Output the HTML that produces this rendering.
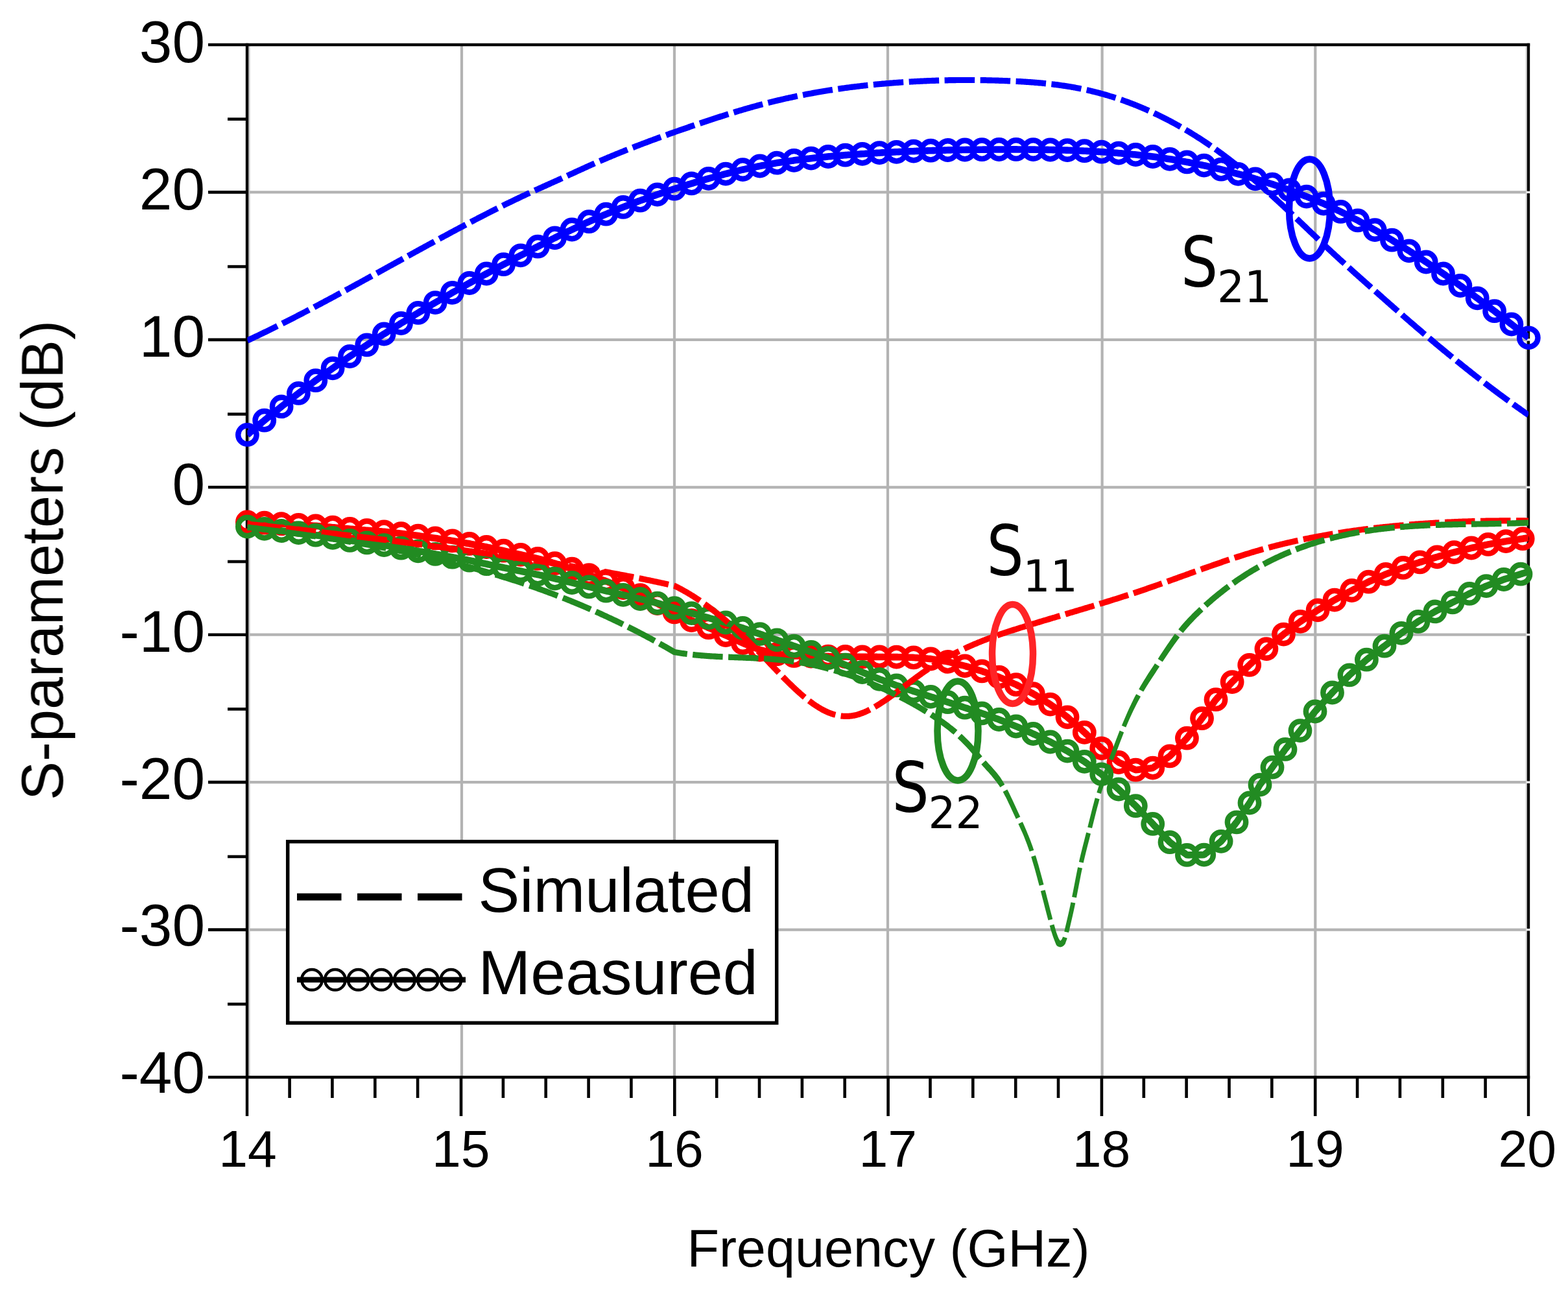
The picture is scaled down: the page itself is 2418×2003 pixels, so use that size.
<!DOCTYPE html>
<html lang="en">
<head>
<meta charset="utf-8">
<title>S-parameters: simulated vs measured</title>
<style>
html,body{margin:0;padding:0;background:#ffffff;}
body{width:2418px;height:2003px;overflow:hidden;}
svg{display:block;}
</style>
</head>
<body>
<svg xmlns="http://www.w3.org/2000/svg" width="2418" height="2003" viewBox="0 0 2418 2003">
<defs>
<clipPath id="plot"><rect x="381.4" y="69.0" width="1975.8" height="1592.0"/></clipPath>
<filter id="soft" x="0" y="0" width="2418" height="2003" filterUnits="userSpaceOnUse"><feGaussianBlur stdDeviation="0.75"/></filter>
</defs>
<rect width="2418" height="2003" fill="#ffffff"/>
<g filter="url(#soft)">
<g stroke="#b3b3b3" stroke-width="4.2" fill="none">
<line x1="712.0" y1="69.0" x2="712.0" y2="1661.0"/>
<line x1="1040.0" y1="69.0" x2="1040.0" y2="1661.0"/>
<line x1="1369.0" y1="69.0" x2="1369.0" y2="1661.0"/>
<line x1="1699.6" y1="69.0" x2="1699.6" y2="1661.0"/>
<line x1="2028.3" y1="69.0" x2="2028.3" y2="1661.0"/>
<line x1="381.0" y1="1433.6" x2="2357.0" y2="1433.6"/>
<line x1="381.0" y1="1206.1" x2="2357.0" y2="1206.1"/>
<line x1="381.0" y1="978.7" x2="2357.0" y2="978.7"/>
<line x1="381.0" y1="751.3" x2="2357.0" y2="751.3"/>
<line x1="381.0" y1="523.9" x2="2357.0" y2="523.9"/>
<line x1="381.0" y1="296.4" x2="2357.0" y2="296.4"/>
</g>
<line x1="384.3" y1="69.0" x2="384.3" y2="1661.0" stroke="#c4c4c4" stroke-width="2.4"/>
<line x1="2353.7" y1="69.0" x2="2353.7" y2="1661.0" stroke="#cfcfcf" stroke-width="2.0"/>
<g stroke="#000000" fill="none" stroke-linecap="butt">
<line x1="321" y1="69.0" x2="2359.2" y2="69.0" stroke-width="4.6"/>
<line x1="321" y1="1661.0" x2="2359.2" y2="1661.0" stroke-width="4.6"/>
<line x1="381.0" y1="66.7" x2="381.0" y2="1721" stroke-width="4.4"/>
<line x1="2357.0" y1="66.7" x2="2357.0" y2="1721" stroke-width="4.4"/>
<line x1="321" y1="1433.6" x2="381.0" y2="1433.6" stroke-width="4.6"/>
<line x1="321" y1="1206.1" x2="381.0" y2="1206.1" stroke-width="4.6"/>
<line x1="321" y1="978.7" x2="381.0" y2="978.7" stroke-width="4.6"/>
<line x1="321" y1="751.3" x2="381.0" y2="751.3" stroke-width="4.6"/>
<line x1="321" y1="523.9" x2="381.0" y2="523.9" stroke-width="4.6"/>
<line x1="321" y1="296.4" x2="381.0" y2="296.4" stroke-width="4.6"/>
<line x1="351" y1="1548.3" x2="381.0" y2="1548.3" stroke-width="4.6"/>
<line x1="351" y1="1320.9" x2="381.0" y2="1320.9" stroke-width="4.6"/>
<line x1="351" y1="1093.4" x2="381.0" y2="1093.4" stroke-width="4.6"/>
<line x1="351" y1="866.0" x2="381.0" y2="866.0" stroke-width="4.6"/>
<line x1="351" y1="638.6" x2="381.0" y2="638.6" stroke-width="4.6"/>
<line x1="351" y1="411.1" x2="381.0" y2="411.1" stroke-width="4.6"/>
<line x1="351" y1="183.7" x2="381.0" y2="183.7" stroke-width="4.6"/>
<line x1="711.0" y1="1661.0" x2="711.0" y2="1721" stroke-width="4.6"/>
<line x1="1040.3" y1="1661.0" x2="1040.3" y2="1721" stroke-width="4.6"/>
<line x1="1369.6" y1="1661.0" x2="1369.6" y2="1721" stroke-width="4.6"/>
<line x1="1698.9" y1="1661.0" x2="1698.9" y2="1721" stroke-width="4.6"/>
<line x1="2028.2" y1="1661.0" x2="2028.2" y2="1721" stroke-width="4.6"/>
<line x1="446.6" y1="1661.0" x2="446.6" y2="1693" stroke-width="4.6"/>
<line x1="512.4" y1="1661.0" x2="512.4" y2="1693" stroke-width="4.6"/>
<line x1="578.3" y1="1661.0" x2="578.3" y2="1693" stroke-width="4.6"/>
<line x1="644.1" y1="1661.0" x2="644.1" y2="1693" stroke-width="4.6"/>
<line x1="775.9" y1="1661.0" x2="775.9" y2="1693" stroke-width="4.6"/>
<line x1="841.7" y1="1661.0" x2="841.7" y2="1693" stroke-width="4.6"/>
<line x1="907.6" y1="1661.0" x2="907.6" y2="1693" stroke-width="4.6"/>
<line x1="973.4" y1="1661.0" x2="973.4" y2="1693" stroke-width="4.6"/>
<line x1="1105.2" y1="1661.0" x2="1105.2" y2="1693" stroke-width="4.6"/>
<line x1="1171.0" y1="1661.0" x2="1171.0" y2="1693" stroke-width="4.6"/>
<line x1="1236.9" y1="1661.0" x2="1236.9" y2="1693" stroke-width="4.6"/>
<line x1="1302.7" y1="1661.0" x2="1302.7" y2="1693" stroke-width="4.6"/>
<line x1="1434.5" y1="1661.0" x2="1434.5" y2="1693" stroke-width="4.6"/>
<line x1="1500.3" y1="1661.0" x2="1500.3" y2="1693" stroke-width="4.6"/>
<line x1="1566.2" y1="1661.0" x2="1566.2" y2="1693" stroke-width="4.6"/>
<line x1="1632.0" y1="1661.0" x2="1632.0" y2="1693" stroke-width="4.6"/>
<line x1="1763.8" y1="1661.0" x2="1763.8" y2="1693" stroke-width="4.6"/>
<line x1="1829.6" y1="1661.0" x2="1829.6" y2="1693" stroke-width="4.6"/>
<line x1="1895.5" y1="1661.0" x2="1895.5" y2="1693" stroke-width="4.6"/>
<line x1="1961.3" y1="1661.0" x2="1961.3" y2="1693" stroke-width="4.6"/>
<line x1="2093.1" y1="1661.0" x2="2093.1" y2="1693" stroke-width="4.6"/>
<line x1="2158.9" y1="1661.0" x2="2158.9" y2="1693" stroke-width="4.6"/>
<line x1="2224.8" y1="1661.0" x2="2224.8" y2="1693" stroke-width="4.6"/>
<line x1="2290.6" y1="1661.0" x2="2290.6" y2="1693" stroke-width="4.6"/>
</g>
<rect x="2354.0" y="1431.9" width="6" height="3.4" fill="#f0f0f0"/>
<rect x="2354.0" y="1204.4" width="6" height="3.4" fill="#f0f0f0"/>
<rect x="2354.0" y="977.0" width="6" height="3.4" fill="#f0f0f0"/>
<rect x="2354.0" y="749.6" width="6" height="3.4" fill="#f0f0f0"/>
<rect x="2354.0" y="522.2" width="6" height="3.4" fill="#f0f0f0"/>
<rect x="2354.0" y="294.7" width="6" height="3.4" fill="#f0f0f0"/>
<g class="m-s11">
<path clip-path="url(#plot)" fill="#ff0000" d="M381.1,810.2 L383.1,810.3 L385.1,810.4 L387.1,810.5 L389.1,810.6 L391.1,810.7 L393.1,810.8 L395.1,810.9 L397.1,811.0 L399.1,811.1 L401.1,811.2 L403.1,811.3 L405.1,811.4 L407.1,811.5 L409.1,811.6 L411.1,811.7 L413.1,811.8 L415.1,811.9 L417.1,812.0 L419.1,812.2 L421.1,812.3 L423.1,812.4 L425.1,812.5 L427.1,812.6 L429.0,812.7 L431.0,812.8 L433.0,812.9 L435.0,813.0 L437.0,813.1 L439.0,813.3 L441.0,813.4 L443.0,813.5 L445.0,813.6 L447.0,813.8 L449.0,813.9 L451.0,814.0 L453.0,814.1 L455.0,814.2 L457.0,814.4 L459.0,814.5 L461.0,814.6 L463.0,814.7 L464.9,814.8 L466.9,815.0 L468.9,815.1 L470.9,815.2 L472.9,815.3 L474.9,815.5 L476.9,815.6 L478.9,815.7 L480.9,815.8 L482.9,815.9 L484.9,816.1 L486.8,816.2 L488.8,816.4 L490.8,816.5 L492.8,816.7 L494.7,816.9 L496.7,817.0 L498.7,817.2 L500.7,817.4 L502.7,817.6 L504.7,817.7 L506.7,817.9 L508.7,818.1 L510.7,818.2 L512.7,818.4 L514.7,818.6 L516.6,818.8 L518.6,819.0 L520.6,819.1 L522.6,819.3 L524.6,819.5 L526.6,819.7 L528.6,819.8 L530.6,820.0 L532.6,820.2 L534.6,820.4 L536.6,820.6 L538.6,820.7 L540.6,820.9 L542.6,821.1 L544.6,821.2 L546.6,821.4 L548.6,821.6 L550.5,821.7 L552.5,821.9 L554.5,822.1 L556.5,822.2 L558.5,822.4 L560.5,822.6 L562.5,822.7 L564.5,822.9 L566.5,823.1 L568.5,823.2 L570.5,823.4 L572.5,823.5 L574.5,823.7 L576.5,823.9 L578.5,824.0 L580.5,824.2 L582.5,824.3 L584.5,824.5 L586.5,824.6 L588.5,824.8 L590.4,824.9 L592.3,825.1 L594.2,825.3 L596.2,825.6 L598.2,825.8 L600.2,826.0 L602.2,826.2 L604.2,826.5 L606.2,826.7 L608.2,826.9 L610.1,827.1 L612.1,827.4 L614.1,827.6 L616.1,827.8 L618.0,828.0 L620.0,828.3 L622.0,828.5 L624.0,828.8 L625.9,829.1 L627.9,829.3 L629.9,829.6 L631.9,829.8 L633.9,830.1 L635.9,830.3 L637.8,830.6 L639.8,830.8 L641.8,831.1 L643.8,831.4 L645.7,831.6 L647.7,831.9 L649.7,832.2 L651.7,832.5 L653.6,832.7 L655.6,833.0 L657.6,833.3 L659.6,833.6 L661.6,833.9 L663.5,834.1 L665.5,834.4 L667.5,834.7 L669.5,835.0 L671.4,835.3 L673.4,835.6 L675.4,835.9 L677.3,836.2 L679.3,836.5 L681.3,836.8 L683.3,837.1 L685.2,837.4 L687.2,837.7 L689.2,837.9 L691.2,838.2 L693.2,838.5 L695.1,838.8 L697.0,839.1 L699.0,839.5 L700.9,839.8 L702.9,840.2 L704.9,840.5 L706.9,840.8 L708.8,841.2 L710.8,841.5 L712.8,841.9 L714.7,842.2 L716.7,842.5 L718.7,842.9 L720.7,843.2 L722.6,843.5 L724.5,843.9 L726.4,844.3 L728.4,844.7 L730.4,845.1 L732.3,845.4 L734.3,845.8 L736.3,846.2 L738.2,846.6 L740.2,847.0 L742.2,847.3 L744.1,847.7 L746.1,848.1 L748.0,848.5 L749.9,848.9 L751.8,849.3 L753.8,849.7 L755.8,850.1 L757.7,850.6 L759.7,851.0 L761.6,851.4 L763.6,851.8 L765.5,852.2 L767.5,852.7 L769.4,853.1 L771.4,853.5 L773.3,853.9 L775.3,854.4 L777.2,854.8 L779.1,855.2 L781.1,855.7 L783.0,856.1 L785.0,856.6 L786.9,857.0 L788.9,857.5 L790.8,857.9 L792.8,858.4 L794.7,858.8 L796.7,859.3 L798.6,859.7 L800.6,860.2 L802.5,860.6 L804.5,861.1 L806.4,861.5 L808.4,862.0 L810.3,862.4 L812.3,862.9 L814.2,863.3 L816.2,863.8 L818.1,864.2 L820.1,864.7 L822.0,865.1 L824.0,865.6 L825.9,866.0 L827.7,866.4 L829.6,866.9 L831.5,867.5 L833.4,868.0 L835.3,868.6 L837.2,869.1 L839.2,869.6 L841.1,870.2 L843.0,870.7 L845.0,871.2 L846.9,871.8 L848.8,872.3 L850.7,872.9 L852.6,873.4 L854.5,873.9 L856.3,874.5 L858.2,875.1 L860.1,875.7 L862.0,876.3 L863.9,877.0 L865.8,877.6 L867.7,878.2 L869.6,878.8 L871.5,879.4 L873.4,880.0 L875.3,880.6 L877.2,881.2 L879.1,881.8 L880.9,882.4 L882.8,883.1 L884.6,883.8 L886.5,884.4 L888.4,885.1 L890.3,885.8 L892.2,886.4 L894.1,887.1 L896.0,887.8 L897.8,888.5 L899.7,889.1 L901.6,889.8 L903.5,890.5 L905.4,891.1 L907.2,891.8 L909.1,892.5 L911.0,893.2 L912.9,893.9 L914.7,894.6 L916.6,895.2 L918.5,895.9 L920.4,896.6 L922.2,897.3 L924.1,898.0 L926.0,898.7 L927.9,899.4 L929.8,900.0 L931.6,900.7 L933.4,901.4 L935.2,902.1 L937.1,902.9 L938.9,903.6 L940.8,904.3 L942.7,905.1 L944.5,905.8 L946.4,906.5 L948.2,907.3 L950.1,908.0 L952.0,908.8 L953.8,909.5 L955.7,910.2 L957.5,911.0 L959.3,911.7 L961.1,912.5 L963.0,913.2 L964.8,914.0 L966.7,914.8 L968.5,915.6 L970.4,916.3 L972.2,917.1 L974.0,917.9 L975.9,918.7 L977.7,919.4 L979.6,920.2 L981.4,921.0 L983.3,921.8 L985.0,922.5 L986.6,923.3 L988.4,924.2 L990.2,925.0 L992.0,925.9 L993.8,926.8 L995.6,927.7 L997.4,928.6 L999.2,929.4 L1001.0,930.3 L1002.8,931.2 L1004.6,932.1 L1006.4,932.9 L1008.2,933.8 L1010.0,934.7 L1011.7,935.6 L1013.5,936.5 L1015.3,937.4 L1017.1,938.3 L1018.9,939.2 L1020.7,940.1 L1022.4,941.0 L1024.2,941.9 L1026.0,942.8 L1027.8,943.7 L1029.6,944.6 L1031.4,945.5 L1033.2,946.3 L1035.0,947.2 L1036.8,948.2 L1038.6,949.1 L1040.4,949.9 L1042.2,950.8 L1044.0,951.7 L1045.8,952.5 L1047.6,953.4 L1049.4,954.3 L1051.2,955.2 L1053.0,956.0 L1054.8,956.9 L1056.6,957.8 L1058.4,958.6 L1060.2,959.5 L1062.0,960.4 L1063.9,961.3 L1065.9,962.1 L1067.7,962.9 L1069.5,963.7 L1071.4,964.5 L1073.2,965.3 L1075.1,966.1 L1076.9,966.9 L1078.7,967.7 L1080.6,968.5 L1082.4,969.2 L1084.2,970.0 L1086.1,970.8 L1087.9,971.6 L1089.7,972.4 L1091.6,973.2 L1093.4,974.0 L1095.2,974.8 L1097.0,975.6 L1098.9,976.4 L1100.7,977.2 L1102.5,978.0 L1104.3,978.8 L1106.2,979.6 L1108.0,980.5 L1109.8,981.3 L1111.7,982.1 L1113.5,982.9 L1115.3,983.7 L1117.1,984.5 L1118.9,985.3 L1120.7,986.1 L1122.5,987.0 L1124.4,987.8 L1126.2,988.6 L1128.0,989.5 L1129.8,990.3 L1131.6,991.1 L1133.5,992.0 L1135.3,992.8 L1137.1,993.6 L1138.9,994.5 L1140.7,995.3 L1142.6,996.1 L1144.6,997.0 L1146.5,997.7 L1148.4,998.5 L1150.2,999.2 L1152.1,999.9 L1154.0,1000.7 L1155.8,1001.4 L1157.7,1002.1 L1159.5,1002.9 L1161.4,1003.6 L1163.3,1004.3 L1165.1,1005.1 L1167.0,1005.8 L1169.0,1006.6 L1171.2,1007.3 L1173.3,1007.9 L1175.3,1008.4 L1177.2,1008.9 L1179.1,1009.3 L1181.1,1009.8 L1183.0,1010.3 L1185.0,1010.8 L1186.9,1011.3 L1188.8,1011.8 L1190.8,1012.3 L1192.7,1012.8 L1194.7,1013.3 L1196.9,1013.8 L1199.3,1014.1 L1201.3,1014.3 L1203.3,1014.5 L1205.3,1014.7 L1207.3,1014.9 L1209.3,1015.1 L1211.3,1015.3 L1213.3,1015.5 L1215.2,1015.7 L1217.2,1015.9 L1219.2,1016.1 L1221.2,1016.4 L1223.3,1016.6 L1225.5,1016.7 L1227.6,1016.7 L1229.6,1016.8 L1231.6,1016.8 L1233.6,1016.9 L1235.6,1016.9 L1237.6,1017.0 L1239.6,1017.1 L1241.6,1017.1 L1243.6,1017.2 L1245.6,1017.2 L1247.6,1017.3 L1249.6,1017.3 L1251.7,1017.3 L1253.7,1017.4 L1255.7,1017.4 L1257.7,1017.4 L1259.7,1017.4 L1261.7,1017.4 L1263.7,1017.4 L1265.7,1017.4 L1267.7,1017.4 L1269.7,1017.4 L1271.7,1017.4 L1273.7,1017.4 L1275.7,1017.4 L1277.7,1017.4 L1279.7,1017.5 L1281.7,1017.5 L1283.7,1017.5 L1285.7,1017.6 L1287.7,1017.6 L1289.7,1017.6 L1291.7,1017.6 L1293.7,1017.7 L1295.7,1017.7 L1297.7,1017.7 L1299.7,1017.7 L1301.7,1017.8 L1303.7,1017.8 L1305.7,1017.8 L1307.6,1017.9 L1309.6,1017.9 L1311.6,1017.9 L1313.6,1018.0 L1315.6,1018.0 L1317.6,1018.0 L1319.6,1018.1 L1321.6,1018.1 L1323.6,1018.1 L1325.6,1018.1 L1327.6,1018.2 L1329.7,1018.2 L1331.7,1018.2 L1333.7,1018.2 L1335.7,1018.2 L1337.7,1018.2 L1339.7,1018.2 L1341.7,1018.2 L1343.7,1018.2 L1345.7,1018.2 L1347.7,1018.2 L1349.7,1018.2 L1351.7,1018.2 L1353.7,1018.3 L1355.7,1018.3 L1357.7,1018.3 L1359.7,1018.3 L1361.7,1018.3 L1363.7,1018.3 L1365.7,1018.3 L1367.7,1018.3 L1369.7,1018.3 L1371.7,1018.3 L1373.7,1018.3 L1375.7,1018.4 L1377.7,1018.4 L1379.7,1018.4 L1381.7,1018.4 L1383.6,1018.4 L1385.6,1018.5 L1387.6,1018.5 L1389.6,1018.6 L1391.6,1018.7 L1393.6,1018.7 L1395.6,1018.8 L1397.6,1018.9 L1399.6,1018.9 L1401.6,1019.0 L1403.6,1019.1 L1405.6,1019.1 L1407.5,1019.2 L1409.4,1019.3 L1411.3,1019.4 L1413.3,1019.6 L1415.3,1019.7 L1417.3,1019.9 L1419.3,1020.1 L1421.3,1020.2 L1423.3,1020.4 L1425.2,1020.5 L1427.2,1020.7 L1429.2,1020.8 L1431.2,1021.0 L1433.2,1021.2 L1435.0,1021.3 L1436.8,1021.6 L1438.7,1021.9 L1440.7,1022.3 L1442.7,1022.6 L1444.7,1022.9 L1446.6,1023.2 L1448.6,1023.5 L1450.6,1023.9 L1452.6,1024.2 L1454.5,1024.5 L1456.5,1024.8 L1458.5,1025.1 L1460.3,1025.4 L1462.0,1025.8 L1463.9,1026.3 L1465.8,1026.8 L1467.8,1027.3 L1469.7,1027.8 L1471.7,1028.2 L1473.6,1028.7 L1475.5,1029.2 L1477.5,1029.7 L1479.4,1030.2 L1481.4,1030.7 L1483.3,1031.1 L1485.2,1031.6 L1487.0,1032.1 L1488.8,1032.7 L1490.7,1033.2 L1492.7,1033.8 L1494.6,1034.4 L1496.5,1035.0 L1498.4,1035.6 L1500.3,1036.2 L1502.2,1036.7 L1504.1,1037.3 L1506.0,1037.9 L1508.0,1038.5 L1509.9,1039.1 L1511.7,1039.6 L1513.5,1040.2 L1515.4,1040.9 L1517.3,1041.5 L1519.1,1042.2 L1521.0,1042.9 L1522.9,1043.5 L1524.8,1044.2 L1526.7,1044.8 L1528.6,1045.5 L1530.5,1046.2 L1532.4,1046.8 L1534.2,1047.5 L1536.1,1048.1 L1537.9,1048.8 L1539.6,1049.4 L1541.3,1050.2 L1543.2,1051.0 L1545.0,1051.8 L1546.8,1052.6 L1548.6,1053.4 L1550.5,1054.2 L1552.3,1055.0 L1554.1,1055.8 L1556.0,1056.6 L1557.8,1057.4 L1559.6,1058.3 L1561.5,1059.1 L1563.3,1059.8 L1564.9,1060.6 L1566.5,1061.5 L1568.3,1062.4 L1570.0,1063.3 L1571.8,1064.3 L1573.6,1065.2 L1575.3,1066.2 L1577.1,1067.1 L1578.9,1068.0 L1580.6,1069.0 L1582.4,1069.9 L1584.2,1070.9 L1585.9,1071.8 L1587.7,1072.7 L1589.4,1073.7 L1591.0,1074.5 L1592.6,1075.5 L1594.3,1076.6 L1596.0,1077.6 L1597.7,1078.7 L1599.4,1079.8 L1601.1,1080.8 L1602.8,1081.9 L1604.5,1082.9 L1606.2,1084.0 L1607.9,1085.1 L1609.6,1086.1 L1611.3,1087.2 L1613.0,1088.2 L1614.7,1089.3 L1616.2,1090.3 L1617.7,1091.3 L1619.2,1092.4 L1620.8,1093.6 L1622.4,1094.8 L1624.0,1096.0 L1625.6,1097.2 L1627.2,1098.4 L1628.9,1099.6 L1630.5,1100.8 L1632.1,1102.0 L1633.7,1103.2 L1635.3,1104.4 L1636.9,1105.6 L1638.5,1106.8 L1640.1,1108.0 L1641.6,1109.1 L1643.0,1110.2 L1644.4,1111.5 L1645.9,1112.8 L1647.4,1114.1 L1648.9,1115.4 L1650.4,1116.8 L1651.8,1118.1 L1653.3,1119.4 L1654.8,1120.8 L1656.3,1122.1 L1657.8,1123.4 L1659.3,1124.8 L1660.8,1126.1 L1662.3,1127.4 L1663.8,1128.8 L1665.3,1130.1 L1666.8,1131.4 L1668.2,1132.7 L1669.7,1134.0 L1671.1,1135.4 L1672.6,1136.8 L1674.0,1138.1 L1675.5,1139.5 L1677.0,1140.8 L1678.4,1142.2 L1679.9,1143.6 L1681.3,1144.9 L1682.8,1146.3 L1684.3,1147.7 L1685.7,1149.0 L1687.2,1150.4 L1688.7,1151.8 L1690.1,1153.1 L1691.6,1154.5 L1693.0,1155.9 L1694.6,1157.3 L1696.2,1158.7 L1697.8,1160.0 L1699.4,1161.3 L1700.9,1162.6 L1702.4,1163.8 L1704.0,1165.1 L1705.5,1166.4 L1707.1,1167.6 L1708.6,1168.9 L1710.2,1170.2 L1711.7,1171.4 L1713.3,1172.7 L1714.8,1174.0 L1716.4,1175.3 L1717.9,1176.5 L1719.4,1177.8 L1721.3,1179.3 L1723.6,1180.7 L1725.7,1181.6 L1727.6,1182.4 L1729.4,1183.3 L1731.2,1184.1 L1733.0,1184.9 L1734.9,1185.7 L1736.7,1186.5 L1738.5,1187.3 L1740.4,1188.1 L1742.2,1188.9 L1744.0,1189.8 L1745.8,1190.6 L1747.9,1191.5 L1751.1,1192.5 L1754.3,1192.2 L1756.3,1192.0 L1758.2,1191.7 L1760.2,1191.5 L1762.2,1191.3 L1764.2,1191.1 L1766.2,1190.8 L1768.2,1190.6 L1770.2,1190.4 L1772.2,1190.1 L1774.1,1189.9 L1776.1,1189.7 L1779.2,1189.2 L1782.1,1187.5 L1783.8,1186.3 L1785.5,1185.2 L1787.1,1184.1 L1788.8,1182.9 L1790.4,1181.8 L1792.1,1180.6 L1793.7,1179.5 L1795.3,1178.4 L1797.0,1177.2 L1798.6,1176.1 L1800.3,1175.0 L1801.9,1173.8 L1803.6,1172.7 L1805.2,1171.5 L1807.2,1170.1 L1809.1,1168.3 L1810.5,1166.8 L1811.9,1165.4 L1813.2,1163.9 L1814.6,1162.5 L1816.0,1161.0 L1817.4,1159.6 L1818.7,1158.1 L1820.1,1156.7 L1821.5,1155.2 L1822.9,1153.8 L1824.3,1152.3 L1825.6,1150.9 L1827.0,1149.4 L1828.4,1148.0 L1829.8,1146.6 L1831.2,1145.1 L1832.5,1143.7 L1834.1,1142.0 L1835.5,1140.2 L1836.7,1138.6 L1838.0,1137.0 L1839.2,1135.4 L1840.4,1133.8 L1841.6,1132.2 L1842.8,1130.6 L1844.0,1129.0 L1845.2,1127.4 L1846.4,1125.8 L1847.6,1124.2 L1848.8,1122.6 L1850.0,1121.1 L1851.2,1119.5 L1852.4,1117.9 L1853.6,1116.3 L1854.9,1114.7 L1856.1,1113.1 L1857.3,1111.5 L1858.5,1109.8 L1859.7,1108.2 L1860.9,1106.6 L1862.1,1105.0 L1863.3,1103.4 L1864.5,1101.8 L1865.6,1100.2 L1866.8,1098.6 L1868.0,1097.0 L1869.2,1095.4 L1870.4,1093.8 L1871.6,1092.2 L1872.8,1090.6 L1874.0,1089.0 L1875.2,1087.4 L1876.4,1085.8 L1877.6,1084.1 L1878.7,1082.7 L1879.8,1081.4 L1881.1,1080.0 L1882.4,1078.5 L1883.8,1077.1 L1885.1,1075.6 L1886.5,1074.1 L1887.8,1072.7 L1889.2,1071.2 L1890.6,1069.7 L1891.9,1068.3 L1893.3,1066.8 L1894.6,1065.3 L1896.0,1063.8 L1897.4,1062.4 L1898.7,1060.9 L1900.1,1059.4 L1901.4,1058.0 L1902.8,1056.5 L1904.1,1055.1 L1905.4,1053.8 L1906.8,1052.4 L1908.3,1051.0 L1909.7,1049.6 L1911.1,1048.2 L1912.5,1046.8 L1914.0,1045.4 L1915.4,1044.0 L1916.8,1042.6 L1918.2,1041.2 L1919.7,1039.8 L1921.1,1038.4 L1922.5,1037.0 L1923.9,1035.6 L1925.4,1034.2 L1926.8,1032.8 L1928.2,1031.4 L1929.6,1030.0 L1931.0,1028.6 L1932.5,1027.3 L1933.9,1025.9 L1935.4,1024.5 L1936.8,1023.1 L1938.3,1021.8 L1939.7,1020.4 L1941.2,1019.0 L1942.6,1017.6 L1944.1,1016.3 L1945.5,1014.9 L1947.0,1013.5 L1948.4,1012.1 L1949.9,1010.7 L1951.3,1009.4 L1952.8,1008.0 L1954.2,1006.6 L1955.6,1005.3 L1957.0,1004.0 L1958.4,1002.8 L1960.0,1001.5 L1961.5,1000.2 L1963.0,998.9 L1964.5,997.6 L1966.1,996.3 L1967.6,995.0 L1969.1,993.7 L1970.6,992.4 L1972.2,991.1 L1973.7,989.9 L1975.2,988.6 L1976.7,987.3 L1978.3,986.0 L1979.8,984.7 L1981.3,983.4 L1982.7,982.2 L1984.2,981.1 L1985.8,979.8 L1987.4,978.6 L1989.0,977.4 L1990.6,976.2 L1992.2,975.0 L1993.8,973.8 L1995.4,972.6 L1996.9,971.4 L1998.5,970.1 L2000.1,968.9 L2001.7,967.7 L2003.3,966.5 L2004.9,965.3 L2006.5,964.1 L2008.0,963.0 L2009.5,961.9 L2011.1,960.9 L2012.8,959.8 L2014.5,958.7 L2016.1,957.6 L2017.8,956.5 L2019.5,955.4 L2021.1,954.3 L2022.8,953.2 L2024.5,952.1 L2026.2,951.0 L2027.8,949.9 L2029.5,948.8 L2031.2,947.7 L2032.9,946.6 L2034.5,945.6 L2036.1,944.6 L2037.8,943.6 L2039.5,942.5 L2041.2,941.5 L2042.9,940.4 L2044.6,939.4 L2046.3,938.4 L2048.1,937.3 L2049.8,936.3 L2051.5,935.3 L2053.2,934.2 L2054.9,933.2 L2056.6,932.2 L2058.3,931.1 L2060.0,930.1 L2061.6,929.2 L2063.3,928.2 L2065.1,927.3 L2066.8,926.3 L2068.6,925.3 L2070.3,924.4 L2072.1,923.4 L2073.8,922.5 L2075.6,921.5 L2077.3,920.5 L2079.1,919.6 L2080.8,918.6 L2082.6,917.6 L2084.3,916.7 L2086.1,915.7 L2087.8,914.8 L2089.5,913.9 L2091.3,913.0 L2093.1,912.1 L2094.8,911.2 L2096.6,910.3 L2098.4,909.3 L2100.2,908.4 L2102.0,907.5 L2103.7,906.6 L2105.5,905.7 L2107.3,904.8 L2109.1,903.8 L2110.9,902.9 L2112.5,902.1 L2114.2,901.3 L2116.0,900.5 L2117.8,899.7 L2119.7,898.9 L2121.5,898.1 L2123.3,897.2 L2125.1,896.4 L2127.0,895.6 L2128.8,894.8 L2130.6,894.0 L2132.5,893.2 L2134.3,892.4 L2136.1,891.5 L2137.9,890.8 L2139.6,890.0 L2141.3,889.4 L2143.2,888.7 L2145.1,888.0 L2147.0,887.3 L2148.8,886.6 L2150.7,885.9 L2152.6,885.2 L2154.5,884.5 L2156.3,883.9 L2158.2,883.2 L2160.1,882.5 L2162.0,881.8 L2163.8,881.1 L2165.6,880.4 L2167.4,879.8 L2169.3,879.2 L2171.2,878.6 L2173.1,878.0 L2175.0,877.3 L2176.9,876.7 L2178.8,876.1 L2180.7,875.5 L2182.6,874.8 L2184.5,874.2 L2186.4,873.6 L2188.3,873.0 L2190.2,872.3 L2192.1,871.7 L2194.0,871.2 L2195.9,870.6 L2197.8,870.0 L2199.7,869.4 L2201.6,868.8 L2203.5,868.2 L2205.4,867.6 L2207.3,867.0 L2209.2,866.5 L2211.2,865.9 L2213.1,865.3 L2215.0,864.7 L2216.8,864.1 L2218.7,863.6 L2220.6,863.1 L2222.5,862.5 L2224.4,862.0 L2226.4,861.5 L2228.3,861.0 L2230.2,860.4 L2232.2,859.9 L2234.1,859.4 L2236.0,858.9 L2237.9,858.4 L2239.9,857.8 L2241.8,857.3 L2243.7,856.8 L2245.6,856.3 L2247.5,855.8 L2249.4,855.4 L2251.4,854.9 L2253.3,854.4 L2255.3,853.9 L2257.2,853.4 L2259.2,852.9 L2261.1,852.5 L2263.0,852.0 L2265.0,851.5 L2266.9,851.0 L2268.8,850.5 L2270.7,850.1 L2272.6,849.7 L2274.6,849.3 L2276.5,848.8 L2278.5,848.4 L2280.4,848.0 L2282.4,847.6 L2284.3,847.1 L2286.3,846.7 L2288.2,846.3 L2290.2,845.9 L2292.1,845.4 L2294.1,845.0 L2296.0,844.6 L2297.8,844.3 L2299.8,844.0 L2301.8,843.6 L2303.7,843.3 L2305.7,842.9 L2307.7,842.6 L2309.6,842.2 L2311.6,841.9 L2313.6,841.5 L2315.6,841.2 L2317.5,840.9 L2319.5,840.5 L2321.5,840.2 L2323.4,839.8 L2325.3,839.5 L2327.3,839.2 L2329.3,838.9 L2331.2,838.6 L2333.2,838.3 L2335.2,838.0 L2337.2,837.7 L2339.1,837.4 L2341.1,837.1 L2343.1,836.8 L2345.1,836.5 L2347.0,836.2 L2349.0,835.9 L2351.0,835.6 L2353.0,835.3 L2355.0,835.0 L2356.9,834.7 L2358.9,834.4 L2360.0,834.2 L2358.4,823.8 L2357.3,823.9 L2355.3,824.2 L2353.4,824.5 L2351.4,824.8 L2349.4,825.1 L2347.4,825.4 L2345.4,825.7 L2343.5,826.1 L2341.5,826.4 L2339.5,826.7 L2337.5,827.0 L2335.6,827.3 L2333.6,827.6 L2331.6,827.9 L2329.6,828.2 L2327.7,828.5 L2325.7,828.8 L2323.7,829.1 L2321.7,829.4 L2319.6,829.7 L2317.7,830.1 L2315.7,830.4 L2313.7,830.8 L2311.8,831.1 L2309.8,831.5 L2307.8,831.8 L2305.8,832.1 L2303.9,832.5 L2301.9,832.8 L2299.9,833.2 L2298.0,833.5 L2296.0,833.9 L2293.9,834.2 L2291.9,834.7 L2289.9,835.1 L2288.0,835.5 L2286.0,835.9 L2284.0,836.4 L2282.1,836.8 L2280.1,837.2 L2278.2,837.6 L2276.2,838.0 L2274.3,838.5 L2272.3,838.9 L2270.4,839.3 L2268.3,839.8 L2266.3,840.2 L2264.4,840.7 L2262.4,841.2 L2260.5,841.7 L2258.5,842.2 L2256.6,842.7 L2254.7,843.1 L2252.7,843.6 L2250.8,844.1 L2248.8,844.6 L2246.9,845.1 L2245.0,845.6 L2243.0,846.0 L2241.0,846.5 L2239.0,847.1 L2237.1,847.6 L2235.2,848.1 L2233.2,848.6 L2231.3,849.2 L2229.4,849.7 L2227.4,850.2 L2225.5,850.7 L2223.6,851.3 L2221.7,851.8 L2219.7,852.3 L2217.8,852.8 L2215.8,853.4 L2213.8,854.0 L2211.9,854.6 L2210.0,855.1 L2208.0,855.7 L2206.1,856.3 L2204.2,856.9 L2202.3,857.5 L2200.4,858.1 L2198.5,858.7 L2196.6,859.3 L2194.7,859.9 L2192.8,860.4 L2190.8,861.0 L2188.9,861.6 L2186.9,862.3 L2185.0,862.9 L2183.1,863.5 L2181.2,864.1 L2179.3,864.8 L2177.4,865.4 L2175.5,866.0 L2173.6,866.6 L2171.7,867.3 L2169.8,867.9 L2167.9,868.5 L2166.0,869.1 L2164.1,869.8 L2162.1,870.4 L2160.2,871.1 L2158.3,871.8 L2156.4,872.5 L2154.5,873.2 L2152.7,873.9 L2150.8,874.6 L2148.9,875.3 L2147.0,876.0 L2145.2,876.7 L2143.3,877.4 L2141.4,878.1 L2139.5,878.8 L2137.7,879.5 L2135.7,880.2 L2133.7,881.0 L2131.8,881.9 L2130.0,882.7 L2128.1,883.5 L2126.3,884.3 L2124.5,885.1 L2122.7,885.9 L2120.8,886.7 L2119.0,887.6 L2117.2,888.4 L2115.3,889.2 L2113.5,890.0 L2111.7,890.8 L2109.8,891.6 L2107.9,892.5 L2106.0,893.5 L2104.2,894.4 L2102.4,895.3 L2100.7,896.3 L2098.9,897.2 L2097.1,898.1 L2095.3,899.0 L2093.6,899.9 L2091.8,900.8 L2090.0,901.7 L2088.2,902.7 L2086.4,903.6 L2084.7,904.5 L2082.8,905.4 L2081.0,906.4 L2079.2,907.4 L2077.5,908.3 L2075.7,909.3 L2074.0,910.3 L2072.2,911.2 L2070.5,912.2 L2068.7,913.2 L2067.0,914.1 L2065.2,915.1 L2063.5,916.1 L2061.7,917.0 L2060.0,918.0 L2058.2,918.9 L2056.4,919.9 L2054.6,921.0 L2052.8,922.1 L2051.1,923.1 L2049.4,924.1 L2047.7,925.2 L2046.0,926.2 L2044.3,927.2 L2042.6,928.3 L2040.8,929.3 L2039.1,930.3 L2037.4,931.4 L2035.7,932.4 L2034.0,933.5 L2032.3,934.5 L2030.6,935.5 L2028.8,936.6 L2027.1,937.8 L2025.4,938.9 L2023.7,940.0 L2022.0,941.1 L2020.4,942.2 L2018.7,943.2 L2017.0,944.3 L2015.3,945.4 L2013.7,946.5 L2012.0,947.6 L2010.3,948.7 L2008.6,949.8 L2007.0,950.9 L2005.3,952.0 L2003.6,953.1 L2001.8,954.4 L2000.1,955.7 L1998.5,956.9 L1996.9,958.1 L1995.3,959.3 L1993.7,960.5 L1992.1,961.7 L1990.5,962.9 L1988.9,964.1 L1987.3,965.3 L1985.8,966.6 L1984.2,967.8 L1982.6,969.0 L1981.0,970.2 L1979.4,971.4 L1977.8,972.6 L1976.1,973.9 L1974.5,975.3 L1972.9,976.6 L1971.4,977.9 L1969.9,979.2 L1968.4,980.5 L1966.8,981.8 L1965.3,983.1 L1963.8,984.4 L1962.3,985.7 L1960.7,986.9 L1959.2,988.2 L1957.7,989.5 L1956.2,990.8 L1954.6,992.1 L1953.1,993.4 L1951.6,994.7 L1950.0,996.1 L1948.4,997.5 L1946.9,998.9 L1945.5,1000.3 L1944.0,1001.7 L1942.6,1003.1 L1941.1,1004.4 L1939.7,1005.8 L1938.2,1007.2 L1936.8,1008.6 L1935.3,1009.9 L1933.9,1011.3 L1932.4,1012.7 L1931.0,1014.1 L1929.5,1015.5 L1928.1,1016.8 L1926.6,1018.2 L1925.2,1019.6 L1923.7,1021.0 L1922.2,1022.4 L1920.8,1023.8 L1919.4,1025.2 L1917.9,1026.6 L1916.5,1028.0 L1915.1,1029.4 L1913.7,1030.8 L1912.2,1032.2 L1910.8,1033.6 L1909.4,1035.0 L1908.0,1036.4 L1906.5,1037.9 L1905.1,1039.3 L1903.7,1040.7 L1902.2,1042.1 L1900.8,1043.5 L1899.4,1044.9 L1898.0,1046.3 L1896.5,1047.7 L1895.0,1049.3 L1893.6,1050.8 L1892.3,1052.2 L1890.9,1053.7 L1889.6,1055.2 L1888.2,1056.6 L1886.9,1058.1 L1885.5,1059.6 L1884.1,1061.1 L1882.8,1062.5 L1881.4,1064.0 L1880.1,1065.5 L1878.7,1066.9 L1877.3,1068.4 L1876.0,1069.9 L1874.6,1071.3 L1873.3,1072.8 L1871.8,1074.4 L1870.4,1076.1 L1869.1,1077.8 L1867.9,1079.4 L1866.7,1081.1 L1865.5,1082.7 L1864.3,1084.3 L1863.1,1085.9 L1861.9,1087.5 L1860.7,1089.1 L1859.5,1090.7 L1858.3,1092.3 L1857.2,1093.9 L1856.0,1095.5 L1854.8,1097.1 L1853.6,1098.7 L1852.4,1100.3 L1851.2,1101.9 L1850.0,1103.5 L1848.8,1105.1 L1847.6,1106.7 L1846.4,1108.3 L1845.2,1109.9 L1844.0,1111.5 L1842.8,1113.1 L1841.6,1114.7 L1840.4,1116.2 L1839.2,1117.8 L1838.0,1119.4 L1836.7,1121.0 L1835.5,1122.6 L1834.3,1124.2 L1833.1,1125.8 L1831.9,1127.4 L1830.7,1129.0 L1829.5,1130.6 L1828.3,1132.2 L1827.1,1133.7 L1826.1,1135.1 L1824.9,1136.3 L1823.5,1137.8 L1822.1,1139.2 L1820.7,1140.7 L1819.3,1142.1 L1818.0,1143.6 L1816.6,1145.0 L1815.2,1146.5 L1813.8,1147.9 L1812.4,1149.4 L1811.1,1150.8 L1809.7,1152.3 L1808.3,1153.7 L1806.9,1155.2 L1805.6,1156.6 L1804.2,1158.1 L1802.8,1159.5 L1801.5,1160.9 L1800.5,1162.0 L1799.2,1162.8 L1797.5,1164.0 L1795.9,1165.1 L1794.3,1166.2 L1792.6,1167.4 L1791.0,1168.5 L1789.3,1169.6 L1787.7,1170.8 L1786.0,1171.9 L1784.4,1173.1 L1782.7,1174.2 L1781.1,1175.3 L1779.4,1176.5 L1777.8,1177.6 L1776.3,1178.7 L1775.7,1179.2 L1774.9,1179.1 L1772.9,1179.4 L1770.9,1179.6 L1768.9,1179.8 L1766.9,1180.1 L1765.0,1180.3 L1763.0,1180.5 L1761.0,1180.8 L1759.0,1181.0 L1757.0,1181.2 L1755.0,1181.5 L1753.0,1181.7 L1752.2,1181.9 L1751.8,1181.6 L1750.1,1180.9 L1748.3,1180.1 L1746.5,1179.3 L1744.7,1178.5 L1742.8,1177.6 L1741.0,1176.8 L1739.2,1176.0 L1737.4,1175.2 L1735.5,1174.4 L1733.7,1173.6 L1731.9,1172.8 L1730.0,1171.9 L1728.5,1171.3 L1727.4,1170.6 L1726.2,1169.6 L1724.6,1168.3 L1723.1,1167.1 L1721.5,1165.8 L1720.0,1164.5 L1718.4,1163.3 L1716.9,1162.0 L1715.4,1160.7 L1713.8,1159.5 L1712.3,1158.2 L1710.7,1156.9 L1709.2,1155.6 L1707.6,1154.4 L1706.1,1153.1 L1704.5,1151.8 L1703.0,1150.6 L1701.7,1149.4 L1700.3,1148.1 L1698.8,1146.7 L1697.3,1145.4 L1695.9,1144.0 L1694.4,1142.7 L1693.0,1141.3 L1691.5,1139.9 L1690.0,1138.6 L1688.6,1137.2 L1687.1,1135.8 L1685.7,1134.5 L1684.2,1133.1 L1682.7,1131.7 L1681.3,1130.4 L1679.8,1129.0 L1678.3,1127.6 L1676.9,1126.3 L1675.3,1124.9 L1673.8,1123.5 L1672.3,1122.2 L1670.8,1120.8 L1669.3,1119.5 L1667.9,1118.2 L1666.4,1116.9 L1664.9,1115.5 L1663.4,1114.2 L1661.9,1112.9 L1660.4,1111.5 L1658.9,1110.2 L1657.4,1108.9 L1655.9,1107.5 L1654.4,1106.2 L1652.9,1104.9 L1651.4,1103.5 L1649.8,1102.1 L1648.1,1100.7 L1646.4,1099.5 L1644.8,1098.3 L1643.2,1097.1 L1641.6,1095.9 L1640.0,1094.7 L1638.4,1093.5 L1636.8,1092.3 L1635.2,1091.1 L1633.6,1089.9 L1632.0,1088.7 L1630.4,1087.5 L1628.8,1086.3 L1627.2,1085.1 L1625.6,1083.9 L1623.9,1082.7 L1622.1,1081.4 L1620.3,1080.3 L1618.6,1079.2 L1616.9,1078.2 L1615.2,1077.1 L1613.5,1076.1 L1611.8,1075.0 L1610.1,1073.9 L1608.4,1072.9 L1606.7,1071.8 L1605.0,1070.8 L1603.3,1069.7 L1601.6,1068.6 L1599.9,1067.6 L1598.2,1066.5 L1596.4,1065.4 L1594.5,1064.3 L1592.7,1063.4 L1590.9,1062.4 L1589.2,1061.5 L1587.4,1060.6 L1585.6,1059.6 L1583.9,1058.7 L1582.1,1057.7 L1580.3,1056.8 L1578.6,1055.9 L1576.8,1054.9 L1575.0,1054.0 L1573.3,1053.0 L1571.5,1052.1 L1569.6,1051.1 L1567.6,1050.2 L1565.7,1049.4 L1563.9,1048.5 L1562.1,1047.7 L1560.2,1046.9 L1558.4,1046.1 L1556.6,1045.3 L1554.7,1044.5 L1552.9,1043.7 L1551.1,1042.9 L1549.2,1042.1 L1547.4,1041.3 L1545.6,1040.5 L1543.7,1039.7 L1541.6,1038.8 L1539.6,1038.1 L1537.7,1037.5 L1535.9,1036.8 L1534.0,1036.2 L1532.1,1035.5 L1530.2,1034.8 L1528.3,1034.2 L1526.4,1033.5 L1524.5,1032.9 L1522.6,1032.2 L1520.8,1031.5 L1518.9,1030.9 L1516.9,1030.2 L1514.9,1029.5 L1513.0,1028.9 L1511.0,1028.4 L1509.1,1027.8 L1507.2,1027.2 L1505.3,1026.6 L1503.4,1026.0 L1501.5,1025.4 L1499.6,1024.9 L1497.7,1024.3 L1495.7,1023.7 L1493.8,1023.1 L1491.9,1022.5 L1489.9,1021.9 L1487.8,1021.4 L1485.9,1020.9 L1483.9,1020.4 L1482.0,1019.9 L1480.0,1019.4 L1478.1,1018.9 L1476.2,1018.4 L1474.2,1018.0 L1472.3,1017.5 L1470.3,1017.0 L1468.4,1016.5 L1466.5,1016.0 L1464.5,1015.5 L1462.3,1015.0 L1460.2,1014.7 L1458.2,1014.3 L1456.2,1014.0 L1454.2,1013.7 L1452.3,1013.4 L1450.3,1013.1 L1448.3,1012.8 L1446.3,1012.4 L1444.4,1012.1 L1442.4,1011.8 L1440.4,1011.5 L1438.4,1011.2 L1436.3,1010.8 L1434.1,1010.6 L1432.1,1010.4 L1430.1,1010.3 L1428.1,1010.1 L1426.1,1010.0 L1424.1,1009.8 L1422.1,1009.6 L1420.1,1009.5 L1418.1,1009.3 L1416.1,1009.2 L1414.1,1009.0 L1412.1,1008.9 L1410.1,1008.7 L1407.9,1008.6 L1405.9,1008.5 L1403.9,1008.5 L1401.9,1008.4 L1399.9,1008.3 L1397.9,1008.3 L1395.9,1008.2 L1393.9,1008.1 L1391.9,1008.1 L1389.9,1008.0 L1387.9,1008.0 L1385.9,1007.9 L1383.9,1007.8 L1381.8,1007.8 L1379.8,1007.8 L1377.8,1007.8 L1375.8,1007.8 L1373.8,1007.7 L1371.8,1007.7 L1369.8,1007.7 L1367.8,1007.7 L1365.8,1007.7 L1363.8,1007.7 L1361.8,1007.7 L1359.8,1007.7 L1357.8,1007.7 L1355.7,1007.7 L1353.7,1007.7 L1351.7,1007.6 L1349.7,1007.6 L1347.7,1007.6 L1345.7,1007.6 L1343.7,1007.6 L1341.7,1007.6 L1339.7,1007.6 L1337.7,1007.6 L1335.7,1007.6 L1333.7,1007.6 L1331.7,1007.6 L1329.8,1007.6 L1327.8,1007.6 L1325.8,1007.6 L1323.8,1007.5 L1321.8,1007.5 L1319.8,1007.5 L1317.8,1007.4 L1315.8,1007.4 L1313.8,1007.4 L1311.8,1007.3 L1309.8,1007.3 L1307.8,1007.3 L1305.8,1007.2 L1303.8,1007.2 L1301.8,1007.2 L1299.8,1007.1 L1297.8,1007.1 L1295.8,1007.1 L1293.8,1007.1 L1291.8,1007.0 L1289.8,1007.0 L1287.8,1007.0 L1285.8,1007.0 L1283.8,1006.9 L1281.8,1006.9 L1279.8,1006.9 L1277.8,1006.8 L1275.8,1006.8 L1273.8,1006.8 L1271.8,1006.8 L1269.8,1006.8 L1267.8,1006.8 L1265.8,1006.8 L1263.8,1006.8 L1261.8,1006.8 L1259.8,1006.8 L1257.8,1006.8 L1255.8,1006.8 L1253.8,1006.8 L1251.8,1006.7 L1249.8,1006.7 L1247.9,1006.7 L1245.9,1006.6 L1243.9,1006.6 L1241.9,1006.5 L1239.9,1006.5 L1237.9,1006.4 L1235.9,1006.4 L1233.9,1006.3 L1231.9,1006.2 L1229.9,1006.2 L1227.9,1006.1 L1226.0,1006.1 L1224.2,1006.0 L1222.3,1005.8 L1220.3,1005.6 L1218.3,1005.4 L1216.3,1005.2 L1214.3,1005.0 L1212.4,1004.8 L1210.4,1004.6 L1208.4,1004.4 L1206.4,1004.2 L1204.4,1004.0 L1202.4,1003.8 L1200.5,1003.6 L1198.9,1003.4 L1197.2,1003.0 L1195.3,1002.5 L1193.4,1002.0 L1191.4,1001.5 L1189.5,1001.0 L1187.5,1000.5 L1185.6,1000.0 L1183.7,999.6 L1181.7,999.1 L1179.8,998.6 L1177.9,998.1 L1175.9,997.6 L1174.1,997.2 L1172.6,996.6 L1170.9,996.0 L1169.0,995.2 L1167.2,994.5 L1165.3,993.8 L1163.4,993.0 L1161.6,992.3 L1159.7,991.5 L1157.9,990.8 L1156.0,990.1 L1154.1,989.3 L1152.3,988.6 L1150.4,987.9 L1148.6,987.2 L1146.9,986.4 L1145.1,985.6 L1143.3,984.8 L1141.5,984.0 L1139.7,983.1 L1137.9,982.3 L1136.0,981.5 L1134.2,980.7 L1132.4,979.8 L1130.6,979.0 L1128.8,978.2 L1127.0,977.3 L1125.1,976.5 L1123.3,975.7 L1121.5,974.8 L1119.6,974.0 L1117.8,973.2 L1115.9,972.4 L1114.1,971.6 L1112.3,970.8 L1110.5,970.0 L1108.6,969.1 L1106.8,968.3 L1105.0,967.5 L1103.1,966.7 L1101.3,965.9 L1099.5,965.1 L1097.7,964.3 L1095.8,963.5 L1094.0,962.7 L1092.1,961.9 L1090.3,961.1 L1088.4,960.3 L1086.6,959.5 L1084.8,958.7 L1082.9,957.9 L1081.1,957.1 L1079.2,956.4 L1077.4,955.6 L1075.6,954.8 L1073.7,954.0 L1071.9,953.2 L1070.1,952.4 L1068.3,951.7 L1066.6,950.8 L1064.8,950.0 L1063.0,949.1 L1061.2,948.2 L1059.4,947.4 L1057.6,946.5 L1055.8,945.6 L1054.0,944.7 L1052.2,943.9 L1050.4,943.0 L1048.6,942.1 L1046.8,941.3 L1045.0,940.4 L1043.2,939.5 L1041.5,938.7 L1039.7,937.8 L1037.9,936.9 L1036.1,936.0 L1034.4,935.1 L1032.6,934.2 L1030.8,933.3 L1029.0,932.4 L1027.2,931.5 L1025.4,930.6 L1023.6,929.7 L1021.8,928.8 L1020.1,927.9 L1018.3,927.0 L1016.5,926.1 L1014.6,925.2 L1012.8,924.3 L1011.1,923.4 L1009.3,922.5 L1007.5,921.7 L1005.7,920.8 L1003.9,919.9 L1002.1,919.0 L1000.3,918.2 L998.5,917.3 L996.7,916.4 L994.9,915.5 L993.1,914.6 L991.3,913.7 L989.3,912.8 L987.4,912.0 L985.5,911.2 L983.7,910.4 L981.8,909.7 L980.0,908.9 L978.2,908.1 L976.3,907.3 L974.5,906.6 L972.6,905.8 L970.8,905.0 L968.9,904.2 L967.1,903.5 L965.2,902.7 L963.4,901.9 L961.5,901.1 L959.6,900.4 L957.7,899.6 L955.9,898.9 L954.0,898.2 L952.2,897.4 L950.3,896.7 L948.4,896.0 L946.6,895.2 L944.7,894.5 L942.9,893.7 L941.0,893.0 L939.1,892.3 L937.2,891.5 L935.3,890.8 L933.4,890.1 L931.5,889.4 L929.6,888.7 L927.8,888.0 L925.9,887.3 L924.0,886.7 L922.1,886.0 L920.2,885.3 L918.4,884.6 L916.5,883.9 L914.6,883.2 L912.7,882.5 L910.8,881.8 L908.9,881.2 L907.0,880.5 L905.2,879.8 L903.3,879.1 L901.4,878.5 L899.5,877.8 L897.6,877.1 L895.7,876.5 L893.9,875.8 L892.0,875.1 L890.1,874.4 L888.2,873.8 L886.3,873.1 L884.4,872.4 L882.4,871.8 L880.5,871.1 L878.6,870.5 L876.7,869.9 L874.8,869.3 L872.9,868.7 L871.0,868.1 L869.1,867.5 L867.1,866.9 L865.2,866.2 L863.3,865.6 L861.4,865.0 L859.5,864.4 L857.5,863.8 L855.5,863.2 L853.6,862.7 L851.7,862.1 L849.7,861.6 L847.8,861.0 L845.9,860.5 L844.0,860.0 L842.0,859.4 L840.1,858.9 L838.2,858.3 L836.3,857.8 L834.3,857.3 L832.4,856.7 L830.3,856.2 L828.3,855.7 L826.3,855.2 L824.4,854.8 L822.4,854.3 L820.5,853.9 L818.5,853.4 L816.6,853.0 L814.6,852.5 L812.7,852.1 L810.8,851.6 L808.8,851.2 L806.9,850.7 L804.9,850.3 L802.9,849.8 L801.0,849.4 L799.0,848.9 L797.1,848.5 L795.2,848.0 L793.2,847.6 L791.3,847.1 L789.3,846.7 L787.4,846.3 L785.4,845.8 L783.5,845.4 L781.5,844.9 L779.6,844.5 L777.6,844.0 L775.6,843.6 L773.6,843.2 L771.7,842.7 L769.7,842.3 L767.8,841.9 L765.8,841.5 L763.9,841.0 L761.9,840.6 L760.0,840.2 L758.0,839.8 L756.0,839.3 L754.1,838.9 L752.1,838.5 L750.1,838.1 L748.1,837.7 L746.1,837.3 L744.2,836.9 L742.2,836.6 L740.2,836.2 L738.3,835.8 L736.3,835.4 L734.4,835.0 L732.4,834.6 L730.4,834.3 L728.5,833.9 L726.5,833.5 L724.5,833.1 L722.5,832.8 L720.5,832.4 L718.5,832.1 L716.5,831.8 L714.6,831.4 L712.6,831.1 L710.6,830.7 L708.7,830.4 L706.7,830.0 L704.7,829.7 L702.7,829.4 L700.8,829.0 L698.8,828.7 L696.7,828.4 L694.7,828.1 L692.8,827.8 L690.8,827.5 L688.8,827.2 L686.8,826.9 L684.9,826.6 L682.9,826.3 L680.9,826.0 L678.9,825.7 L676.9,825.4 L675.0,825.1 L673.0,824.8 L671.0,824.5 L669.0,824.2 L667.0,823.9 L665.0,823.6 L663.0,823.4 L661.1,823.1 L659.1,822.8 L657.1,822.5 L655.1,822.2 L653.1,822.0 L651.2,821.7 L649.2,821.4 L647.2,821.1 L645.2,820.8 L643.2,820.6 L641.2,820.3 L639.2,820.1 L637.2,819.8 L635.2,819.6 L633.2,819.3 L631.3,819.1 L629.3,818.8 L627.3,818.5 L625.3,818.3 L623.3,818.0 L621.3,817.8 L619.3,817.5 L617.3,817.3 L615.3,817.1 L613.3,816.8 L611.3,816.6 L609.3,816.4 L607.4,816.2 L605.4,815.9 L603.4,815.7 L601.4,815.5 L599.4,815.3 L597.4,815.0 L595.4,814.8 L593.4,814.6 L591.3,814.4 L589.3,814.2 L587.3,814.1 L585.3,813.9 L583.3,813.8 L581.3,813.6 L579.3,813.4 L577.3,813.3 L575.3,813.1 L573.3,813.0 L571.3,812.8 L569.3,812.7 L567.4,812.5 L565.4,812.4 L563.4,812.2 L561.4,812.0 L559.4,811.9 L557.4,811.7 L555.4,811.5 L553.4,811.4 L551.4,811.2 L549.4,811.0 L547.4,810.9 L545.5,810.7 L543.5,810.5 L541.5,810.4 L539.5,810.2 L537.5,810.0 L535.5,809.8 L533.5,809.7 L531.5,809.5 L529.5,809.3 L527.6,809.1 L525.6,808.9 L523.6,808.8 L521.6,808.6 L519.6,808.4 L517.6,808.2 L515.6,808.0 L513.6,807.9 L511.6,807.7 L509.6,807.5 L507.6,807.3 L505.6,807.2 L503.6,807.0 L501.6,806.8 L499.6,806.7 L497.6,806.5 L495.7,806.3 L493.7,806.1 L491.7,806.0 L489.7,805.8 L487.6,805.6 L485.6,805.5 L483.6,805.4 L481.6,805.2 L479.6,805.1 L477.6,805.0 L475.6,804.9 L473.6,804.7 L471.6,804.6 L469.6,804.5 L467.6,804.4 L465.6,804.3 L463.6,804.1 L461.6,804.0 L459.6,803.9 L457.6,803.8 L455.6,803.7 L453.6,803.5 L451.6,803.4 L449.6,803.3 L447.6,803.2 L445.6,803.0 L443.6,802.9 L441.6,802.8 L439.6,802.7 L437.6,802.6 L435.6,802.4 L433.6,802.3 L431.6,802.2 L429.6,802.1 L427.6,802.0 L425.6,801.9 L423.6,801.8 L421.6,801.7 L419.6,801.6 L417.6,801.5 L415.6,801.3 L413.6,801.2 L411.7,801.1 L409.7,801.0 L407.6,800.9 L405.6,800.8 L403.6,800.7 L401.6,800.6 L399.6,800.5 L397.6,800.4 L395.6,800.3 L393.6,800.2 L391.6,800.1 L389.6,800.0 L387.7,799.9 L385.7,799.8 L383.7,799.7 L381.7,799.6Z"/>
<g stroke="#ff0000" fill="none" stroke-width="8.4">
<circle cx="381.4" cy="804.9" r="14.2"/>
<circle cx="407.7" cy="806.2" r="14.2"/>
<circle cx="434.1" cy="807.7" r="14.2"/>
<circle cx="460.4" cy="809.3" r="14.2"/>
<circle cx="486.8" cy="810.9" r="14.2"/>
<circle cx="513.1" cy="813.1" r="14.2"/>
<circle cx="539.5" cy="815.5" r="14.2"/>
<circle cx="565.8" cy="817.7" r="14.2"/>
<circle cx="592.2" cy="819.8" r="14.2"/>
<circle cx="618.5" cy="822.7" r="14.2"/>
<circle cx="644.8" cy="826.1" r="14.2"/>
<circle cx="671.2" cy="829.9" r="14.2"/>
<circle cx="697.5" cy="833.8" r="14.2"/>
<circle cx="723.9" cy="838.4" r="14.2"/>
<circle cx="750.2" cy="843.5" r="14.2"/>
<circle cx="776.6" cy="849.2" r="14.2"/>
<circle cx="802.9" cy="855.3" r="14.2"/>
<circle cx="829.3" cy="861.4" r="14.2"/>
<circle cx="855.6" cy="868.7" r="14.2"/>
<circle cx="882.0" cy="877.2" r="14.2"/>
<circle cx="908.3" cy="886.6" r="14.2"/>
<circle cx="934.6" cy="896.2" r="14.2"/>
<circle cx="961.0" cy="906.6" r="14.2"/>
<circle cx="987.3" cy="917.7" r="14.2"/>
<circle cx="1013.7" cy="930.6" r="14.2"/>
<circle cx="1040.0" cy="943.9" r="14.2"/>
<circle cx="1066.4" cy="956.6" r="14.2"/>
<circle cx="1092.7" cy="967.9" r="14.2"/>
<circle cx="1119.1" cy="979.5" r="14.2"/>
<circle cx="1145.4" cy="991.6" r="14.2"/>
<circle cx="1171.8" cy="1002.0" r="14.2"/>
<circle cx="1198.1" cy="1008.7" r="14.2"/>
<circle cx="1224.4" cy="1011.4" r="14.2"/>
<circle cx="1250.8" cy="1012.0" r="14.2"/>
<circle cx="1277.1" cy="1012.1" r="14.2"/>
<circle cx="1303.5" cy="1012.5" r="14.2"/>
<circle cx="1329.8" cy="1012.9" r="14.2"/>
<circle cx="1356.2" cy="1013.0" r="14.2"/>
<circle cx="1382.5" cy="1013.1" r="14.2"/>
<circle cx="1408.9" cy="1013.9" r="14.2"/>
<circle cx="1435.2" cy="1016.0" r="14.2"/>
<circle cx="1461.5" cy="1020.3" r="14.2"/>
<circle cx="1487.9" cy="1026.8" r="14.2"/>
<circle cx="1514.2" cy="1034.9" r="14.2"/>
<circle cx="1540.6" cy="1044.1" r="14.2"/>
<circle cx="1566.9" cy="1055.7" r="14.2"/>
<circle cx="1593.3" cy="1069.7" r="14.2"/>
<circle cx="1619.6" cy="1086.1" r="14.2"/>
<circle cx="1646.0" cy="1105.8" r="14.2"/>
<circle cx="1672.3" cy="1129.3" r="14.2"/>
<circle cx="1698.7" cy="1153.8" r="14.2"/>
<circle cx="1725.0" cy="1175.5" r="14.2"/>
<circle cx="1751.3" cy="1187.2" r="14.2"/>
<circle cx="1777.7" cy="1184.1" r="14.2"/>
<circle cx="1804.0" cy="1165.9" r="14.2"/>
<circle cx="1830.4" cy="1138.2" r="14.2"/>
<circle cx="1853.5" cy="1107.7" r="14.2"/>
<circle cx="1875.0" cy="1078.7" r="14.2"/>
<circle cx="1900.1" cy="1051.6" r="14.2"/>
<circle cx="1926.7" cy="1025.4" r="14.2"/>
<circle cx="1952.9" cy="1000.6" r="14.2"/>
<circle cx="1979.4" cy="978.1" r="14.2"/>
<circle cx="2005.3" cy="958.3" r="14.2"/>
<circle cx="2032.1" cy="940.8" r="14.2"/>
<circle cx="2058.0" cy="925.1" r="14.2"/>
<circle cx="2084.6" cy="910.5" r="14.2"/>
<circle cx="2110.5" cy="897.2" r="14.2"/>
<circle cx="2137.0" cy="885.3" r="14.2"/>
<circle cx="2163.8" cy="875.4" r="14.2"/>
<circle cx="2189.7" cy="866.9" r="14.2"/>
<circle cx="2216.2" cy="858.8" r="14.2"/>
<circle cx="2242.4" cy="851.6" r="14.2"/>
<circle cx="2269.0" cy="845.0" r="14.2"/>
<circle cx="2294.9" cy="839.4" r="14.2"/>
<circle cx="2322.3" cy="834.6" r="14.2"/>
<circle cx="2348.2" cy="830.7" r="14.2"/>
</g></g>
<g class="m-s22">
<path clip-path="url(#plot)" fill="#228b22" d="M380.8,817.4 L382.8,817.6 L384.7,817.8 L386.7,818.1 L388.7,818.3 L390.7,818.5 L392.7,818.8 L394.7,819.0 L396.7,819.3 L398.6,819.5 L400.6,819.7 L402.6,820.0 L404.6,820.2 L406.6,820.4 L408.6,820.7 L410.5,820.9 L412.5,821.2 L414.5,821.4 L416.5,821.7 L418.5,821.9 L420.5,822.1 L422.5,822.4 L424.4,822.6 L426.4,822.9 L428.4,823.1 L430.4,823.4 L432.4,823.6 L434.4,823.8 L436.4,824.1 L438.4,824.3 L440.3,824.5 L442.3,824.8 L444.3,825.0 L446.3,825.3 L448.3,825.5 L450.3,825.7 L452.3,826.0 L454.2,826.2 L456.2,826.4 L458.2,826.7 L460.1,826.9 L462.1,827.2 L464.1,827.4 L466.1,827.7 L468.0,828.0 L470.0,828.3 L472.0,828.5 L474.0,828.8 L476.0,829.1 L478.0,829.3 L479.9,829.6 L481.9,829.9 L483.9,830.1 L485.8,830.4 L487.8,830.7 L489.7,831.0 L491.7,831.3 L493.7,831.6 L495.7,831.9 L497.6,832.2 L499.6,832.5 L501.6,832.9 L503.6,833.2 L505.5,833.5 L507.5,833.8 L509.5,834.1 L511.5,834.4 L513.4,834.7 L515.4,835.0 L517.4,835.3 L519.4,835.6 L521.4,835.9 L523.3,836.2 L525.3,836.5 L527.3,836.8 L529.3,837.1 L531.2,837.5 L533.2,837.8 L535.2,838.1 L537.2,838.4 L539.2,838.7 L541.2,838.9 L543.2,839.2 L545.2,839.5 L547.2,839.7 L549.2,840.0 L551.1,840.3 L553.1,840.5 L555.1,840.8 L557.1,841.1 L559.1,841.3 L561.1,841.6 L563.0,841.9 L565.0,842.1 L567.0,842.4 L568.9,842.7 L570.9,843.0 L572.9,843.2 L574.9,843.5 L576.9,843.8 L578.8,844.1 L580.8,844.4 L582.8,844.7 L584.8,844.9 L586.8,845.2 L588.7,845.5 L590.7,845.8 L592.6,846.1 L594.5,846.4 L596.5,846.7 L598.5,847.1 L600.4,847.4 L602.4,847.8 L604.4,848.1 L606.3,848.4 L608.3,848.8 L610.3,849.1 L612.3,849.5 L614.2,849.8 L616.2,850.1 L618.2,850.5 L620.1,850.8 L622.1,851.2 L624.1,851.5 L626.0,851.9 L628.0,852.2 L630.0,852.5 L631.9,852.9 L633.9,853.2 L635.9,853.6 L637.8,853.9 L639.8,854.3 L641.8,854.6 L643.8,855.0 L645.7,855.3 L647.7,855.7 L649.7,856.0 L651.6,856.3 L653.6,856.7 L655.6,857.0 L657.5,857.4 L659.5,857.7 L661.5,858.1 L663.5,858.4 L665.4,858.8 L667.4,859.1 L669.4,859.4 L671.3,859.8 L673.3,860.2 L675.2,860.5 L677.2,860.9 L679.2,861.2 L681.1,861.6 L683.1,862.0 L685.1,862.3 L687.0,862.7 L689.0,863.0 L691.0,863.4 L692.9,863.8 L694.9,864.1 L696.9,864.5 L698.8,864.8 L700.8,865.2 L702.7,865.6 L704.7,866.0 L706.7,866.3 L708.6,866.7 L710.6,867.1 L712.6,867.4 L714.5,867.8 L716.5,868.2 L718.5,868.5 L720.4,868.9 L722.4,869.3 L724.3,869.7 L726.2,870.1 L728.2,870.5 L730.1,870.9 L732.1,871.3 L734.0,871.7 L736.0,872.1 L737.9,872.5 L739.9,872.9 L741.9,873.4 L743.8,873.8 L745.8,874.2 L747.7,874.6 L749.7,875.0 L751.6,875.4 L753.6,875.8 L755.5,876.3 L757.5,876.7 L759.5,877.1 L761.4,877.5 L763.4,877.9 L765.3,878.3 L767.3,878.8 L769.2,879.2 L771.2,879.6 L773.2,880.0 L775.1,880.4 L777.1,880.8 L779.1,881.2 L781.0,881.6 L783.0,882.0 L785.0,882.4 L786.9,882.8 L788.9,883.2 L790.9,883.6 L792.8,884.0 L794.8,884.4 L796.7,884.8 L798.7,885.2 L800.7,885.6 L802.6,886.0 L804.6,886.4 L806.5,886.8 L808.5,887.2 L810.4,887.6 L812.4,888.0 L814.4,888.4 L816.3,888.8 L818.3,889.2 L820.2,889.6 L822.2,890.0 L824.2,890.4 L826.1,890.8 L828.0,891.2 L829.9,891.6 L831.8,892.0 L833.8,892.5 L835.7,892.9 L837.7,893.4 L839.6,893.8 L841.6,894.3 L843.5,894.7 L845.5,895.2 L847.4,895.6 L849.4,896.1 L851.3,896.5 L853.3,896.9 L855.2,897.4 L857.1,897.9 L859.0,898.3 L861.0,898.8 L862.9,899.3 L864.9,899.8 L866.8,900.2 L868.8,900.7 L870.7,901.2 L872.6,901.7 L874.6,902.2 L876.5,902.6 L878.5,903.1 L880.4,903.6 L882.4,904.1 L884.3,904.5 L886.3,905.0 L888.2,905.5 L890.1,905.9 L892.1,906.4 L894.0,906.9 L896.0,907.3 L897.9,907.8 L899.9,908.3 L901.8,908.8 L903.8,909.2 L905.7,909.7 L907.7,910.2 L909.6,910.6 L911.5,911.1 L913.5,911.6 L915.4,912.0 L917.4,912.5 L919.3,913.0 L921.3,913.4 L923.2,913.9 L925.2,914.4 L927.1,914.8 L929.1,915.3 L931.0,915.7 L933.0,916.2 L934.9,916.7 L936.9,917.1 L938.8,917.6 L940.8,918.0 L942.7,918.5 L944.7,919.0 L946.6,919.4 L948.6,919.9 L950.5,920.3 L952.4,920.8 L954.4,921.2 L956.3,921.7 L958.3,922.1 L960.2,922.6 L962.2,923.1 L964.1,923.5 L966.1,924.0 L968.0,924.4 L970.0,924.9 L971.9,925.3 L973.9,925.8 L975.8,926.3 L977.7,926.7 L979.7,927.2 L981.6,927.6 L983.6,928.1 L985.5,928.6 L987.4,929.0 L989.4,929.5 L991.3,930.0 L993.2,930.5 L995.2,930.9 L997.1,931.4 L999.1,931.9 L1001.0,932.4 L1002.9,932.9 L1004.9,933.4 L1006.8,933.8 L1008.8,934.3 L1010.7,934.8 L1012.5,935.3 L1014.4,935.8 L1016.3,936.3 L1018.2,936.9 L1020.2,937.4 L1022.1,938.0 L1024.0,938.5 L1025.9,939.1 L1027.8,939.6 L1029.8,940.2 L1031.7,940.7 L1033.6,941.3 L1035.5,941.8 L1037.4,942.4 L1039.3,942.9 L1041.2,943.5 L1043.1,944.1 L1045.1,944.7 L1047.0,945.2 L1048.9,945.8 L1050.8,946.4 L1052.7,947.0 L1054.6,947.6 L1056.5,948.1 L1058.5,948.7 L1060.4,949.3 L1062.3,949.9 L1064.2,950.5 L1066.2,951.0 L1068.2,951.5 L1070.1,952.1 L1072.1,952.6 L1074.0,953.1 L1075.9,953.6 L1077.8,954.2 L1079.8,954.7 L1081.7,955.2 L1083.6,955.7 L1085.6,956.3 L1087.5,956.8 L1089.4,957.3 L1091.3,957.8 L1093.3,958.4 L1095.2,958.9 L1097.1,959.4 L1099.0,960.0 L1101.0,960.5 L1102.9,961.0 L1104.8,961.6 L1106.8,962.1 L1108.7,962.6 L1110.6,963.2 L1112.5,963.7 L1114.5,964.2 L1116.4,964.7 L1118.2,965.3 L1120.0,965.9 L1121.9,966.5 L1123.8,967.1 L1125.7,967.7 L1127.6,968.3 L1129.5,968.9 L1131.4,969.5 L1133.3,970.2 L1135.2,970.8 L1137.1,971.4 L1139.0,972.0 L1140.9,972.6 L1142.8,973.2 L1144.7,973.8 L1146.5,974.5 L1148.4,975.1 L1150.3,975.8 L1152.2,976.4 L1154.1,977.1 L1156.0,977.8 L1157.9,978.4 L1159.8,979.1 L1161.6,979.7 L1163.5,980.4 L1165.4,981.0 L1167.3,981.7 L1169.2,982.3 L1171.1,983.0 L1173.0,983.7 L1174.9,984.3 L1176.8,985.0 L1178.6,985.6 L1180.5,986.3 L1182.4,986.9 L1184.3,987.6 L1186.2,988.3 L1188.1,988.9 L1190.0,989.6 L1191.9,990.2 L1193.8,990.9 L1195.6,991.5 L1197.5,992.2 L1199.4,992.9 L1201.2,993.5 L1203.1,994.2 L1205.0,994.9 L1206.9,995.6 L1208.8,996.2 L1210.7,996.9 L1212.5,997.6 L1214.4,998.3 L1216.3,998.9 L1218.2,999.6 L1220.1,1000.3 L1222.0,1001.0 L1223.9,1001.6 L1225.8,1002.3 L1227.7,1003.0 L1229.5,1003.6 L1231.4,1004.3 L1233.3,1004.9 L1235.2,1005.6 L1237.1,1006.3 L1239.0,1006.9 L1240.9,1007.6 L1242.7,1008.3 L1244.6,1008.9 L1246.5,1009.6 L1248.4,1010.2 L1250.3,1010.9 L1252.2,1011.6 L1254.1,1012.2 L1256.0,1012.9 L1257.9,1013.5 L1259.8,1014.2 L1261.7,1014.8 L1263.5,1015.5 L1265.4,1016.2 L1267.3,1016.8 L1269.2,1017.5 L1271.1,1018.1 L1273.0,1018.8 L1274.8,1019.4 L1276.5,1020.1 L1278.4,1020.8 L1280.2,1021.6 L1282.1,1022.3 L1283.9,1023.1 L1285.8,1023.8 L1287.6,1024.5 L1289.5,1025.3 L1291.3,1026.0 L1293.2,1026.8 L1295.1,1027.5 L1296.9,1028.3 L1298.8,1029.0 L1300.6,1029.8 L1302.4,1030.5 L1304.2,1031.3 L1306.0,1032.1 L1307.9,1032.9 L1309.7,1033.7 L1311.5,1034.5 L1313.4,1035.2 L1315.2,1036.0 L1317.0,1036.8 L1318.9,1037.6 L1320.7,1038.4 L1322.6,1039.2 L1324.4,1040.0 L1326.2,1040.8 L1328.1,1041.6 L1330.0,1042.4 L1331.9,1043.1 L1333.7,1043.9 L1335.6,1044.6 L1337.4,1045.4 L1339.3,1046.1 L1341.1,1046.9 L1343.0,1047.6 L1344.8,1048.4 L1346.7,1049.1 L1348.6,1049.9 L1350.4,1050.6 L1352.3,1051.4 L1354.2,1052.2 L1356.2,1052.9 L1358.0,1053.6 L1359.9,1054.3 L1361.8,1055.0 L1363.7,1055.7 L1365.5,1056.3 L1367.4,1057.0 L1369.3,1057.7 L1371.2,1058.4 L1373.1,1059.1 L1374.9,1059.8 L1376.8,1060.5 L1378.7,1061.2 L1380.6,1061.9 L1382.6,1062.5 L1384.5,1063.2 L1386.4,1063.8 L1388.3,1064.5 L1390.2,1065.1 L1392.1,1065.7 L1394.0,1066.4 L1395.9,1067.0 L1397.7,1067.7 L1399.6,1068.3 L1401.5,1068.9 L1403.4,1069.6 L1405.3,1070.2 L1407.3,1070.9 L1409.2,1071.5 L1411.1,1072.1 L1413.0,1072.7 L1414.9,1073.4 L1416.8,1074.0 L1418.7,1074.6 L1420.6,1075.2 L1422.5,1075.8 L1424.4,1076.4 L1426.3,1077.0 L1428.2,1077.7 L1430.1,1078.3 L1432.0,1078.9 L1434.0,1079.5 L1435.9,1080.1 L1437.8,1080.7 L1439.7,1081.3 L1441.6,1081.9 L1443.5,1082.5 L1445.4,1083.1 L1447.3,1083.7 L1449.2,1084.3 L1451.1,1084.9 L1453.0,1085.5 L1454.9,1086.1 L1456.9,1086.7 L1458.8,1087.3 L1460.6,1087.9 L1462.5,1088.5 L1464.4,1089.2 L1466.3,1089.8 L1468.2,1090.4 L1470.1,1091.0 L1472.0,1091.6 L1473.9,1092.3 L1475.8,1092.9 L1477.7,1093.5 L1479.6,1094.1 L1481.5,1094.7 L1483.5,1095.3 L1485.3,1096.0 L1487.2,1096.6 L1489.1,1097.2 L1491.0,1097.8 L1492.9,1098.5 L1494.8,1099.1 L1496.7,1099.7 L1498.6,1100.3 L1500.5,1101.0 L1502.4,1101.6 L1504.3,1102.2 L1506.2,1102.8 L1508.1,1103.5 L1510.0,1104.1 L1511.9,1104.7 L1513.7,1105.4 L1515.5,1106.0 L1517.4,1106.7 L1519.3,1107.4 L1521.2,1108.1 L1523.0,1108.8 L1524.9,1109.5 L1526.8,1110.1 L1528.7,1110.8 L1530.6,1111.5 L1532.4,1112.2 L1534.3,1112.9 L1536.2,1113.6 L1538.0,1114.3 L1539.8,1114.9 L1541.7,1115.7 L1543.5,1116.4 L1545.4,1117.1 L1547.2,1117.9 L1549.1,1118.6 L1550.9,1119.4 L1552.8,1120.1 L1554.7,1120.8 L1556.5,1121.6 L1558.4,1122.3 L1560.2,1123.1 L1562.1,1123.8 L1563.9,1124.5 L1565.7,1125.2 L1567.5,1126.0 L1569.3,1126.8 L1571.2,1127.6 L1573.0,1128.4 L1574.8,1129.2 L1576.7,1130.0 L1578.5,1130.8 L1580.3,1131.6 L1582.2,1132.4 L1584.0,1133.2 L1585.8,1134.0 L1587.7,1134.8 L1589.5,1135.6 L1591.2,1136.4 L1593.0,1137.2 L1594.8,1138.0 L1596.6,1138.9 L1598.4,1139.8 L1600.2,1140.6 L1602.0,1141.5 L1603.8,1142.3 L1605.6,1143.2 L1607.4,1144.0 L1609.2,1144.9 L1611.0,1145.8 L1612.8,1146.6 L1614.7,1147.5 L1616.4,1148.3 L1618.1,1149.1 L1619.8,1150.1 L1621.5,1151.0 L1623.3,1151.9 L1625.1,1152.9 L1626.8,1153.8 L1628.6,1154.8 L1630.4,1155.7 L1632.1,1156.7 L1633.9,1157.6 L1635.6,1158.6 L1637.4,1159.5 L1639.2,1160.5 L1640.9,1161.4 L1642.6,1162.3 L1644.2,1163.2 L1645.8,1164.2 L1647.5,1165.3 L1649.2,1166.3 L1651.0,1167.4 L1652.7,1168.4 L1654.4,1169.5 L1656.1,1170.5 L1657.8,1171.6 L1659.5,1172.6 L1661.2,1173.7 L1662.9,1174.7 L1664.6,1175.8 L1666.3,1176.8 L1668.0,1177.9 L1669.5,1178.8 L1670.9,1179.9 L1672.5,1181.1 L1674.1,1182.3 L1675.7,1183.5 L1677.3,1184.6 L1678.9,1185.8 L1680.5,1187.0 L1682.2,1188.2 L1683.8,1189.4 L1685.4,1190.6 L1687.0,1191.8 L1688.6,1193.0 L1690.2,1194.2 L1691.8,1195.4 L1693.4,1196.6 L1694.9,1197.6 L1696.3,1198.8 L1697.7,1200.1 L1699.2,1201.4 L1700.7,1202.7 L1702.2,1204.0 L1703.7,1205.3 L1705.2,1206.7 L1706.7,1208.0 L1708.2,1209.3 L1709.7,1210.6 L1711.2,1212.0 L1712.7,1213.3 L1714.2,1214.6 L1715.7,1215.9 L1717.2,1217.2 L1718.7,1218.6 L1720.2,1219.9 L1721.6,1221.1 L1723.0,1222.4 L1724.4,1223.8 L1725.8,1225.2 L1727.3,1226.6 L1728.7,1228.0 L1730.1,1229.4 L1731.5,1230.8 L1733.0,1232.2 L1734.4,1233.6 L1735.8,1235.0 L1737.3,1236.4 L1738.7,1237.8 L1740.1,1239.2 L1741.6,1240.6 L1743.0,1242.0 L1744.4,1243.4 L1745.9,1244.8 L1747.2,1246.1 L1748.6,1247.5 L1749.9,1248.9 L1751.3,1250.4 L1752.7,1251.8 L1754.1,1253.2 L1755.4,1254.7 L1756.8,1256.1 L1758.2,1257.6 L1759.6,1259.0 L1761.0,1260.5 L1762.3,1261.9 L1763.7,1263.4 L1765.1,1264.8 L1766.5,1266.3 L1767.9,1267.7 L1769.2,1269.2 L1770.6,1270.6 L1772.0,1272.1 L1773.4,1273.5 L1774.7,1274.9 L1776.1,1276.4 L1777.4,1277.9 L1778.8,1279.3 L1780.2,1280.8 L1781.5,1282.3 L1782.9,1283.7 L1784.2,1285.2 L1785.6,1286.7 L1787.0,1288.1 L1788.3,1289.6 L1789.7,1291.0 L1791.0,1292.5 L1792.4,1294.0 L1793.8,1295.4 L1795.1,1296.9 L1796.5,1298.4 L1797.9,1299.8 L1799.3,1301.4 L1801.1,1303.1 L1803.0,1304.5 L1804.6,1305.7 L1806.2,1306.9 L1807.8,1308.1 L1809.4,1309.3 L1811.0,1310.5 L1812.6,1311.7 L1814.2,1312.9 L1815.8,1314.1 L1817.4,1315.3 L1819.0,1316.5 L1820.6,1317.7 L1822.2,1318.9 L1823.8,1320.1 L1825.4,1321.3 L1828.3,1323.2 L1831.9,1323.7 L1834.2,1323.7 L1836.2,1323.6 L1838.2,1323.6 L1840.2,1323.6 L1842.2,1323.6 L1844.2,1323.5 L1846.2,1323.5 L1848.2,1323.5 L1850.2,1323.4 L1852.2,1323.4 L1854.2,1323.4 L1857.3,1323.2 L1860.7,1321.7 L1862.6,1320.1 L1864.2,1318.9 L1865.8,1317.7 L1867.4,1316.4 L1868.9,1315.2 L1870.5,1314.0 L1872.1,1312.7 L1873.7,1311.5 L1875.2,1310.2 L1876.8,1309.0 L1878.4,1307.8 L1879.9,1306.5 L1881.5,1305.3 L1883.1,1304.1 L1884.7,1302.8 L1886.6,1301.2 L1888.3,1299.3 L1889.6,1297.7 L1890.9,1296.1 L1892.1,1294.6 L1893.4,1293.0 L1894.6,1291.5 L1895.9,1289.9 L1897.2,1288.3 L1898.4,1286.8 L1899.7,1285.2 L1900.9,1283.7 L1902.2,1282.1 L1903.5,1280.6 L1904.7,1279.0 L1906.0,1277.5 L1907.2,1275.9 L1908.5,1274.4 L1909.7,1272.8 L1911.1,1271.1 L1912.3,1269.2 L1913.4,1267.5 L1914.5,1265.8 L1915.7,1264.2 L1916.8,1262.5 L1917.9,1260.8 L1919.0,1259.2 L1920.1,1257.5 L1921.2,1255.9 L1922.3,1254.2 L1923.5,1252.5 L1924.6,1250.9 L1925.7,1249.2 L1926.8,1247.6 L1927.9,1245.9 L1929.0,1244.2 L1930.2,1242.6 L1931.3,1240.7 L1932.3,1238.8 L1933.3,1237.1 L1934.3,1235.3 L1935.3,1233.6 L1936.3,1231.9 L1937.3,1230.1 L1938.3,1228.4 L1939.3,1226.7 L1940.3,1224.9 L1941.3,1223.2 L1942.3,1221.5 L1943.3,1219.7 L1944.3,1218.0 L1945.3,1216.2 L1946.2,1214.5 L1947.2,1213.0 L1948.3,1211.6 L1949.5,1210.0 L1950.6,1208.4 L1951.8,1206.7 L1952.9,1205.1 L1954.1,1203.5 L1955.2,1201.8 L1956.4,1200.2 L1957.5,1198.6 L1958.7,1196.9 L1959.8,1195.3 L1961.0,1193.7 L1962.1,1192.0 L1963.3,1190.4 L1964.4,1188.8 L1965.6,1187.2 L1966.8,1185.5 L1967.9,1183.9 L1969.1,1182.3 L1970.3,1180.7 L1971.4,1179.1 L1972.6,1177.4 L1973.8,1175.8 L1974.9,1174.2 L1976.1,1172.6 L1977.3,1170.9 L1978.4,1169.3 L1979.6,1167.7 L1980.8,1166.1 L1981.9,1164.5 L1983.1,1162.8 L1984.3,1161.2 L1985.4,1159.6 L1986.6,1158.1 L1987.7,1156.7 L1989.0,1155.1 L1990.2,1153.5 L1991.5,1152.0 L1992.7,1150.4 L1994.0,1148.8 L1995.2,1147.3 L1996.5,1145.7 L1997.7,1144.2 L1999.0,1142.6 L2000.2,1141.0 L2001.5,1139.5 L2002.7,1137.9 L2004.0,1136.4 L2005.2,1134.8 L2006.5,1133.2 L2007.7,1131.7 L2009.0,1130.1 L2010.3,1128.5 L2011.5,1126.9 L2012.7,1125.3 L2013.9,1123.7 L2015.2,1122.2 L2016.4,1120.6 L2017.6,1119.0 L2018.9,1117.4 L2020.1,1115.8 L2021.3,1114.3 L2022.5,1112.7 L2023.8,1111.1 L2025.0,1109.5 L2026.2,1108.0 L2027.5,1106.4 L2028.7,1104.8 L2029.9,1103.2 L2031.1,1101.7 L2032.2,1100.3 L2033.5,1098.9 L2034.8,1097.4 L2036.2,1096.0 L2037.5,1094.5 L2038.9,1093.0 L2040.2,1091.5 L2041.6,1090.1 L2042.9,1088.6 L2044.2,1087.1 L2045.6,1085.6 L2046.9,1084.1 L2048.3,1082.7 L2049.6,1081.2 L2051.0,1079.7 L2052.3,1078.2 L2053.7,1076.8 L2055.0,1075.3 L2056.4,1073.8 L2057.7,1072.4 L2059.0,1071.0 L2060.4,1069.6 L2061.8,1068.1 L2063.2,1066.7 L2064.6,1065.3 L2066.0,1063.9 L2067.4,1062.4 L2068.8,1061.0 L2070.2,1059.6 L2071.6,1058.1 L2073.0,1056.7 L2074.4,1055.3 L2075.8,1053.8 L2077.2,1052.4 L2078.6,1051.0 L2080.0,1049.6 L2081.4,1048.1 L2082.8,1046.7 L2084.1,1045.3 L2085.4,1044.1 L2086.8,1042.8 L2088.3,1041.5 L2089.8,1040.1 L2091.3,1038.8 L2092.8,1037.5 L2094.3,1036.1 L2095.8,1034.8 L2097.3,1033.5 L2098.7,1032.1 L2100.2,1030.8 L2101.7,1029.4 L2103.2,1028.1 L2104.7,1026.8 L2106.2,1025.4 L2107.7,1024.1 L2109.2,1022.8 L2110.5,1021.5 L2111.9,1020.4 L2113.5,1019.3 L2115.1,1018.0 L2116.7,1016.8 L2118.3,1015.6 L2119.9,1014.4 L2121.5,1013.2 L2123.0,1012.0 L2124.6,1010.8 L2126.2,1009.6 L2127.8,1008.3 L2129.4,1007.1 L2131.0,1005.9 L2132.6,1004.7 L2134.2,1003.5 L2135.8,1002.3 L2137.4,1001.1 L2139.0,999.8 L2140.5,998.6 L2142.1,997.4 L2143.7,996.2 L2145.3,995.0 L2146.9,993.8 L2148.5,992.5 L2150.1,991.3 L2151.7,990.1 L2153.2,988.9 L2154.8,987.7 L2156.4,986.5 L2158.0,985.2 L2159.6,984.0 L2161.2,982.8 L2162.8,981.6 L2164.2,980.5 L2165.8,979.4 L2167.4,978.3 L2169.1,977.1 L2170.7,976.0 L2172.4,974.9 L2174.0,973.7 L2175.7,972.6 L2177.3,971.5 L2179.0,970.3 L2180.6,969.2 L2182.3,968.1 L2183.9,966.9 L2185.6,965.8 L2187.2,964.7 L2188.8,963.6 L2190.3,962.6 L2192.0,961.6 L2193.7,960.6 L2195.4,959.5 L2197.1,958.5 L2198.8,957.5 L2200.5,956.5 L2202.3,955.4 L2204.0,954.4 L2205.7,953.4 L2207.4,952.4 L2209.1,951.3 L2210.8,950.3 L2212.6,949.3 L2214.3,948.3 L2215.8,947.4 L2217.5,946.5 L2219.3,945.6 L2221.1,944.7 L2222.8,943.7 L2224.6,942.8 L2226.4,941.9 L2228.2,941.0 L2229.9,940.1 L2231.7,939.1 L2233.5,938.2 L2235.3,937.3 L2237.0,936.4 L2238.8,935.5 L2240.6,934.5 L2242.4,933.6 L2244.1,932.7 L2245.9,931.8 L2247.7,930.9 L2249.5,929.9 L2251.2,929.0 L2253.0,928.1 L2254.8,927.2 L2256.6,926.2 L2258.3,925.3 L2260.1,924.4 L2261.9,923.5 L2263.7,922.6 L2265.4,921.6 L2267.2,920.7 L2268.8,919.9 L2270.6,919.1 L2272.4,918.3 L2274.2,917.5 L2276.0,916.7 L2277.9,915.8 L2279.7,915.0 L2281.5,914.2 L2283.3,913.3 L2285.2,912.5 L2287.0,911.7 L2288.8,910.9 L2290.6,910.0 L2292.4,909.2 L2294.1,908.5 L2295.8,907.8 L2297.7,907.1 L2299.5,906.4 L2301.4,905.7 L2303.3,905.0 L2305.2,904.3 L2307.0,903.6 L2308.9,902.9 L2310.8,902.2 L2312.7,901.6 L2314.5,900.9 L2316.4,900.2 L2318.3,899.5 L2320.1,898.8 L2321.9,898.2 L2323.7,897.6 L2325.6,897.0 L2327.5,896.4 L2329.4,895.8 L2331.3,895.1 L2333.2,894.5 L2335.2,893.9 L2337.1,893.3 L2339.0,892.7 L2340.9,892.1 L2342.8,891.5 L2344.7,890.9 L2346.6,890.3 L2348.5,889.7 L2350.4,889.1 L2352.3,888.4 L2354.2,887.8 L2356.1,887.2 L2358.0,886.6 L2359.9,886.0 L2360.8,885.7 L2357.6,875.6 L2356.7,875.9 L2354.8,876.5 L2352.9,877.1 L2351.0,877.7 L2349.1,878.4 L2347.2,879.0 L2345.3,879.6 L2343.4,880.2 L2341.4,880.8 L2339.5,881.4 L2337.6,882.0 L2335.7,882.6 L2333.8,883.2 L2331.9,883.8 L2330.0,884.4 L2328.1,885.1 L2326.2,885.7 L2324.3,886.3 L2322.4,886.9 L2320.5,887.5 L2318.5,888.1 L2316.5,888.8 L2314.6,889.5 L2312.7,890.2 L2310.8,890.9 L2309.0,891.6 L2307.1,892.3 L2305.2,893.0 L2303.3,893.7 L2301.5,894.4 L2299.6,895.1 L2297.7,895.8 L2295.8,896.5 L2294.0,897.2 L2292.1,897.9 L2290.1,898.7 L2288.1,899.6 L2286.2,900.4 L2284.4,901.2 L2282.6,902.0 L2280.8,902.9 L2279.0,903.7 L2277.1,904.5 L2275.3,905.3 L2273.5,906.2 L2271.7,907.0 L2269.8,907.8 L2268.0,908.6 L2266.2,909.5 L2264.3,910.3 L2262.4,911.3 L2260.6,912.2 L2258.8,913.2 L2257.0,914.1 L2255.2,915.0 L2253.5,915.9 L2251.7,916.8 L2249.9,917.8 L2248.1,918.7 L2246.4,919.6 L2244.6,920.5 L2242.8,921.4 L2241.0,922.4 L2239.3,923.3 L2237.5,924.2 L2235.7,925.1 L2233.9,926.0 L2232.2,927.0 L2230.4,927.9 L2228.6,928.8 L2226.8,929.7 L2225.1,930.6 L2223.3,931.6 L2221.5,932.5 L2219.7,933.4 L2218.0,934.3 L2216.2,935.2 L2214.4,936.2 L2212.6,937.1 L2210.7,938.1 L2208.9,939.2 L2207.1,940.2 L2205.4,941.2 L2203.7,942.2 L2202.0,943.3 L2200.3,944.3 L2198.5,945.3 L2196.8,946.3 L2195.1,947.4 L2193.4,948.4 L2191.7,949.4 L2190.0,950.4 L2188.2,951.5 L2186.5,952.5 L2184.7,953.6 L2182.9,954.8 L2181.2,955.9 L2179.6,957.1 L2177.9,958.2 L2176.3,959.3 L2174.6,960.5 L2173.0,961.6 L2171.3,962.7 L2169.7,963.9 L2168.0,965.0 L2166.4,966.1 L2164.7,967.3 L2163.1,968.4 L2161.4,969.5 L2159.8,970.7 L2158.0,971.9 L2156.3,973.2 L2154.7,974.4 L2153.1,975.6 L2151.6,976.8 L2150.0,978.0 L2148.4,979.3 L2146.8,980.5 L2145.2,981.7 L2143.6,982.9 L2142.0,984.1 L2140.4,985.3 L2138.9,986.6 L2137.3,987.8 L2135.7,989.0 L2134.1,990.2 L2132.5,991.4 L2130.9,992.6 L2129.3,993.8 L2127.7,995.1 L2126.2,996.3 L2124.6,997.5 L2123.0,998.7 L2121.4,999.9 L2119.8,1001.1 L2118.2,1002.3 L2116.6,1003.5 L2115.0,1004.8 L2113.4,1006.0 L2111.8,1007.2 L2110.3,1008.4 L2108.7,1009.6 L2107.1,1010.8 L2105.5,1012.1 L2103.7,1013.4 L2102.1,1014.9 L2100.6,1016.2 L2099.1,1017.5 L2097.6,1018.9 L2096.1,1020.2 L2094.7,1021.6 L2093.2,1022.9 L2091.7,1024.2 L2090.2,1025.6 L2088.7,1026.9 L2087.2,1028.2 L2085.7,1029.6 L2084.2,1030.9 L2082.7,1032.2 L2081.2,1033.6 L2079.8,1034.9 L2078.2,1036.3 L2076.6,1037.8 L2075.2,1039.3 L2073.8,1040.7 L2072.4,1042.1 L2071.0,1043.6 L2069.6,1045.0 L2068.2,1046.4 L2066.8,1047.9 L2065.4,1049.3 L2064.0,1050.7 L2062.6,1052.2 L2061.2,1053.6 L2059.8,1055.0 L2058.4,1056.4 L2057.0,1057.9 L2055.6,1059.3 L2054.2,1060.7 L2052.8,1062.2 L2051.4,1063.6 L2049.9,1065.1 L2048.6,1066.7 L2047.2,1068.1 L2045.9,1069.6 L2044.5,1071.1 L2043.2,1072.6 L2041.8,1074.0 L2040.5,1075.5 L2039.1,1077.0 L2037.8,1078.5 L2036.4,1080.0 L2035.1,1081.4 L2033.7,1082.9 L2032.4,1084.4 L2031.0,1085.9 L2029.7,1087.3 L2028.3,1088.8 L2027.0,1090.3 L2025.6,1091.8 L2024.2,1093.4 L2022.8,1095.1 L2021.5,1096.7 L2020.3,1098.3 L2019.1,1099.9 L2017.9,1101.4 L2016.6,1103.0 L2015.4,1104.6 L2014.2,1106.2 L2012.9,1107.8 L2011.7,1109.3 L2010.5,1110.9 L2009.3,1112.5 L2008.0,1114.1 L2006.8,1115.6 L2005.6,1117.2 L2004.3,1118.8 L2003.1,1120.4 L2001.9,1122.0 L2000.7,1123.5 L1999.5,1125.0 L1998.2,1126.6 L1997.0,1128.2 L1995.7,1129.7 L1994.5,1131.3 L1993.2,1132.9 L1992.0,1134.4 L1990.7,1136.0 L1989.5,1137.5 L1988.2,1139.1 L1987.0,1140.7 L1985.7,1142.2 L1984.5,1143.8 L1983.2,1145.4 L1982.0,1146.9 L1980.7,1148.5 L1979.5,1150.0 L1978.2,1151.7 L1976.9,1153.4 L1975.7,1155.1 L1974.6,1156.7 L1973.4,1158.3 L1972.2,1159.9 L1971.1,1161.6 L1969.9,1163.2 L1968.7,1164.8 L1967.6,1166.4 L1966.4,1168.1 L1965.2,1169.7 L1964.1,1171.3 L1962.9,1172.9 L1961.7,1174.6 L1960.6,1176.2 L1959.4,1177.8 L1958.2,1179.4 L1957.1,1181.1 L1955.9,1182.7 L1954.7,1184.4 L1953.6,1186.0 L1952.4,1187.6 L1951.3,1189.3 L1950.1,1190.9 L1949.0,1192.5 L1947.8,1194.2 L1946.7,1195.8 L1945.5,1197.4 L1944.4,1199.1 L1943.2,1200.7 L1942.1,1202.4 L1940.9,1204.0 L1939.7,1205.6 L1938.6,1207.6 L1937.5,1209.5 L1936.5,1211.3 L1935.6,1213.0 L1934.6,1214.7 L1933.6,1216.5 L1932.6,1218.2 L1931.6,1219.9 L1930.6,1221.7 L1929.6,1223.4 L1928.6,1225.1 L1927.6,1226.9 L1926.6,1228.6 L1925.6,1230.3 L1924.6,1232.1 L1923.6,1233.8 L1922.6,1235.3 L1921.6,1236.8 L1920.4,1238.5 L1919.3,1240.1 L1918.2,1241.8 L1917.1,1243.5 L1916.0,1245.1 L1914.9,1246.8 L1913.8,1248.4 L1912.6,1250.1 L1911.5,1251.8 L1910.4,1253.4 L1909.3,1255.1 L1908.2,1256.7 L1907.1,1258.4 L1905.9,1260.1 L1904.8,1261.7 L1903.7,1263.4 L1902.6,1264.8 L1901.5,1266.1 L1900.2,1267.7 L1899.0,1269.2 L1897.7,1270.8 L1896.5,1272.4 L1895.2,1273.9 L1894.0,1275.5 L1892.7,1277.0 L1891.4,1278.6 L1890.2,1280.1 L1888.9,1281.7 L1887.7,1283.2 L1886.4,1284.8 L1885.1,1286.3 L1883.9,1287.9 L1882.6,1289.5 L1881.4,1291.0 L1880.1,1292.5 L1879.3,1293.6 L1878.1,1294.5 L1876.5,1295.7 L1875.0,1297.0 L1873.4,1298.2 L1871.8,1299.4 L1870.2,1300.7 L1868.7,1301.9 L1867.1,1303.2 L1865.5,1304.4 L1864.0,1305.6 L1862.4,1306.9 L1860.8,1308.1 L1859.2,1309.3 L1857.7,1310.6 L1856.1,1311.8 L1854.9,1312.7 L1854.9,1312.9 L1854.0,1312.8 L1852.0,1312.8 L1850.0,1312.8 L1848.0,1312.9 L1846.0,1312.9 L1844.0,1312.9 L1842.0,1313.0 L1840.0,1313.0 L1838.0,1313.0 L1836.0,1313.0 L1834.0,1313.1 L1832.3,1313.1 L1832.0,1313.3 L1831.7,1312.8 L1830.1,1311.6 L1828.5,1310.4 L1826.9,1309.2 L1825.3,1308.0 L1823.7,1306.8 L1822.1,1305.6 L1820.5,1304.4 L1818.9,1303.2 L1817.3,1302.0 L1815.7,1300.8 L1814.1,1299.6 L1812.5,1298.4 L1810.9,1297.2 L1809.3,1296.0 L1808.0,1295.0 L1806.9,1294.0 L1805.6,1292.6 L1804.3,1291.1 L1802.9,1289.7 L1801.5,1288.2 L1800.2,1286.8 L1798.8,1285.3 L1797.4,1283.8 L1796.1,1282.4 L1794.7,1280.9 L1793.4,1279.4 L1792.0,1278.0 L1790.6,1276.5 L1789.3,1275.0 L1787.9,1273.6 L1786.6,1272.1 L1785.2,1270.6 L1783.8,1269.2 L1782.5,1267.7 L1781.1,1266.2 L1779.7,1264.8 L1778.3,1263.3 L1776.9,1261.9 L1775.5,1260.4 L1774.2,1259.0 L1772.8,1257.5 L1771.4,1256.1 L1770.0,1254.6 L1768.6,1253.2 L1767.3,1251.7 L1765.9,1250.3 L1764.5,1248.8 L1763.1,1247.4 L1761.7,1245.9 L1760.4,1244.5 L1759.0,1243.0 L1757.6,1241.6 L1756.2,1240.1 L1754.7,1238.6 L1753.3,1237.2 L1751.8,1235.8 L1750.4,1234.4 L1749.0,1233.0 L1747.5,1231.6 L1746.1,1230.2 L1744.7,1228.8 L1743.2,1227.4 L1741.8,1226.0 L1740.4,1224.6 L1738.9,1223.2 L1737.5,1221.8 L1736.1,1220.4 L1734.7,1219.0 L1733.2,1217.6 L1731.8,1216.2 L1730.4,1214.8 L1728.8,1213.4 L1727.3,1211.9 L1725.7,1210.6 L1724.2,1209.3 L1722.7,1207.9 L1721.2,1206.6 L1719.7,1205.3 L1718.2,1204.0 L1716.7,1202.7 L1715.2,1201.3 L1713.7,1200.0 L1712.2,1198.7 L1710.7,1197.4 L1709.2,1196.1 L1707.7,1194.7 L1706.2,1193.4 L1704.7,1192.1 L1703.1,1190.7 L1701.4,1189.3 L1699.7,1188.0 L1698.1,1186.8 L1696.5,1185.7 L1694.9,1184.5 L1693.3,1183.3 L1691.7,1182.1 L1690.1,1180.9 L1688.5,1179.7 L1686.9,1178.5 L1685.2,1177.3 L1683.6,1176.1 L1682.0,1174.9 L1680.4,1173.7 L1678.8,1172.6 L1677.2,1171.4 L1675.4,1170.1 L1673.6,1168.9 L1671.8,1167.8 L1670.1,1166.8 L1668.4,1165.7 L1666.7,1164.7 L1665.0,1163.6 L1663.3,1162.6 L1661.6,1161.5 L1659.9,1160.5 L1658.2,1159.4 L1656.5,1158.4 L1654.8,1157.3 L1653.1,1156.3 L1651.4,1155.2 L1649.6,1154.1 L1647.8,1153.0 L1645.9,1152.1 L1644.2,1151.1 L1642.4,1150.2 L1640.7,1149.2 L1638.9,1148.3 L1637.1,1147.3 L1635.4,1146.4 L1633.6,1145.4 L1631.8,1144.5 L1630.1,1143.6 L1628.3,1142.6 L1626.5,1141.7 L1624.8,1140.7 L1623.0,1139.7 L1621.1,1138.8 L1619.2,1137.9 L1617.4,1137.0 L1615.6,1136.2 L1613.8,1135.3 L1612.0,1134.5 L1610.2,1133.6 L1608.4,1132.8 L1606.6,1131.9 L1604.7,1131.0 L1602.9,1130.2 L1601.1,1129.3 L1599.3,1128.5 L1597.5,1127.6 L1595.6,1126.7 L1593.7,1125.9 L1591.9,1125.1 L1590.1,1124.3 L1588.2,1123.5 L1586.4,1122.7 L1584.6,1121.9 L1582.7,1121.1 L1580.9,1120.3 L1579.0,1119.5 L1577.2,1118.7 L1575.4,1117.9 L1573.5,1117.1 L1571.7,1116.3 L1569.8,1115.5 L1567.9,1114.7 L1566.0,1113.9 L1564.2,1113.2 L1562.3,1112.5 L1560.4,1111.7 L1558.6,1111.0 L1556.7,1110.2 L1554.9,1109.5 L1553.0,1108.8 L1551.1,1108.0 L1549.3,1107.3 L1547.4,1106.6 L1545.6,1105.8 L1543.7,1105.1 L1541.7,1104.3 L1539.8,1103.6 L1537.9,1102.9 L1536.1,1102.3 L1534.2,1101.6 L1532.3,1100.9 L1530.4,1100.2 L1528.6,1099.5 L1526.7,1098.8 L1524.8,1098.1 L1522.9,1097.4 L1521.0,1096.8 L1519.2,1096.1 L1517.3,1095.4 L1515.3,1094.7 L1513.3,1094.0 L1511.4,1093.4 L1509.5,1092.8 L1507.6,1092.2 L1505.7,1091.5 L1503.8,1090.9 L1501.9,1090.3 L1500.0,1089.6 L1498.1,1089.0 L1496.2,1088.4 L1494.4,1087.8 L1492.5,1087.1 L1490.5,1086.5 L1488.6,1085.9 L1486.7,1085.3 L1484.8,1084.6 L1482.9,1084.0 L1481.0,1083.4 L1479.1,1082.8 L1477.2,1082.2 L1475.3,1081.6 L1473.4,1080.9 L1471.5,1080.3 L1469.6,1079.7 L1467.7,1079.1 L1465.8,1078.5 L1463.9,1077.8 L1462.0,1077.2 L1460.0,1076.6 L1458.1,1076.0 L1456.2,1075.4 L1454.3,1074.8 L1452.4,1074.2 L1450.5,1073.6 L1448.6,1073.0 L1446.7,1072.4 L1444.8,1071.8 L1442.9,1071.2 L1441.0,1070.6 L1439.1,1070.0 L1437.2,1069.4 L1435.3,1068.8 L1433.4,1068.2 L1431.5,1067.6 L1429.6,1067.0 L1427.7,1066.3 L1425.8,1065.7 L1423.9,1065.1 L1422.0,1064.5 L1420.1,1063.9 L1418.2,1063.3 L1416.3,1062.7 L1414.4,1062.0 L1412.5,1061.4 L1410.6,1060.8 L1408.7,1060.2 L1406.8,1059.5 L1404.9,1058.9 L1403.0,1058.3 L1401.1,1057.6 L1399.2,1057.0 L1397.4,1056.3 L1395.5,1055.7 L1393.6,1055.1 L1391.7,1054.4 L1389.8,1053.8 L1387.9,1053.1 L1386.0,1052.5 L1384.2,1051.9 L1382.3,1051.2 L1380.5,1050.5 L1378.6,1049.8 L1376.7,1049.1 L1374.8,1048.5 L1373.0,1047.8 L1371.1,1047.1 L1369.2,1046.4 L1367.3,1045.7 L1365.4,1045.0 L1363.6,1044.3 L1361.7,1043.6 L1359.8,1042.9 L1358.0,1042.3 L1356.3,1041.6 L1354.4,1040.8 L1352.5,1040.1 L1350.7,1039.3 L1348.8,1038.6 L1347.0,1037.8 L1345.1,1037.1 L1343.3,1036.3 L1341.4,1035.5 L1339.6,1034.8 L1337.7,1034.0 L1335.9,1033.3 L1334.0,1032.5 L1332.2,1031.8 L1330.4,1031.0 L1328.6,1030.2 L1326.7,1029.5 L1324.9,1028.7 L1323.1,1027.9 L1321.2,1027.1 L1319.4,1026.3 L1317.6,1025.5 L1315.7,1024.7 L1313.9,1023.9 L1312.1,1023.1 L1310.2,1022.3 L1308.4,1021.6 L1306.5,1020.8 L1304.6,1020.0 L1302.7,1019.2 L1300.9,1018.5 L1299.0,1017.7 L1297.2,1017.0 L1295.3,1016.2 L1293.4,1015.5 L1291.6,1014.7 L1289.7,1014.0 L1287.9,1013.2 L1286.0,1012.5 L1284.2,1011.7 L1282.3,1011.0 L1280.4,1010.2 L1278.4,1009.5 L1276.5,1008.8 L1274.6,1008.1 L1272.7,1007.5 L1270.8,1006.8 L1268.9,1006.1 L1267.0,1005.5 L1265.1,1004.8 L1263.2,1004.2 L1261.3,1003.5 L1259.5,1002.9 L1257.6,1002.2 L1255.7,1001.6 L1253.8,1000.9 L1251.9,1000.2 L1250.0,999.6 L1248.1,998.9 L1246.3,998.3 L1244.4,997.6 L1242.5,996.9 L1240.6,996.3 L1238.7,995.6 L1236.8,994.9 L1234.9,994.3 L1233.0,993.6 L1231.2,993.0 L1229.3,992.3 L1227.4,991.6 L1225.5,991.0 L1223.6,990.3 L1221.8,989.6 L1219.9,989.0 L1218.0,988.3 L1216.1,987.6 L1214.2,986.9 L1212.4,986.3 L1210.5,985.6 L1208.6,984.9 L1206.7,984.2 L1204.8,983.6 L1202.9,982.9 L1201.0,982.2 L1199.1,981.5 L1197.2,980.9 L1195.3,980.2 L1193.5,979.6 L1191.6,978.9 L1189.7,978.2 L1187.8,977.6 L1185.9,976.9 L1184.0,976.3 L1182.1,975.6 L1180.2,975.0 L1178.3,974.3 L1176.5,973.6 L1174.6,973.0 L1172.7,972.3 L1170.8,971.7 L1168.9,971.0 L1167.0,970.4 L1165.1,969.7 L1163.2,969.1 L1161.3,968.4 L1159.4,967.7 L1157.6,967.1 L1155.7,966.4 L1153.8,965.8 L1151.9,965.1 L1150.0,964.5 L1148.1,963.8 L1146.1,963.1 L1144.2,962.5 L1142.3,961.9 L1140.4,961.3 L1138.5,960.7 L1136.6,960.1 L1134.7,959.5 L1132.8,958.8 L1130.9,958.2 L1129.0,957.6 L1127.1,957.0 L1125.2,956.4 L1123.3,955.8 L1121.3,955.1 L1119.3,954.6 L1117.3,954.0 L1115.4,953.5 L1113.4,952.9 L1111.5,952.4 L1109.6,951.9 L1107.7,951.3 L1105.7,950.8 L1103.8,950.3 L1101.9,949.7 L1099.9,949.2 L1098.0,948.7 L1096.1,948.2 L1094.1,947.6 L1092.2,947.1 L1090.3,946.6 L1088.3,946.0 L1086.4,945.5 L1084.5,945.0 L1082.6,944.5 L1080.6,943.9 L1078.7,943.4 L1076.8,942.9 L1074.8,942.4 L1072.9,941.8 L1071.0,941.3 L1069.1,940.8 L1067.2,940.3 L1065.3,939.7 L1063.4,939.1 L1061.5,938.6 L1059.6,938.0 L1057.7,937.4 L1055.8,936.8 L1053.9,936.2 L1051.9,935.7 L1050.0,935.1 L1048.1,934.5 L1046.2,933.9 L1044.3,933.4 L1042.3,932.8 L1040.4,932.2 L1038.5,931.6 L1036.5,931.1 L1034.6,930.5 L1032.7,930.0 L1030.8,929.4 L1028.8,928.9 L1026.9,928.3 L1025.0,927.8 L1023.1,927.2 L1021.2,926.7 L1019.2,926.1 L1017.3,925.6 L1015.3,925.0 L1013.3,924.5 L1011.3,924.0 L1009.4,923.5 L1007.4,923.1 L1005.5,922.6 L1003.6,922.1 L1001.6,921.6 L999.7,921.1 L997.7,920.7 L995.8,920.2 L993.8,919.7 L991.9,919.2 L990.0,918.7 L988.0,918.3 L986.0,917.8 L984.1,917.3 L982.1,916.9 L980.2,916.4 L978.2,915.9 L976.3,915.5 L974.3,915.0 L972.4,914.6 L970.4,914.1 L968.5,913.7 L966.6,913.2 L964.6,912.7 L962.7,912.3 L960.7,911.8 L958.8,911.4 L956.8,910.9 L954.9,910.5 L952.9,910.0 L951.0,909.5 L949.0,909.1 L947.1,908.6 L945.1,908.2 L943.2,907.7 L941.2,907.3 L939.3,906.8 L937.3,906.4 L935.4,905.9 L933.5,905.4 L931.5,905.0 L929.6,904.5 L927.6,904.0 L925.7,903.6 L923.7,903.1 L921.8,902.6 L919.8,902.2 L917.9,901.7 L916.0,901.3 L914.0,900.8 L912.1,900.3 L910.1,899.9 L908.2,899.4 L906.2,898.9 L904.3,898.5 L902.4,898.0 L900.4,897.5 L898.5,897.0 L896.5,896.6 L894.6,896.1 L892.6,895.6 L890.7,895.2 L888.8,894.7 L886.8,894.2 L884.9,893.8 L882.9,893.3 L881.0,892.8 L879.1,892.3 L877.1,891.9 L875.2,891.4 L873.2,890.9 L871.3,890.4 L869.3,890.0 L867.4,889.5 L865.5,889.0 L863.5,888.5 L861.6,888.0 L859.6,887.6 L857.7,887.1 L855.7,886.6 L853.7,886.2 L851.8,885.7 L849.8,885.3 L847.9,884.8 L845.9,884.4 L844.0,883.9 L842.0,883.5 L840.1,883.0 L838.1,882.6 L836.2,882.1 L834.2,881.7 L832.3,881.3 L830.3,880.8 L828.2,880.4 L826.3,880.0 L824.3,879.6 L822.4,879.2 L820.4,878.8 L818.4,878.4 L816.5,878.0 L814.5,877.6 L812.6,877.2 L810.6,876.8 L808.6,876.4 L806.7,876.0 L804.7,875.6 L802.7,875.2 L800.8,874.8 L798.8,874.4 L796.9,874.0 L794.9,873.6 L792.9,873.2 L791.0,872.8 L789.0,872.4 L787.1,872.0 L785.1,871.6 L783.1,871.2 L781.2,870.8 L779.2,870.4 L777.3,870.0 L775.4,869.6 L773.4,869.2 L771.4,868.8 L769.5,868.4 L767.5,868.0 L765.6,867.6 L763.6,867.1 L761.7,866.7 L759.7,866.3 L757.8,865.9 L755.8,865.5 L753.8,865.1 L751.9,864.6 L749.9,864.2 L748.0,863.8 L746.0,863.4 L744.0,863.0 L742.1,862.6 L740.1,862.2 L738.2,861.8 L736.2,861.3 L734.3,860.9 L732.3,860.5 L730.3,860.1 L728.4,859.7 L726.4,859.3 L724.4,858.9 L722.4,858.5 L720.4,858.1 L718.5,857.8 L716.5,857.4 L714.5,857.0 L712.6,856.6 L710.6,856.3 L708.6,855.9 L706.7,855.5 L704.7,855.2 L702.7,854.8 L700.8,854.4 L698.8,854.1 L696.8,853.7 L694.8,853.3 L692.9,853.0 L690.9,852.6 L688.9,852.3 L687.0,851.9 L685.0,851.5 L683.0,851.2 L681.1,850.8 L679.1,850.4 L677.1,850.1 L675.2,849.7 L673.2,849.4 L671.2,849.0 L669.2,848.7 L667.3,848.3 L665.3,848.0 L663.3,847.6 L661.3,847.3 L659.4,846.9 L657.4,846.6 L655.4,846.2 L653.5,845.9 L651.5,845.6 L649.5,845.2 L647.6,844.9 L645.6,844.5 L643.6,844.2 L641.6,843.8 L639.7,843.5 L637.7,843.1 L635.7,842.8 L633.8,842.5 L631.8,842.1 L629.8,841.8 L627.9,841.4 L625.9,841.1 L623.9,840.7 L621.9,840.4 L620.0,840.0 L618.0,839.7 L616.0,839.4 L614.0,839.0 L612.1,838.7 L610.1,838.3 L608.1,838.0 L606.2,837.7 L604.2,837.3 L602.2,837.0 L600.3,836.6 L598.3,836.3 L596.3,836.0 L594.3,835.6 L592.3,835.3 L590.2,835.0 L588.3,834.7 L586.3,834.4 L584.3,834.2 L582.3,833.9 L580.3,833.6 L578.3,833.3 L576.4,833.0 L574.4,832.8 L572.4,832.5 L570.4,832.2 L568.4,831.9 L566.4,831.6 L564.4,831.4 L562.5,831.1 L560.5,830.8 L558.5,830.6 L556.5,830.3 L554.5,830.0 L552.6,829.8 L550.6,829.5 L548.6,829.2 L546.6,829.0 L544.6,828.7 L542.6,828.4 L540.7,828.2 L538.8,827.9 L536.8,827.6 L534.8,827.3 L532.9,827.0 L530.9,826.7 L528.9,826.4 L526.9,826.1 L524.9,825.8 L523.0,825.5 L521.0,825.1 L519.0,824.8 L517.0,824.5 L515.1,824.2 L513.1,823.9 L511.1,823.6 L509.1,823.3 L507.2,823.0 L505.2,822.7 L503.2,822.4 L501.2,822.1 L499.3,821.8 L497.3,821.5 L495.3,821.1 L493.3,820.8 L491.4,820.5 L489.4,820.2 L487.4,819.9 L485.3,819.6 L483.3,819.4 L481.4,819.1 L479.4,818.8 L477.4,818.6 L475.4,818.3 L473.4,818.0 L471.4,817.7 L469.5,817.5 L467.5,817.2 L465.5,816.9 L463.5,816.7 L461.5,816.4 L459.5,816.2 L457.5,815.9 L455.5,815.7 L453.5,815.4 L451.5,815.2 L449.5,815.0 L447.6,814.7 L445.6,814.5 L443.6,814.3 L441.6,814.0 L439.6,813.8 L437.6,813.5 L435.6,813.3 L433.7,813.1 L431.7,812.8 L429.7,812.6 L427.7,812.3 L425.7,812.1 L423.7,811.9 L421.8,811.6 L419.8,811.4 L417.8,811.1 L415.8,810.9 L413.8,810.7 L411.8,810.4 L409.8,810.2 L407.8,809.9 L405.9,809.7 L403.9,809.5 L401.9,809.2 L399.9,809.0 L397.9,808.7 L395.9,808.5 L393.9,808.3 L392.0,808.0 L390.0,807.8 L388.0,807.5 L386.0,807.3 L384.0,807.1 L382.0,806.8Z"/>
<g stroke="#228b22" fill="none" stroke-width="8.4">
<circle cx="381.4" cy="812.1" r="14.2"/>
<circle cx="407.7" cy="815.3" r="14.2"/>
<circle cx="434.1" cy="818.5" r="14.2"/>
<circle cx="460.4" cy="821.6" r="14.2"/>
<circle cx="486.8" cy="825.2" r="14.2"/>
<circle cx="513.1" cy="829.3" r="14.2"/>
<circle cx="539.5" cy="833.4" r="14.2"/>
<circle cx="565.8" cy="836.9" r="14.2"/>
<circle cx="592.2" cy="840.6" r="14.2"/>
<circle cx="618.5" cy="845.2" r="14.2"/>
<circle cx="644.8" cy="849.8" r="14.2"/>
<circle cx="671.2" cy="854.4" r="14.2"/>
<circle cx="697.5" cy="859.2" r="14.2"/>
<circle cx="723.9" cy="864.2" r="14.2"/>
<circle cx="750.2" cy="869.7" r="14.2"/>
<circle cx="776.6" cy="875.3" r="14.2"/>
<circle cx="802.9" cy="880.6" r="14.2"/>
<circle cx="829.3" cy="886.0" r="14.2"/>
<circle cx="855.6" cy="892.0" r="14.2"/>
<circle cx="882.0" cy="898.5" r="14.2"/>
<circle cx="908.3" cy="904.9" r="14.2"/>
<circle cx="934.6" cy="911.2" r="14.2"/>
<circle cx="961.0" cy="917.3" r="14.2"/>
<circle cx="987.3" cy="923.5" r="14.2"/>
<circle cx="1013.7" cy="930.1" r="14.2"/>
<circle cx="1040.0" cy="937.6" r="14.2"/>
<circle cx="1066.4" cy="945.6" r="14.2"/>
<circle cx="1092.7" cy="952.7" r="14.2"/>
<circle cx="1119.1" cy="960.0" r="14.2"/>
<circle cx="1145.4" cy="968.5" r="14.2"/>
<circle cx="1171.8" cy="977.6" r="14.2"/>
<circle cx="1198.1" cy="986.8" r="14.2"/>
<circle cx="1224.4" cy="996.2" r="14.2"/>
<circle cx="1250.8" cy="1005.5" r="14.2"/>
<circle cx="1277.1" cy="1014.6" r="14.2"/>
<circle cx="1303.5" cy="1025.2" r="14.2"/>
<circle cx="1329.8" cy="1036.5" r="14.2"/>
<circle cx="1356.2" cy="1047.3" r="14.2"/>
<circle cx="1382.5" cy="1056.9" r="14.2"/>
<circle cx="1408.9" cy="1065.8" r="14.2"/>
<circle cx="1435.2" cy="1074.3" r="14.2"/>
<circle cx="1461.5" cy="1082.7" r="14.2"/>
<circle cx="1487.9" cy="1091.2" r="14.2"/>
<circle cx="1514.2" cy="1099.9" r="14.2"/>
<circle cx="1540.6" cy="1109.5" r="14.2"/>
<circle cx="1566.9" cy="1120.0" r="14.2"/>
<circle cx="1593.3" cy="1131.5" r="14.2"/>
<circle cx="1619.6" cy="1144.0" r="14.2"/>
<circle cx="1646.0" cy="1158.1" r="14.2"/>
<circle cx="1672.3" cy="1174.3" r="14.2"/>
<circle cx="1698.7" cy="1193.8" r="14.2"/>
<circle cx="1725.0" cy="1217.0" r="14.2"/>
<circle cx="1751.3" cy="1242.7" r="14.2"/>
<circle cx="1777.7" cy="1270.4" r="14.2"/>
<circle cx="1804.0" cy="1298.7" r="14.2"/>
<circle cx="1830.4" cy="1318.4" r="14.2"/>
<circle cx="1856.7" cy="1318.1" r="14.2"/>
<circle cx="1883.1" cy="1297.3" r="14.2"/>
<circle cx="1907.0" cy="1267.8" r="14.2"/>
<circle cx="1927.0" cy="1238.0" r="14.2"/>
<circle cx="1943.0" cy="1210.1" r="14.2"/>
<circle cx="1962.0" cy="1183.2" r="14.2"/>
<circle cx="1982.0" cy="1155.4" r="14.2"/>
<circle cx="2005.0" cy="1126.6" r="14.2"/>
<circle cx="2028.0" cy="1097.0" r="14.2"/>
<circle cx="2054.5" cy="1068.0" r="14.2"/>
<circle cx="2081.0" cy="1040.9" r="14.2"/>
<circle cx="2107.4" cy="1017.2" r="14.2"/>
<circle cx="2135.0" cy="996.2" r="14.2"/>
<circle cx="2161.0" cy="976.3" r="14.2"/>
<circle cx="2187.0" cy="958.4" r="14.2"/>
<circle cx="2213.0" cy="942.9" r="14.2"/>
<circle cx="2240.0" cy="928.9" r="14.2"/>
<circle cx="2266.0" cy="915.4" r="14.2"/>
<circle cx="2292.0" cy="903.6" r="14.2"/>
<circle cx="2319.0" cy="893.5" r="14.2"/>
<circle cx="2345.0" cy="885.2" r="14.2"/>
</g></g>
<g class="m-s21">
<path clip-path="url(#plot)" fill="#0000ff" d="M384.8,674.5 L386.3,673.2 L387.9,671.9 L389.4,670.6 L390.9,669.3 L392.5,668.0 L394.0,666.7 L395.5,665.4 L397.0,664.1 L398.6,662.9 L400.1,661.6 L401.6,660.3 L403.2,659.0 L404.7,657.7 L406.2,656.4 L407.8,655.1 L409.3,653.8 L410.8,652.6 L412.3,651.3 L413.8,650.1 L415.4,648.8 L416.9,647.6 L418.5,646.3 L420.0,645.1 L421.6,643.8 L423.2,642.5 L424.7,641.3 L426.3,640.0 L427.8,638.8 L429.4,637.5 L430.9,636.2 L432.5,635.0 L434.0,633.7 L435.6,632.5 L437.1,631.2 L438.6,630.0 L440.2,628.8 L441.8,627.6 L443.4,626.4 L445.0,625.1 L446.5,623.9 L448.1,622.7 L449.7,621.4 L451.3,620.2 L452.8,619.0 L454.4,617.8 L456.0,616.5 L457.6,615.3 L459.2,614.1 L460.7,612.8 L462.3,611.6 L463.9,610.4 L465.4,609.3 L467.0,608.1 L468.6,606.9 L470.2,605.7 L471.8,604.5 L473.4,603.3 L475.0,602.1 L476.6,600.9 L478.2,599.7 L479.8,598.5 L481.4,597.3 L483.0,596.1 L484.6,594.9 L486.2,593.7 L487.8,592.5 L489.4,591.3 L491.0,590.2 L492.6,589.0 L494.2,587.8 L495.8,586.7 L497.5,585.5 L499.1,584.3 L500.7,583.2 L502.4,582.0 L504.0,580.9 L505.6,579.7 L507.2,578.5 L508.9,577.4 L510.5,576.2 L512.1,575.0 L513.7,573.9 L515.3,572.7 L516.9,571.6 L518.6,570.4 L520.2,569.3 L521.9,568.2 L523.5,567.0 L525.1,565.9 L526.8,564.7 L528.4,563.6 L530.1,562.5 L531.7,561.3 L533.4,560.2 L535.0,559.0 L536.6,557.9 L538.3,556.8 L539.9,555.6 L541.5,554.5 L543.2,553.4 L544.8,552.3 L546.5,551.2 L548.1,550.1 L549.8,549.0 L551.5,547.9 L553.1,546.8 L554.8,545.6 L556.5,544.5 L558.1,543.4 L559.8,542.3 L561.4,541.2 L563.1,540.1 L564.8,539.0 L566.4,537.9 L568.1,536.8 L569.7,535.7 L571.4,534.6 L573.1,533.6 L574.7,532.5 L576.4,531.4 L578.1,530.3 L579.8,529.2 L581.5,528.1 L583.2,527.1 L584.8,526.0 L586.5,524.9 L588.2,523.8 L589.9,522.7 L591.6,521.6 L593.2,520.6 L594.9,519.5 L596.6,518.5 L598.3,517.4 L600.0,516.3 L601.6,515.3 L603.3,514.2 L605.0,513.1 L606.7,512.1 L608.4,511.0 L610.1,510.0 L611.8,508.9 L613.5,507.8 L615.2,506.8 L616.9,505.7 L618.6,504.7 L620.3,503.6 L622.0,502.6 L623.7,501.5 L625.4,500.5 L627.1,499.4 L628.8,498.4 L630.5,497.4 L632.2,496.3 L633.9,495.3 L635.6,494.2 L637.3,493.2 L639.0,492.2 L640.7,491.1 L642.4,490.1 L644.1,489.0 L645.8,488.0 L647.5,487.0 L649.2,485.9 L650.9,484.9 L652.7,483.9 L654.4,482.9 L656.1,481.8 L657.8,480.8 L659.5,479.8 L661.2,478.7 L663.0,477.7 L664.7,476.7 L666.4,475.7 L668.1,474.6 L669.8,473.6 L671.5,472.6 L673.2,471.6 L674.9,470.6 L676.6,469.6 L678.4,468.6 L680.1,467.6 L681.8,466.6 L683.6,465.6 L685.3,464.6 L687.0,463.5 L688.8,462.5 L690.5,461.5 L692.2,460.5 L693.9,459.5 L695.7,458.5 L697.4,457.5 L699.1,456.5 L700.8,455.5 L702.5,454.6 L704.3,453.6 L706.0,452.6 L707.8,451.6 L709.5,450.6 L711.3,449.7 L713.0,448.7 L714.7,447.7 L716.5,446.7 L718.2,445.7 L720.0,444.8 L721.7,443.8 L723.5,442.8 L725.2,441.8 L726.9,440.9 L728.6,439.9 L730.4,438.9 L732.2,438.0 L733.9,437.0 L735.7,436.1 L737.4,435.1 L739.2,434.1 L740.9,433.2 L742.7,432.2 L744.4,431.2 L746.2,430.3 L747.9,429.3 L749.7,428.3 L751.4,427.4 L753.2,426.4 L754.9,425.5 L756.7,424.5 L758.4,423.6 L760.2,422.6 L762.0,421.7 L763.7,420.7 L765.5,419.8 L767.2,418.8 L769.0,417.9 L770.7,416.9 L772.5,416.0 L774.3,415.0 L776.0,414.0 L777.8,413.1 L779.5,412.2 L781.3,411.2 L783.0,410.3 L784.8,409.4 L786.6,408.4 L788.3,407.5 L790.1,406.6 L791.9,405.6 L793.6,404.7 L795.4,403.8 L797.2,402.8 L798.9,401.9 L800.7,401.0 L802.5,400.0 L804.2,399.1 L806.0,398.2 L807.8,397.3 L809.5,396.4 L811.3,395.4 L813.1,394.5 L814.9,393.6 L816.6,392.7 L818.4,391.8 L820.2,390.8 L822.0,389.9 L823.8,389.0 L825.5,388.1 L827.3,387.2 L829.1,386.2 L830.8,385.3 L832.6,384.4 L834.4,383.5 L836.2,382.6 L837.9,381.7 L839.7,380.8 L841.5,379.9 L843.3,379.0 L845.1,378.1 L846.9,377.2 L848.6,376.3 L850.4,375.3 L852.2,374.4 L854.0,373.5 L855.8,372.6 L857.5,371.7 L859.3,370.9 L861.0,370.0 L862.8,369.1 L864.6,368.3 L866.4,367.4 L868.2,366.5 L870.0,365.7 L871.9,364.8 L873.7,363.9 L875.5,363.1 L877.3,362.2 L879.1,361.3 L880.9,360.5 L882.7,359.6 L884.4,358.7 L886.2,357.9 L888.0,357.0 L889.8,356.2 L891.7,355.4 L893.5,354.5 L895.3,353.7 L897.1,352.8 L898.9,352.0 L900.7,351.1 L902.5,350.3 L904.3,349.4 L906.1,348.6 L908.0,347.7 L909.7,346.9 L911.5,346.1 L913.3,345.3 L915.1,344.5 L917.0,343.7 L918.8,342.9 L920.6,342.1 L922.5,341.3 L924.3,340.5 L926.1,339.7 L928.0,338.9 L929.8,338.1 L931.6,337.3 L933.4,336.5 L935.3,335.7 L937.0,334.9 L938.9,334.2 L940.7,333.4 L942.6,332.7 L944.4,331.9 L946.3,331.2 L948.1,330.4 L950.0,329.6 L951.8,328.9 L953.7,328.1 L955.5,327.4 L957.4,326.6 L959.2,325.8 L961.1,325.1 L962.9,324.3 L964.7,323.6 L966.5,322.9 L968.4,322.2 L970.3,321.5 L972.1,320.8 L974.0,320.1 L975.9,319.3 L977.7,318.6 L979.6,317.9 L981.5,317.2 L983.3,316.5 L985.2,315.7 L987.1,315.0 L988.9,314.3 L990.7,313.7 L992.6,313.0 L994.4,312.4 L996.3,311.7 L998.2,311.0 L1000.1,310.4 L1002.0,309.7 L1003.9,309.0 L1005.8,308.4 L1007.7,307.7 L1009.5,307.1 L1011.4,306.4 L1013.3,305.7 L1015.2,305.1 L1017.0,304.5 L1018.9,303.8 L1020.8,303.2 L1022.7,302.6 L1024.6,301.9 L1026.5,301.3 L1028.4,300.7 L1030.3,300.0 L1032.2,299.4 L1034.1,298.8 L1036.0,298.1 L1037.9,297.5 L1039.8,296.9 L1041.6,296.3 L1043.5,295.7 L1045.4,295.1 L1047.3,294.5 L1049.2,293.9 L1051.1,293.3 L1053.0,292.7 L1055.0,292.1 L1056.9,291.5 L1058.8,290.9 L1060.7,290.3 L1062.6,289.7 L1064.5,289.1 L1066.4,288.5 L1068.2,287.9 L1070.1,287.4 L1072.0,286.8 L1074.0,286.2 L1075.9,285.7 L1077.8,285.1 L1079.7,284.6 L1081.6,284.0 L1083.6,283.5 L1085.5,282.9 L1087.4,282.4 L1089.3,281.8 L1091.3,281.2 L1093.2,280.7 L1095.0,280.2 L1096.9,279.6 L1098.9,279.1 L1100.8,278.6 L1102.7,278.1 L1104.7,277.5 L1106.6,277.0 L1108.5,276.5 L1110.5,275.9 L1112.4,275.4 L1114.3,274.9 L1116.2,274.4 L1118.2,273.8 L1120.0,273.3 L1121.9,272.9 L1123.9,272.4 L1125.8,271.9 L1127.7,271.4 L1129.7,270.9 L1131.6,270.5 L1133.6,270.0 L1135.5,269.5 L1137.4,269.0 L1139.4,268.5 L1141.3,268.1 L1143.3,267.6 L1145.2,267.1 L1147.1,266.7 L1148.9,266.3 L1150.9,265.8 L1152.9,265.4 L1154.8,265.0 L1156.8,264.6 L1158.7,264.2 L1160.7,263.8 L1162.6,263.4 L1164.6,262.9 L1166.6,262.5 L1168.5,262.1 L1170.5,261.7 L1172.4,261.3 L1174.3,260.9 L1176.2,260.6 L1178.2,260.2 L1180.1,259.9 L1182.1,259.5 L1184.1,259.1 L1186.0,258.8 L1188.0,258.4 L1190.0,258.0 L1191.9,257.7 L1193.9,257.3 L1195.9,257.0 L1197.8,256.6 L1199.7,256.3 L1201.6,256.0 L1203.6,255.7 L1205.6,255.4 L1207.5,255.2 L1209.5,254.9 L1211.5,254.6 L1213.5,254.3 L1215.5,254.0 L1217.4,253.7 L1219.4,253.4 L1221.4,253.1 L1223.4,252.9 L1225.3,252.6 L1227.2,252.3 L1229.2,252.1 L1231.2,251.9 L1233.2,251.6 L1235.2,251.4 L1237.1,251.1 L1239.1,250.9 L1241.1,250.7 L1243.1,250.4 L1245.1,250.2 L1247.1,249.9 L1249.1,249.7 L1251.0,249.4 L1252.9,249.2 L1254.9,249.0 L1256.9,248.8 L1258.9,248.6 L1260.9,248.4 L1262.9,248.2 L1264.9,248.0 L1266.9,247.8 L1268.8,247.6 L1270.8,247.4 L1272.8,247.2 L1274.8,247.0 L1276.8,246.8 L1278.7,246.6 L1280.7,246.5 L1282.7,246.3 L1284.7,246.1 L1286.7,245.9 L1288.7,245.8 L1290.7,245.6 L1292.7,245.4 L1294.7,245.3 L1296.7,245.1 L1298.6,244.9 L1300.6,244.7 L1302.6,244.6 L1304.6,244.4 L1306.5,244.3 L1308.5,244.1 L1310.5,244.0 L1312.5,243.8 L1314.5,243.7 L1316.5,243.6 L1318.5,243.4 L1320.5,243.3 L1322.5,243.1 L1324.5,243.0 L1326.5,242.8 L1328.5,242.7 L1330.5,242.6 L1332.4,242.4 L1334.4,242.3 L1336.4,242.2 L1338.4,242.1 L1340.4,241.9 L1342.4,241.8 L1344.4,241.7 L1346.4,241.6 L1348.4,241.4 L1350.4,241.3 L1352.4,241.2 L1354.4,241.1 L1356.4,240.9 L1358.3,240.8 L1360.3,240.7 L1362.3,240.6 L1364.3,240.5 L1366.3,240.4 L1368.3,240.3 L1370.3,240.2 L1372.3,240.1 L1374.3,240.0 L1376.3,239.9 L1378.3,239.8 L1380.3,239.7 L1382.3,239.6 L1384.3,239.5 L1386.2,239.4 L1388.2,239.3 L1390.2,239.2 L1392.2,239.2 L1394.2,239.1 L1396.2,239.0 L1398.2,238.9 L1400.2,238.8 L1402.2,238.7 L1404.2,238.6 L1406.2,238.5 L1408.2,238.4 L1410.2,238.4 L1412.2,238.3 L1414.2,238.2 L1416.2,238.2 L1418.2,238.1 L1420.2,238.0 L1422.2,238.0 L1424.2,237.9 L1426.2,237.8 L1428.2,237.7 L1430.2,237.7 L1432.2,237.6 L1434.1,237.5 L1436.1,237.5 L1438.1,237.4 L1440.1,237.4 L1442.1,237.3 L1444.1,237.2 L1446.1,237.2 L1448.1,237.1 L1450.1,237.1 L1452.1,237.0 L1454.1,237.0 L1456.1,236.9 L1458.1,236.9 L1460.1,236.8 L1462.1,236.7 L1464.1,236.7 L1466.1,236.7 L1468.1,236.6 L1470.1,236.6 L1472.1,236.6 L1474.1,236.5 L1476.1,236.5 L1478.1,236.4 L1480.1,236.4 L1482.1,236.4 L1484.1,236.3 L1486.1,236.3 L1488.0,236.3 L1490.0,236.2 L1492.0,236.2 L1494.0,236.2 L1496.0,236.2 L1498.0,236.1 L1500.0,236.1 L1502.0,236.1 L1504.0,236.1 L1506.0,236.1 L1508.0,236.0 L1510.0,236.0 L1512.0,236.0 L1514.0,236.0 L1516.0,235.9 L1518.0,235.9 L1520.0,235.9 L1522.0,235.9 L1524.0,235.9 L1526.0,235.9 L1528.0,235.9 L1530.0,235.9 L1532.0,235.8 L1534.0,235.8 L1536.0,235.8 L1538.0,235.8 L1540.0,235.8 L1542.0,235.8 L1544.0,235.8 L1546.0,235.8 L1548.0,235.8 L1550.0,235.8 L1552.0,235.8 L1554.0,235.8 L1556.0,235.8 L1558.0,235.8 L1560.0,235.7 L1562.0,235.7 L1564.0,235.7 L1566.0,235.7 L1567.9,235.7 L1569.9,235.8 L1571.9,235.8 L1573.9,235.8 L1575.9,235.8 L1577.9,235.8 L1579.9,235.8 L1581.9,235.8 L1583.9,235.8 L1585.9,235.8 L1587.9,235.9 L1589.9,235.9 L1591.9,235.9 L1593.9,235.9 L1595.9,235.9 L1597.9,236.0 L1599.9,236.0 L1601.9,236.0 L1603.9,236.0 L1605.9,236.1 L1607.9,236.1 L1609.9,236.1 L1611.9,236.2 L1613.9,236.2 L1615.9,236.2 L1617.9,236.3 L1619.8,236.3 L1621.8,236.3 L1623.8,236.4 L1625.8,236.4 L1627.8,236.5 L1629.8,236.5 L1631.8,236.6 L1633.8,236.6 L1635.8,236.7 L1637.8,236.7 L1639.8,236.8 L1641.8,236.8 L1643.8,236.9 L1645.8,236.9 L1647.7,237.0 L1649.7,237.1 L1651.7,237.2 L1653.7,237.3 L1655.7,237.3 L1657.7,237.4 L1659.7,237.5 L1661.7,237.6 L1663.7,237.7 L1665.7,237.7 L1667.7,237.8 L1669.7,237.9 L1671.7,238.0 L1673.6,238.1 L1675.6,238.2 L1677.6,238.3 L1679.6,238.4 L1681.6,238.5 L1683.6,238.6 L1685.6,238.8 L1687.6,238.9 L1689.6,239.0 L1691.6,239.1 L1693.6,239.2 L1695.6,239.3 L1697.6,239.4 L1699.5,239.6 L1701.5,239.7 L1703.5,239.8 L1705.5,240.0 L1707.5,240.1 L1709.5,240.3 L1711.5,240.4 L1713.5,240.6 L1715.5,240.7 L1717.5,240.8 L1719.4,241.0 L1721.4,241.1 L1723.4,241.3 L1725.4,241.4 L1727.3,241.6 L1729.3,241.8 L1731.3,242.0 L1733.3,242.2 L1735.3,242.3 L1737.3,242.5 L1739.3,242.7 L1741.2,242.9 L1743.2,243.1 L1745.2,243.3 L1747.2,243.5 L1749.2,243.6 L1751.1,243.8 L1753.1,244.1 L1755.1,244.3 L1757.1,244.5 L1759.0,244.7 L1761.0,245.0 L1763.0,245.2 L1765.0,245.4 L1767.0,245.6 L1769.0,245.9 L1771.0,246.1 L1773.0,246.3 L1774.9,246.5 L1776.9,246.7 L1778.8,247.0 L1780.7,247.3 L1782.7,247.6 L1784.7,247.9 L1786.7,248.2 L1788.7,248.4 L1790.6,248.7 L1792.6,249.0 L1794.6,249.3 L1796.6,249.6 L1798.5,249.9 L1800.5,250.2 L1802.5,250.4 L1804.4,250.7 L1806.3,251.1 L1808.3,251.4 L1810.2,251.8 L1812.2,252.1 L1814.2,252.4 L1816.2,252.8 L1818.1,253.1 L1820.1,253.5 L1822.1,253.8 L1824.0,254.1 L1826.0,254.5 L1828.0,254.8 L1829.9,255.2 L1831.8,255.5 L1833.7,255.9 L1835.7,256.3 L1837.7,256.7 L1839.6,257.1 L1841.6,257.5 L1843.5,257.9 L1845.5,258.3 L1847.5,258.7 L1849.4,259.1 L1851.4,259.5 L1853.3,259.9 L1855.2,260.2 L1857.1,260.7 L1859.1,261.1 L1861.0,261.6 L1862.9,262.0 L1864.9,262.5 L1866.8,262.9 L1868.8,263.4 L1870.7,263.8 L1872.7,264.3 L1874.6,264.7 L1876.6,265.2 L1878.5,265.6 L1880.5,266.1 L1882.3,266.5 L1884.2,267.0 L1886.1,267.5 L1888.1,268.1 L1890.0,268.6 L1891.9,269.1 L1893.9,269.6 L1895.8,270.1 L1897.7,270.6 L1899.7,271.1 L1901.6,271.7 L1903.5,272.2 L1905.5,272.7 L1907.4,273.2 L1909.2,273.7 L1911.1,274.3 L1913.1,274.8 L1915.0,275.4 L1916.9,275.9 L1918.8,276.5 L1920.8,277.0 L1922.7,277.6 L1924.6,278.1 L1926.5,278.6 L1928.5,279.2 L1930.4,279.7 L1932.3,280.3 L1934.2,280.8 L1936.0,281.4 L1937.9,282.0 L1939.8,282.6 L1941.7,283.2 L1943.6,283.8 L1945.5,284.4 L1947.4,285.0 L1949.4,285.6 L1951.3,286.2 L1953.2,286.8 L1955.1,287.4 L1957.0,288.0 L1958.9,288.6 L1960.7,289.2 L1962.6,289.8 L1964.5,290.5 L1966.4,291.1 L1968.3,291.8 L1970.1,292.4 L1972.0,293.0 L1973.9,293.7 L1975.8,294.3 L1977.7,295.0 L1979.6,295.6 L1981.5,296.3 L1983.4,296.9 L1985.3,297.5 L1987.1,298.2 L1988.9,298.9 L1990.7,299.6 L1992.6,300.3 L1994.5,301.0 L1996.3,301.7 L1998.2,302.4 L2000.1,303.1 L2002.0,303.8 L2003.8,304.5 L2005.7,305.3 L2007.6,306.0 L2009.4,306.7 L2011.3,307.4 L2013.1,308.1 L2014.9,308.8 L2016.7,309.6 L2018.6,310.4 L2020.4,311.1 L2022.2,311.9 L2024.1,312.7 L2025.9,313.4 L2027.8,314.2 L2029.6,315.0 L2031.5,315.7 L2033.3,316.5 L2035.2,317.3 L2037.0,318.0 L2038.8,318.8 L2040.5,319.6 L2042.3,320.4 L2044.1,321.3 L2045.9,322.1 L2047.7,323.0 L2049.5,323.8 L2051.3,324.7 L2053.1,325.5 L2054.9,326.4 L2056.8,327.2 L2058.6,328.1 L2060.4,328.9 L2062.2,329.8 L2064.0,330.6 L2065.7,331.4 L2067.4,332.3 L2069.2,333.2 L2071.0,334.1 L2072.8,335.0 L2074.5,336.0 L2076.3,336.9 L2078.1,337.8 L2079.9,338.7 L2081.7,339.6 L2083.4,340.5 L2085.2,341.4 L2087.0,342.3 L2088.8,343.3 L2090.5,344.1 L2092.2,345.1 L2093.9,346.0 L2095.6,347.0 L2097.4,348.0 L2099.1,348.9 L2100.9,349.9 L2102.6,350.9 L2104.4,351.9 L2106.1,352.8 L2107.9,353.8 L2109.6,354.8 L2111.4,355.8 L2113.1,356.7 L2114.9,357.7 L2116.6,358.7 L2118.3,359.6 L2119.9,360.6 L2121.7,361.6 L2123.4,362.7 L2125.1,363.7 L2126.8,364.7 L2128.5,365.7 L2130.3,366.7 L2132.0,367.7 L2133.7,368.8 L2135.4,369.8 L2137.2,370.8 L2138.9,371.8 L2140.6,372.8 L2142.3,373.8 L2144.0,374.8 L2145.6,375.9 L2147.3,376.9 L2149.0,378.0 L2150.7,379.1 L2152.4,380.1 L2154.1,381.2 L2155.8,382.3 L2157.4,383.3 L2159.1,384.4 L2160.8,385.5 L2162.5,386.5 L2164.2,387.6 L2165.9,388.7 L2167.6,389.7 L2169.3,390.8 L2170.9,391.8 L2172.6,392.9 L2174.2,394.0 L2175.9,395.1 L2177.6,396.2 L2179.3,397.3 L2180.9,398.4 L2182.6,399.5 L2184.3,400.6 L2186.0,401.7 L2187.6,402.8 L2189.3,403.9 L2191.0,405.0 L2192.7,406.1 L2194.3,407.2 L2196.0,408.2 L2197.6,409.3 L2199.2,410.4 L2200.9,411.6 L2202.5,412.7 L2204.2,413.8 L2205.8,414.9 L2207.5,416.1 L2209.1,417.2 L2210.8,418.3 L2212.5,419.5 L2214.1,420.6 L2215.8,421.7 L2217.4,422.8 L2219.1,424.0 L2220.7,425.1 L2222.3,426.2 L2223.9,427.3 L2225.6,428.5 L2227.2,429.6 L2228.8,430.8 L2230.5,431.9 L2232.1,433.1 L2233.7,434.2 L2235.4,435.4 L2237.0,436.5 L2238.7,437.7 L2240.3,438.8 L2241.9,440.0 L2243.6,441.1 L2245.2,442.3 L2246.8,443.4 L2248.4,444.6 L2250.0,445.7 L2251.6,446.9 L2253.2,448.1 L2254.8,449.2 L2256.5,450.4 L2258.1,451.6 L2259.7,452.8 L2261.3,454.0 L2262.9,455.2 L2264.5,456.3 L2266.1,457.5 L2267.8,458.7 L2269.4,459.9 L2271.0,461.1 L2272.6,462.2 L2274.2,463.4 L2275.8,464.6 L2277.3,465.8 L2278.9,467.0 L2280.5,468.2 L2282.1,469.4 L2283.7,470.6 L2285.3,471.8 L2286.9,473.0 L2288.5,474.2 L2290.1,475.4 L2291.7,476.6 L2293.3,477.8 L2294.9,479.0 L2296.5,480.2 L2298.1,481.4 L2299.7,482.6 L2301.3,483.8 L2302.8,485.0 L2304.4,486.3 L2306.0,487.5 L2307.6,488.7 L2309.2,489.9 L2310.7,491.1 L2312.3,492.4 L2313.9,493.6 L2315.5,494.8 L2317.1,496.0 L2318.7,497.3 L2320.2,498.5 L2321.8,499.7 L2323.4,500.9 L2325.0,502.2 L2326.6,503.4 L2328.1,504.6 L2329.7,505.8 L2331.3,507.0 L2332.8,508.3 L2334.4,509.5 L2336.0,510.8 L2337.5,512.0 L2339.1,513.2 L2340.7,514.5 L2342.3,515.7 L2343.8,516.9 L2345.4,518.2 L2347.0,519.4 L2348.5,520.7 L2350.1,521.9 L2351.7,523.1 L2353.2,524.4 L2354.0,525.0 L2360.6,516.6 L2359.8,516.1 L2358.2,514.8 L2356.7,513.6 L2355.1,512.3 L2353.5,511.1 L2352.0,509.9 L2350.4,508.6 L2348.8,507.4 L2347.2,506.1 L2345.7,504.9 L2344.1,503.7 L2342.5,502.4 L2341.0,501.2 L2339.4,500.0 L2337.8,498.7 L2336.2,497.5 L2334.7,496.2 L2333.1,495.0 L2331.5,493.8 L2329.9,492.5 L2328.3,491.3 L2326.7,490.1 L2325.1,488.9 L2323.6,487.6 L2322.0,486.4 L2320.4,485.2 L2318.8,484.0 L2317.2,482.8 L2315.6,481.5 L2314.1,480.3 L2312.5,479.1 L2310.9,477.9 L2309.3,476.6 L2307.7,475.4 L2306.1,474.2 L2304.5,473.0 L2302.9,471.8 L2301.3,470.6 L2299.7,469.4 L2298.1,468.2 L2296.5,467.0 L2294.9,465.8 L2293.3,464.5 L2291.7,463.3 L2290.1,462.1 L2288.5,460.9 L2286.9,459.7 L2285.3,458.5 L2283.7,457.3 L2282.1,456.1 L2280.5,454.9 L2278.9,453.7 L2277.2,452.5 L2275.6,451.3 L2274.0,450.2 L2272.4,449.0 L2270.8,447.8 L2269.2,446.6 L2267.6,445.4 L2265.9,444.2 L2264.3,443.1 L2262.7,441.9 L2261.1,440.7 L2259.5,439.5 L2257.9,438.3 L2256.3,437.1 L2254.6,435.9 L2252.9,434.8 L2251.3,433.6 L2249.7,432.5 L2248.0,431.3 L2246.4,430.2 L2244.8,429.0 L2243.1,427.9 L2241.5,426.7 L2239.9,425.6 L2238.2,424.4 L2236.6,423.3 L2234.9,422.1 L2233.3,420.9 L2231.7,419.8 L2230.0,418.6 L2228.4,417.5 L2226.7,416.3 L2225.0,415.2 L2223.4,414.1 L2221.7,412.9 L2220.1,411.8 L2218.4,410.7 L2216.8,409.6 L2215.1,408.4 L2213.5,407.3 L2211.8,406.2 L2210.2,405.1 L2208.5,403.9 L2206.8,402.8 L2205.2,401.7 L2203.5,400.6 L2201.8,399.4 L2200.1,398.3 L2198.5,397.2 L2196.8,396.1 L2195.1,395.0 L2193.4,393.9 L2191.8,392.8 L2190.1,391.7 L2188.4,390.6 L2186.7,389.5 L2185.1,388.4 L2183.4,387.3 L2181.7,386.2 L2180.1,385.1 L2178.4,384.1 L2176.7,382.9 L2175.0,381.8 L2173.3,380.8 L2171.6,379.7 L2169.9,378.6 L2168.2,377.6 L2166.5,376.5 L2164.8,375.4 L2163.1,374.4 L2161.4,373.3 L2159.7,372.2 L2158.0,371.2 L2156.3,370.1 L2154.6,369.0 L2152.9,368.0 L2151.3,366.9 L2149.5,365.8 L2147.7,364.7 L2146.0,363.7 L2144.3,362.7 L2142.6,361.7 L2140.8,360.7 L2139.1,359.6 L2137.4,358.6 L2135.7,357.6 L2133.9,356.6 L2132.2,355.6 L2130.5,354.6 L2128.8,353.5 L2127.1,352.5 L2125.3,351.5 L2123.6,350.5 L2121.8,349.4 L2120.0,348.4 L2118.3,347.5 L2116.5,346.5 L2114.8,345.5 L2113.0,344.5 L2111.3,343.6 L2109.5,342.6 L2107.8,341.6 L2106.0,340.6 L2104.3,339.7 L2102.6,338.7 L2100.8,337.7 L2099.1,336.7 L2097.3,335.8 L2095.4,334.8 L2093.6,333.8 L2091.8,332.9 L2090.0,332.0 L2088.3,331.1 L2086.5,330.2 L2084.7,329.3 L2082.9,328.4 L2081.2,327.4 L2079.4,326.5 L2077.6,325.6 L2075.8,324.7 L2074.0,323.8 L2072.3,322.9 L2070.4,321.9 L2068.5,321.0 L2066.7,320.2 L2064.9,319.3 L2063.1,318.5 L2061.3,317.6 L2059.5,316.8 L2057.6,315.9 L2055.8,315.1 L2054.0,314.2 L2052.2,313.4 L2050.4,312.5 L2048.6,311.7 L2046.8,310.8 L2045.0,310.0 L2043.0,309.1 L2041.1,308.3 L2039.2,307.5 L2037.4,306.7 L2035.6,306.0 L2033.7,305.2 L2031.9,304.4 L2030.0,303.7 L2028.2,302.9 L2026.3,302.1 L2024.5,301.3 L2022.6,300.6 L2020.8,299.8 L2018.9,299.0 L2017.0,298.2 L2015.1,297.5 L2013.2,296.8 L2011.3,296.1 L2009.5,295.4 L2007.6,294.6 L2005.7,293.9 L2003.9,293.2 L2002.0,292.5 L2000.1,291.8 L1998.3,291.1 L1996.4,290.4 L1994.5,289.7 L1992.6,288.9 L1990.7,288.2 L1988.7,287.5 L1986.8,286.9 L1984.9,286.2 L1983.0,285.6 L1981.1,284.9 L1979.2,284.3 L1977.3,283.6 L1975.5,283.0 L1973.6,282.4 L1971.7,281.7 L1969.8,281.1 L1967.9,280.4 L1966.0,279.8 L1964.0,279.1 L1962.1,278.5 L1960.2,277.9 L1958.3,277.3 L1956.3,276.7 L1954.4,276.1 L1952.5,275.5 L1950.6,274.9 L1948.7,274.3 L1946.8,273.7 L1944.9,273.1 L1943.0,272.5 L1941.1,271.9 L1939.2,271.3 L1937.2,270.7 L1935.2,270.1 L1933.3,269.6 L1931.4,269.0 L1929.4,268.5 L1927.5,267.9 L1925.6,267.4 L1923.7,266.8 L1921.7,266.3 L1919.8,265.7 L1917.9,265.2 L1916.0,264.6 L1914.1,264.1 L1912.1,263.5 L1910.1,263.0 L1908.2,262.4 L1906.2,261.9 L1904.3,261.4 L1902.4,260.9 L1900.4,260.4 L1898.5,259.9 L1896.6,259.4 L1894.7,258.8 L1892.7,258.3 L1890.8,257.8 L1888.9,257.3 L1886.9,256.8 L1884.9,256.3 L1882.9,255.8 L1880.9,255.3 L1879.0,254.9 L1877.0,254.4 L1875.1,254.0 L1873.1,253.5 L1871.2,253.0 L1869.2,252.6 L1867.3,252.1 L1865.3,251.7 L1863.4,251.2 L1861.4,250.8 L1859.5,250.3 L1857.5,249.9 L1855.4,249.5 L1853.5,249.1 L1851.5,248.7 L1849.5,248.3 L1847.6,247.9 L1845.6,247.5 L1843.7,247.1 L1841.7,246.7 L1839.7,246.3 L1837.8,245.9 L1835.8,245.5 L1833.9,245.1 L1831.8,244.7 L1829.8,244.4 L1827.8,244.0 L1825.8,243.7 L1823.9,243.4 L1821.9,243.0 L1819.9,242.7 L1818.0,242.3 L1816.0,242.0 L1814.0,241.7 L1812.1,241.3 L1810.1,241.0 L1808.1,240.6 L1806.1,240.3 L1804.1,240.0 L1802.0,239.7 L1800.1,239.4 L1798.1,239.1 L1796.1,238.8 L1794.1,238.5 L1792.1,238.2 L1790.2,238.0 L1788.2,237.7 L1786.2,237.4 L1784.2,237.1 L1782.2,236.8 L1780.3,236.5 L1778.2,236.2 L1776.1,236.0 L1774.2,235.8 L1772.2,235.5 L1770.2,235.3 L1768.2,235.1 L1766.2,234.9 L1764.2,234.6 L1762.2,234.4 L1760.2,234.2 L1758.3,234.0 L1756.3,233.7 L1754.3,233.5 L1752.2,233.3 L1750.2,233.1 L1748.2,232.9 L1746.2,232.7 L1744.2,232.5 L1742.2,232.3 L1740.2,232.2 L1738.2,232.0 L1736.3,231.8 L1734.3,231.6 L1732.3,231.4 L1730.3,231.2 L1728.3,231.0 L1726.3,230.9 L1724.2,230.7 L1722.2,230.5 L1720.2,230.4 L1718.2,230.3 L1716.2,230.1 L1714.2,230.0 L1712.2,229.8 L1710.2,229.7 L1708.2,229.6 L1706.2,229.4 L1704.2,229.3 L1702.2,229.1 L1700.2,229.0 L1698.2,228.9 L1696.2,228.7 L1694.2,228.6 L1692.2,228.5 L1690.2,228.4 L1688.2,228.3 L1686.2,228.2 L1684.2,228.1 L1682.2,228.0 L1680.2,227.8 L1678.2,227.7 L1676.2,227.6 L1674.2,227.5 L1672.2,227.4 L1670.1,227.3 L1668.1,227.2 L1666.1,227.2 L1664.1,227.1 L1662.1,227.0 L1660.1,226.9 L1658.1,226.8 L1656.1,226.7 L1654.1,226.7 L1652.2,226.6 L1650.2,226.5 L1648.2,226.4 L1646.1,226.3 L1644.1,226.3 L1642.1,226.2 L1640.1,226.2 L1638.1,226.1 L1636.1,226.1 L1634.1,226.0 L1632.1,226.0 L1630.1,225.9 L1628.1,225.9 L1626.1,225.8 L1624.1,225.8 L1622.1,225.7 L1620.1,225.7 L1618.0,225.7 L1616.0,225.6 L1614.0,225.6 L1612.0,225.6 L1610.0,225.5 L1608.0,225.5 L1606.0,225.5 L1604.0,225.4 L1602.0,225.4 L1600.0,225.4 L1598.0,225.4 L1596.0,225.3 L1594.0,225.3 L1592.0,225.3 L1590.0,225.3 L1588.0,225.3 L1586.0,225.2 L1584.0,225.2 L1582.0,225.2 L1580.0,225.2 L1578.0,225.2 L1576.0,225.2 L1574.0,225.2 L1572.0,225.2 L1570.0,225.2 L1568.0,225.1 L1566.0,225.1 L1563.9,225.1 L1561.9,225.1 L1559.9,225.1 L1557.9,225.2 L1555.9,225.2 L1553.9,225.2 L1551.9,225.2 L1549.9,225.2 L1547.9,225.2 L1545.9,225.2 L1543.9,225.2 L1541.9,225.2 L1539.9,225.2 L1537.9,225.2 L1535.9,225.2 L1533.9,225.2 L1531.9,225.2 L1529.9,225.3 L1527.9,225.3 L1525.9,225.3 L1523.9,225.3 L1521.9,225.3 L1519.9,225.3 L1517.9,225.3 L1515.9,225.3 L1513.9,225.4 L1511.9,225.4 L1509.9,225.4 L1507.9,225.4 L1505.9,225.5 L1503.9,225.5 L1501.9,225.5 L1499.9,225.5 L1497.9,225.5 L1495.9,225.6 L1493.9,225.6 L1491.9,225.6 L1489.9,225.6 L1487.9,225.7 L1485.9,225.7 L1483.9,225.7 L1481.9,225.8 L1479.9,225.8 L1477.9,225.9 L1475.9,225.9 L1473.9,225.9 L1471.9,226.0 L1469.9,226.0 L1467.9,226.0 L1465.9,226.1 L1463.9,226.1 L1461.8,226.1 L1459.8,226.2 L1457.8,226.3 L1455.8,226.3 L1453.8,226.4 L1451.8,226.4 L1449.8,226.5 L1447.8,226.5 L1445.8,226.6 L1443.8,226.7 L1441.8,226.7 L1439.8,226.8 L1437.8,226.8 L1435.8,226.9 L1433.8,226.9 L1431.8,227.0 L1429.8,227.1 L1427.8,227.2 L1425.8,227.2 L1423.8,227.3 L1421.8,227.4 L1419.8,227.4 L1417.8,227.5 L1415.8,227.6 L1413.8,227.6 L1411.8,227.7 L1409.8,227.8 L1407.8,227.9 L1405.8,227.9 L1403.8,228.0 L1401.8,228.1 L1399.8,228.2 L1397.8,228.3 L1395.8,228.4 L1393.8,228.5 L1391.8,228.6 L1389.8,228.7 L1387.8,228.7 L1385.8,228.8 L1383.8,228.9 L1381.8,229.0 L1379.7,229.1 L1377.7,229.2 L1375.7,229.3 L1373.8,229.4 L1371.8,229.5 L1369.8,229.6 L1367.8,229.7 L1365.8,229.8 L1363.8,229.9 L1361.8,230.0 L1359.8,230.1 L1357.8,230.2 L1355.7,230.4 L1353.7,230.5 L1351.7,230.6 L1349.7,230.7 L1347.7,230.9 L1345.7,231.0 L1343.7,231.1 L1341.7,231.2 L1339.7,231.4 L1337.8,231.5 L1335.8,231.6 L1333.8,231.7 L1331.8,231.9 L1329.7,232.0 L1327.7,232.1 L1325.7,232.3 L1323.7,232.4 L1321.7,232.6 L1319.7,232.7 L1317.8,232.8 L1315.8,233.0 L1313.8,233.1 L1311.8,233.3 L1309.8,233.4 L1307.8,233.6 L1305.8,233.7 L1303.8,233.8 L1301.7,234.0 L1299.7,234.2 L1297.7,234.3 L1295.7,234.5 L1293.7,234.7 L1291.8,234.9 L1289.8,235.0 L1287.8,235.2 L1285.8,235.4 L1283.8,235.6 L1281.8,235.7 L1279.8,235.9 L1277.8,236.1 L1275.8,236.3 L1273.7,236.5 L1271.8,236.7 L1269.8,236.9 L1267.8,237.1 L1265.8,237.3 L1263.8,237.5 L1261.8,237.7 L1259.8,237.9 L1257.8,238.1 L1255.8,238.3 L1253.8,238.5 L1251.8,238.7 L1249.8,238.9 L1247.8,239.2 L1245.8,239.4 L1243.8,239.6 L1241.8,239.9 L1239.8,240.1 L1237.8,240.4 L1235.9,240.6 L1233.9,240.9 L1231.9,241.1 L1229.9,241.3 L1227.9,241.6 L1225.9,241.8 L1223.9,242.1 L1221.9,242.4 L1219.9,242.7 L1217.9,242.9 L1215.9,243.2 L1213.9,243.5 L1212.0,243.8 L1210.0,244.1 L1208.0,244.4 L1206.0,244.7 L1204.0,245.0 L1202.1,245.2 L1200.1,245.5 L1198.0,245.8 L1196.0,246.2 L1194.0,246.5 L1192.0,246.9 L1190.0,247.3 L1188.1,247.6 L1186.1,248.0 L1184.1,248.3 L1182.2,248.7 L1180.2,249.1 L1178.2,249.4 L1176.3,249.8 L1174.3,250.1 L1172.3,250.5 L1170.3,250.9 L1168.3,251.3 L1166.3,251.7 L1164.4,252.2 L1162.4,252.6 L1160.4,253.0 L1158.5,253.4 L1156.5,253.8 L1154.6,254.2 L1152.6,254.6 L1150.7,255.1 L1148.7,255.5 L1146.7,255.9 L1144.7,256.3 L1142.7,256.8 L1140.7,257.3 L1138.8,257.8 L1136.8,258.3 L1134.9,258.7 L1133.0,259.2 L1131.0,259.7 L1129.1,260.2 L1127.1,260.6 L1125.2,261.1 L1123.3,261.6 L1121.3,262.1 L1119.4,262.6 L1117.4,263.1 L1115.4,263.6 L1113.4,264.1 L1111.5,264.7 L1109.6,265.2 L1107.7,265.7 L1105.7,266.2 L1103.8,266.8 L1101.9,267.3 L1099.9,267.8 L1098.0,268.4 L1096.1,268.9 L1094.2,269.4 L1092.2,269.9 L1090.2,270.5 L1088.3,271.1 L1086.4,271.6 L1084.5,272.2 L1082.5,272.7 L1080.6,273.3 L1078.7,273.8 L1076.8,274.4 L1074.9,275.0 L1072.9,275.5 L1071.0,276.1 L1069.1,276.6 L1067.2,277.2 L1065.2,277.8 L1063.2,278.4 L1061.3,279.0 L1059.4,279.6 L1057.5,280.2 L1055.6,280.8 L1053.7,281.4 L1051.8,282.0 L1049.9,282.6 L1048.0,283.2 L1046.1,283.8 L1044.1,284.4 L1042.2,285.0 L1040.3,285.6 L1038.4,286.2 L1036.4,286.8 L1034.5,287.4 L1032.6,288.1 L1030.7,288.7 L1028.8,289.3 L1027.0,290.0 L1025.1,290.6 L1023.2,291.2 L1021.3,291.9 L1019.4,292.5 L1017.5,293.1 L1015.6,293.8 L1013.7,294.4 L1011.7,295.0 L1009.8,295.7 L1007.9,296.4 L1006.0,297.0 L1004.1,297.7 L1002.3,298.4 L1000.4,299.0 L998.5,299.7 L996.6,300.4 L994.7,301.0 L992.8,301.7 L990.9,302.4 L989.0,303.0 L987.1,303.7 L985.2,304.4 L983.3,305.1 L981.4,305.8 L979.5,306.6 L977.7,307.3 L975.8,308.0 L973.9,308.7 L972.1,309.4 L970.2,310.2 L968.3,310.9 L966.5,311.6 L964.6,312.3 L962.7,313.0 L960.9,313.8 L958.9,314.5 L957.0,315.3 L955.2,316.0 L953.3,316.8 L951.5,317.6 L949.6,318.3 L947.8,319.1 L945.9,319.8 L944.1,320.6 L942.2,321.3 L940.4,322.1 L938.5,322.9 L936.7,323.6 L934.8,324.4 L932.9,325.2 L931.0,326.0 L929.2,326.8 L927.4,327.6 L925.5,328.4 L923.7,329.2 L921.9,330.0 L920.0,330.8 L918.2,331.6 L916.4,332.4 L914.5,333.2 L912.7,334.0 L910.9,334.8 L909.0,335.6 L907.2,336.4 L905.3,337.3 L903.5,338.1 L901.6,339.0 L899.8,339.8 L898.0,340.7 L896.2,341.5 L894.4,342.4 L892.6,343.2 L890.8,344.1 L889.0,344.9 L887.2,345.8 L885.3,346.6 L883.5,347.5 L881.7,348.3 L879.9,349.2 L878.1,350.0 L876.3,350.9 L874.4,351.8 L872.6,352.6 L870.8,353.5 L869.0,354.4 L867.2,355.3 L865.4,356.1 L863.6,357.0 L861.8,357.9 L860.0,358.7 L858.2,359.6 L856.4,360.5 L854.6,361.3 L852.8,362.2 L851.0,363.2 L849.2,364.1 L847.4,365.0 L845.6,365.9 L843.8,366.8 L842.0,367.7 L840.3,368.6 L838.5,369.5 L836.7,370.4 L834.9,371.4 L833.1,372.3 L831.4,373.2 L829.6,374.1 L827.8,375.0 L826.0,375.9 L824.2,376.8 L822.4,377.8 L820.7,378.7 L818.9,379.6 L817.1,380.5 L815.3,381.4 L813.5,382.4 L811.8,383.3 L810.0,384.2 L808.2,385.1 L806.4,386.0 L804.7,387.0 L802.9,387.9 L801.1,388.8 L799.3,389.7 L797.5,390.7 L795.8,391.6 L794.0,392.5 L792.2,393.5 L790.5,394.4 L788.7,395.3 L786.9,396.3 L785.2,397.2 L783.4,398.1 L781.6,399.1 L779.9,400.0 L778.1,400.9 L776.3,401.9 L774.5,402.8 L772.7,403.8 L771.0,404.7 L769.2,405.7 L767.5,406.6 L765.7,407.6 L763.9,408.5 L762.2,409.5 L760.4,410.4 L758.7,411.4 L756.9,412.4 L755.1,413.3 L753.4,414.3 L751.6,415.2 L749.9,416.2 L748.1,417.1 L746.3,418.1 L744.6,419.1 L742.8,420.0 L741.1,421.0 L739.3,421.9 L737.6,422.9 L735.8,423.9 L734.1,424.8 L732.3,425.8 L730.6,426.8 L728.8,427.7 L727.0,428.7 L725.3,429.6 L723.5,430.6 L721.8,431.6 L720.0,432.6 L718.3,433.6 L716.5,434.5 L714.8,435.5 L713.0,436.5 L711.3,437.5 L709.5,438.5 L707.8,439.4 L706.1,440.4 L704.3,441.4 L702.6,442.4 L700.8,443.4 L699.1,444.4 L697.3,445.3 L695.6,446.3 L693.8,447.3 L692.1,448.4 L690.3,449.4 L688.6,450.4 L686.9,451.4 L685.2,452.4 L683.4,453.4 L681.7,454.4 L680.0,455.4 L678.2,456.4 L676.5,457.4 L674.8,458.4 L673.1,459.4 L671.3,460.4 L669.6,461.4 L667.8,462.4 L666.1,463.5 L664.4,464.5 L662.7,465.5 L660.9,466.6 L659.2,467.6 L657.5,468.6 L655.8,469.7 L654.1,470.7 L652.4,471.7 L650.6,472.7 L648.9,473.8 L647.2,474.8 L645.5,475.8 L643.8,476.8 L642.0,477.9 L640.3,478.9 L638.6,480.0 L636.9,481.0 L635.2,482.1 L633.5,483.1 L631.8,484.1 L630.1,485.2 L628.4,486.2 L626.7,487.3 L625.0,488.3 L623.3,489.4 L621.5,490.4 L619.8,491.4 L618.1,492.5 L616.4,493.5 L614.7,494.6 L613.0,495.7 L611.3,496.7 L609.6,497.8 L607.9,498.9 L606.2,499.9 L604.5,501.0 L602.8,502.0 L601.1,503.1 L599.4,504.2 L597.7,505.2 L596.0,506.3 L594.3,507.3 L592.6,508.4 L590.9,509.5 L589.2,510.5 L587.5,511.6 L585.8,512.7 L584.1,513.8 L582.5,514.9 L580.8,516.0 L579.1,517.1 L577.4,518.1 L575.7,519.2 L574.1,520.3 L572.4,521.4 L570.7,522.5 L569.0,523.6 L567.3,524.6 L565.6,525.7 L564.0,526.8 L562.2,527.9 L560.6,529.1 L558.9,530.2 L557.2,531.3 L555.6,532.4 L553.9,533.5 L552.2,534.6 L550.6,535.7 L548.9,536.8 L547.2,537.9 L545.6,539.0 L543.9,540.2 L542.3,541.3 L540.6,542.4 L538.9,543.5 L537.2,544.6 L535.5,545.8 L533.9,546.9 L532.2,548.1 L530.6,549.2 L529.0,550.3 L527.3,551.5 L525.7,552.6 L524.0,553.8 L522.4,554.9 L520.7,556.0 L519.1,557.2 L517.4,558.3 L515.8,559.5 L514.2,560.6 L512.5,561.7 L510.9,562.9 L509.2,564.1 L507.6,565.2 L505.9,566.4 L504.3,567.6 L502.7,568.7 L501.1,569.9 L499.4,571.1 L497.8,572.2 L496.2,573.4 L494.5,574.6 L492.9,575.7 L491.3,576.9 L489.7,578.1 L488.0,579.2 L486.4,580.4 L484.8,581.6 L483.1,582.8 L481.5,584.0 L479.9,585.2 L478.3,586.4 L476.7,587.6 L475.1,588.8 L473.5,590.0 L471.9,591.2 L470.3,592.4 L468.7,593.6 L467.1,594.8 L465.5,596.0 L463.9,597.2 L462.3,598.4 L460.7,599.6 L459.1,600.8 L457.4,602.0 L455.8,603.2 L454.2,604.5 L452.6,605.7 L451.1,606.9 L449.5,608.2 L447.9,609.4 L446.3,610.6 L444.8,611.8 L443.2,613.1 L441.6,614.3 L440.0,615.5 L438.4,616.8 L436.9,618.0 L435.3,619.2 L433.7,620.4 L432.1,621.7 L430.5,622.9 L428.9,624.2 L427.4,625.5 L425.8,626.7 L424.3,628.0 L422.7,629.3 L421.1,630.5 L419.6,631.8 L418.0,633.0 L416.5,634.3 L414.9,635.6 L413.4,636.8 L411.8,638.1 L410.3,639.3 L408.7,640.6 L407.2,641.9 L405.6,643.1 L404.0,644.4 L402.4,645.7 L400.9,647.0 L399.4,648.3 L397.9,649.6 L396.3,650.9 L394.8,652.2 L393.3,653.5 L391.7,654.8 L390.2,656.0 L388.7,657.3 L387.2,658.6 L385.6,659.9 L384.1,661.2 L382.6,662.5 L381.0,663.8 L379.5,665.1 L378.0,666.4Z"/>
<g stroke="#0000ff" fill="none" stroke-width="8.4">
<circle cx="381.4" cy="670.4" r="14.2"/>
<circle cx="407.7" cy="648.2" r="14.2"/>
<circle cx="434.1" cy="626.9" r="14.2"/>
<circle cx="460.4" cy="606.4" r="14.2"/>
<circle cx="486.8" cy="586.7" r="14.2"/>
<circle cx="513.1" cy="567.8" r="14.2"/>
<circle cx="539.5" cy="549.5" r="14.2"/>
<circle cx="565.8" cy="531.9" r="14.2"/>
<circle cx="592.2" cy="515.0" r="14.2"/>
<circle cx="618.5" cy="498.5" r="14.2"/>
<circle cx="644.8" cy="482.4" r="14.2"/>
<circle cx="671.2" cy="466.6" r="14.2"/>
<circle cx="697.5" cy="451.3" r="14.2"/>
<circle cx="723.9" cy="436.5" r="14.2"/>
<circle cx="750.2" cy="422.0" r="14.2"/>
<circle cx="776.6" cy="407.7" r="14.2"/>
<circle cx="802.9" cy="393.8" r="14.2"/>
<circle cx="829.3" cy="380.2" r="14.2"/>
<circle cx="855.6" cy="366.8" r="14.2"/>
<circle cx="882.0" cy="354.0" r="14.2"/>
<circle cx="908.3" cy="341.7" r="14.2"/>
<circle cx="934.6" cy="330.2" r="14.2"/>
<circle cx="961.0" cy="319.4" r="14.2"/>
<circle cx="987.3" cy="309.2" r="14.2"/>
<circle cx="1013.7" cy="300.0" r="14.2"/>
<circle cx="1040.0" cy="291.2" r="14.2"/>
<circle cx="1066.4" cy="282.9" r="14.2"/>
<circle cx="1092.7" cy="275.3" r="14.2"/>
<circle cx="1119.1" cy="268.1" r="14.2"/>
<circle cx="1145.4" cy="261.6" r="14.2"/>
<circle cx="1171.8" cy="256.0" r="14.2"/>
<circle cx="1198.1" cy="251.2" r="14.2"/>
<circle cx="1224.4" cy="247.3" r="14.2"/>
<circle cx="1250.8" cy="244.1" r="14.2"/>
<circle cx="1277.1" cy="241.5" r="14.2"/>
<circle cx="1303.5" cy="239.2" r="14.2"/>
<circle cx="1329.8" cy="237.3" r="14.2"/>
<circle cx="1356.2" cy="235.6" r="14.2"/>
<circle cx="1382.5" cy="234.3" r="14.2"/>
<circle cx="1408.9" cy="233.1" r="14.2"/>
<circle cx="1435.2" cy="232.2" r="14.2"/>
<circle cx="1461.5" cy="231.5" r="14.2"/>
<circle cx="1487.9" cy="231.0" r="14.2"/>
<circle cx="1514.2" cy="230.7" r="14.2"/>
<circle cx="1540.6" cy="230.5" r="14.2"/>
<circle cx="1566.9" cy="230.4" r="14.2"/>
<circle cx="1593.3" cy="230.6" r="14.2"/>
<circle cx="1619.6" cy="231.0" r="14.2"/>
<circle cx="1646.0" cy="231.6" r="14.2"/>
<circle cx="1672.3" cy="232.7" r="14.2"/>
<circle cx="1698.7" cy="234.2" r="14.2"/>
<circle cx="1725.0" cy="236.1" r="14.2"/>
<circle cx="1751.3" cy="238.5" r="14.2"/>
<circle cx="1777.7" cy="241.5" r="14.2"/>
<circle cx="1804.0" cy="245.3" r="14.2"/>
<circle cx="1830.4" cy="249.9" r="14.2"/>
<circle cx="1856.7" cy="255.1" r="14.2"/>
<circle cx="1883.1" cy="261.2" r="14.2"/>
<circle cx="1909.4" cy="268.3" r="14.2"/>
<circle cx="1935.8" cy="275.8" r="14.2"/>
<circle cx="1962.1" cy="284.1" r="14.2"/>
<circle cx="1988.4" cy="293.0" r="14.2"/>
<circle cx="2014.8" cy="303.1" r="14.2"/>
<circle cx="2041.1" cy="314.0" r="14.2"/>
<circle cx="2067.5" cy="326.4" r="14.2"/>
<circle cx="2093.8" cy="339.9" r="14.2"/>
<circle cx="2120.2" cy="354.6" r="14.2"/>
<circle cx="2146.5" cy="370.2" r="14.2"/>
<circle cx="2172.9" cy="386.8" r="14.2"/>
<circle cx="2199.2" cy="404.0" r="14.2"/>
<circle cx="2225.5" cy="422.0" r="14.2"/>
<circle cx="2251.9" cy="440.5" r="14.2"/>
<circle cx="2278.2" cy="459.8" r="14.2"/>
<circle cx="2304.6" cy="479.7" r="14.2"/>
<circle cx="2330.9" cy="500.0" r="14.2"/>
<circle cx="2357.3" cy="520.8" r="14.2"/>
</g></g>
<path class="s-s11" clip-path="url(#plot)" fill="#ff0000" d="M385.9,813.1 L386.9,813.2 L388.4,813.4 L389.9,813.5 L391.4,813.7 L392.9,813.8 L394.4,814.0 L395.9,814.1 L397.4,814.3 L398.9,814.5 L400.4,814.6 L401.9,814.8 L403.4,814.9 L404.9,815.1 L406.4,815.3 L407.9,815.4 L409.4,815.6 L410.9,815.7 L412.4,815.9 L413.9,816.1 L415.4,816.2 L416.9,816.4 L418.4,816.5 L419.9,816.7 L421.4,816.9 L422.9,817.0 L424.4,817.2 L425.9,817.4 L427.4,817.5 L428.9,817.7 L430.4,817.8 L431.9,818.0 L432.1,818.0 L433.1,808.9 L432.9,808.9 L431.4,808.7 L429.9,808.5 L428.4,808.4 L426.9,808.2 L425.4,808.0 L423.9,807.9 L422.4,807.7 L420.9,807.6 L419.4,807.4 L417.9,807.2 L416.4,807.1 L414.9,806.9 L413.4,806.7 L411.9,806.6 L410.4,806.4 L408.9,806.3 L407.4,806.1 L405.9,805.9 L404.4,805.8 L402.9,805.6 L401.4,805.5 L399.9,805.3 L398.4,805.2 L396.9,805.0 L395.4,804.8 L393.9,804.7 L392.4,804.5 L390.9,804.4 L389.4,804.2 L387.9,804.0 L386.9,803.9Z M440.6,819.0 L440.9,819.0 L442.4,819.2 L443.9,819.3 L445.4,819.5 L446.9,819.7 L448.4,819.8 L449.9,820.0 L451.4,820.2 L452.9,820.3 L454.4,820.5 L455.9,820.7 L457.4,820.8 L458.9,821.0 L460.4,821.2 L461.9,821.3 L463.4,821.5 L464.9,821.7 L466.4,821.8 L467.9,822.0 L469.4,822.2 L470.9,822.4 L472.4,822.5 L473.9,822.7 L475.4,822.9 L476.9,823.0 L478.4,823.2 L479.9,823.4 L481.4,823.6 L482.9,823.7 L484.4,823.9 L485.9,824.1 L486.7,824.2 L487.8,815.0 L486.9,814.9 L485.4,814.8 L483.9,814.6 L482.4,814.4 L480.9,814.2 L479.4,814.1 L477.9,813.9 L476.4,813.7 L474.9,813.6 L473.4,813.4 L471.9,813.2 L470.4,813.0 L468.9,812.9 L467.4,812.7 L465.9,812.5 L464.4,812.4 L462.9,812.2 L461.4,812.0 L459.9,811.9 L458.4,811.7 L456.9,811.5 L455.4,811.4 L453.9,811.2 L452.4,811.0 L450.9,810.8 L449.4,810.7 L447.9,810.5 L446.4,810.3 L444.9,810.2 L443.4,810.0 L441.9,809.9 L441.6,809.8Z M495.2,825.1 L496.4,825.3 L497.9,825.5 L499.4,825.6 L500.9,825.8 L502.4,826.0 L503.9,826.2 L505.4,826.3 L506.9,826.5 L508.4,826.7 L509.9,826.9 L511.4,827.0 L512.9,827.2 L514.4,827.4 L515.9,827.6 L517.4,827.8 L518.9,827.9 L520.4,828.1 L521.9,828.3 L523.4,828.5 L524.9,828.6 L526.4,828.8 L527.9,829.0 L529.4,829.2 L530.9,829.4 L532.4,829.5 L533.9,829.7 L535.3,829.9 L536.8,830.1 L538.3,830.3 L539.8,830.4 L541.3,830.6 L542.4,821.5 L541.0,821.3 L539.5,821.1 L538.0,820.9 L536.5,820.8 L534.9,820.6 L533.4,820.4 L531.9,820.2 L530.4,820.0 L528.9,819.9 L527.4,819.7 L525.9,819.5 L524.4,819.3 L522.9,819.2 L521.4,819.0 L519.9,818.8 L518.4,818.6 L516.9,818.4 L515.4,818.3 L513.9,818.1 L512.4,817.9 L510.9,817.7 L509.4,817.6 L507.9,817.4 L506.4,817.2 L504.9,817.0 L503.4,816.8 L501.9,816.7 L500.4,816.5 L498.9,816.3 L497.4,816.1 L496.2,816.0Z M549.8,831.6 L550.3,831.7 L551.8,831.9 L553.3,832.1 L554.8,832.3 L556.3,832.5 L557.8,832.6 L559.3,832.8 L560.8,833.0 L562.3,833.2 L563.8,833.4 L565.3,833.6 L566.8,833.7 L568.3,833.9 L569.8,834.1 L571.3,834.3 L572.8,834.5 L574.3,834.7 L575.8,834.9 L577.3,835.1 L578.8,835.2 L580.3,835.4 L581.8,835.6 L583.3,835.8 L584.8,836.0 L586.3,836.2 L587.8,836.4 L589.3,836.6 L590.8,836.7 L592.3,836.9 L593.8,837.1 L595.3,837.3 L595.9,837.4 L597.0,828.3 L596.5,828.2 L595.0,828.0 L593.5,827.8 L592.0,827.6 L590.5,827.4 L589.0,827.2 L587.5,827.1 L586.0,826.9 L584.5,826.7 L583.0,826.5 L581.5,826.3 L580.0,826.1 L578.5,825.9 L577.0,825.7 L575.5,825.5 L574.0,825.4 L572.5,825.2 L571.0,825.0 L569.5,824.8 L568.0,824.6 L566.5,824.4 L565.0,824.2 L563.5,824.1 L562.0,823.9 L560.5,823.7 L559.0,823.5 L557.5,823.3 L556.0,823.1 L554.5,823.0 L553.0,822.8 L551.5,822.6 L550.9,822.5Z M604.3,838.5 L604.3,838.5 L605.8,838.6 L607.3,838.8 L608.8,839.0 L610.3,839.2 L611.8,839.4 L613.3,839.6 L614.8,839.8 L616.3,840.0 L617.8,840.2 L619.3,840.4 L620.8,840.6 L622.3,840.8 L623.8,841.0 L625.3,841.2 L626.8,841.4 L628.3,841.5 L629.8,841.7 L631.3,841.9 L632.8,842.1 L634.3,842.3 L635.8,842.5 L637.3,842.7 L638.8,842.9 L640.3,843.1 L641.8,843.3 L643.3,843.5 L644.8,843.7 L646.3,843.9 L647.8,844.1 L649.3,844.3 L650.4,844.4 L651.6,835.3 L650.5,835.2 L649.0,835.0 L647.5,834.8 L646.0,834.6 L644.5,834.4 L643.0,834.2 L641.5,834.0 L640.0,833.8 L638.5,833.6 L637.0,833.4 L635.5,833.2 L634.0,833.0 L632.5,832.8 L631.0,832.6 L629.5,832.4 L628.0,832.2 L626.5,832.0 L625.0,831.8 L623.5,831.6 L622.0,831.5 L620.5,831.3 L619.0,831.1 L617.5,830.9 L616.0,830.7 L614.5,830.5 L613.0,830.3 L611.5,830.1 L610.0,829.9 L608.5,829.7 L607.0,829.5 L605.5,829.3 L605.5,829.3Z M658.8,845.6 L659.8,845.7 L661.3,845.9 L662.8,846.1 L664.3,846.3 L665.8,846.5 L667.3,846.7 L668.8,846.9 L670.3,847.1 L671.8,847.3 L673.3,847.5 L674.8,847.7 L676.3,847.9 L677.8,848.1 L679.3,848.3 L680.8,848.5 L682.3,848.7 L683.8,848.9 L685.3,849.1 L686.8,849.3 L688.3,849.5 L689.8,849.7 L691.3,849.9 L692.8,850.1 L694.3,850.3 L695.8,850.5 L697.3,850.7 L698.8,851.0 L700.3,851.2 L701.8,851.4 L703.3,851.6 L704.8,851.8 L704.9,851.8 L706.1,842.7 L706.0,842.7 L704.5,842.5 L703.0,842.2 L701.5,842.0 L700.0,841.8 L698.5,841.6 L697.0,841.4 L695.5,841.2 L694.0,841.0 L692.5,840.8 L691.0,840.6 L689.5,840.4 L688.0,840.2 L686.5,840.0 L685.0,839.8 L683.5,839.6 L682.0,839.4 L680.5,839.2 L679.0,839.0 L677.5,838.8 L676.0,838.6 L674.5,838.4 L673.0,838.2 L671.5,838.0 L670.0,837.8 L668.5,837.6 L667.0,837.4 L665.5,837.2 L664.0,837.0 L662.5,836.8 L661.0,836.6 L660.0,836.4Z M713.3,853.0 L713.8,853.0 L715.3,853.2 L716.8,853.4 L718.3,853.6 L719.8,853.8 L721.3,854.1 L722.8,854.3 L724.3,854.5 L725.8,854.7 L727.3,854.9 L728.8,855.1 L730.3,855.3 L731.8,855.5 L733.3,855.7 L734.8,855.9 L736.3,856.1 L737.8,856.4 L739.3,856.6 L740.8,856.8 L742.3,857.0 L743.8,857.2 L745.3,857.4 L746.8,857.6 L748.3,857.8 L749.8,858.1 L751.3,858.3 L752.8,858.5 L754.3,858.7 L755.8,858.9 L757.3,859.1 L758.8,859.3 L759.3,859.4 L760.6,850.3 L760.0,850.2 L758.5,850.0 L757.0,849.8 L755.5,849.6 L754.0,849.4 L752.5,849.2 L751.0,848.9 L749.5,848.7 L748.0,848.5 L746.5,848.3 L745.0,848.1 L743.5,847.9 L742.0,847.7 L740.5,847.5 L739.0,847.2 L737.5,847.0 L736.0,846.8 L734.5,846.6 L733.0,846.4 L731.5,846.2 L730.0,846.0 L728.5,845.8 L727.0,845.6 L725.5,845.4 L724.0,845.2 L722.5,844.9 L721.0,844.7 L719.5,844.5 L718.0,844.3 L716.5,844.1 L715.0,843.9 L714.6,843.8Z M767.7,860.6 L769.2,860.8 L770.7,861.0 L772.2,861.3 L773.7,861.5 L775.2,861.7 L776.7,861.9 L778.2,862.1 L779.7,862.3 L781.2,862.6 L782.7,862.8 L784.2,863.0 L785.7,863.2 L787.2,863.4 L788.7,863.6 L790.2,863.9 L791.7,864.1 L793.2,864.3 L794.7,864.5 L796.2,864.7 L797.7,865.0 L799.2,865.2 L800.7,865.4 L802.2,865.6 L803.7,865.8 L805.2,866.1 L806.7,866.3 L808.2,866.5 L809.7,866.7 L811.2,866.9 L812.7,867.2 L813.7,867.3 L815.1,858.2 L814.1,858.1 L812.6,857.8 L811.1,857.6 L809.6,857.4 L808.1,857.2 L806.6,857.0 L805.1,856.7 L803.6,856.5 L802.1,856.3 L800.6,856.1 L799.1,855.9 L797.6,855.6 L796.1,855.4 L794.6,855.2 L793.1,855.0 L791.6,854.8 L790.1,854.5 L788.6,854.3 L787.1,854.1 L785.6,853.9 L784.1,853.7 L782.6,853.5 L781.1,853.2 L779.6,853.0 L778.1,852.8 L776.6,852.6 L775.1,852.4 L773.6,852.2 L772.1,851.9 L770.6,851.7 L769.1,851.5Z M822.1,868.6 L823.2,868.7 L824.7,868.9 L826.2,869.2 L827.7,869.4 L829.2,869.6 L830.7,869.8 L832.2,870.1 L833.7,870.3 L835.2,870.5 L836.7,870.7 L838.2,871.0 L839.7,871.2 L841.2,871.4 L842.7,871.7 L844.2,871.9 L845.7,872.1 L847.2,872.3 L848.7,872.6 L850.2,872.8 L851.7,873.0 L853.2,873.3 L854.7,873.5 L856.2,873.7 L857.7,874.0 L859.2,874.2 L860.7,874.4 L862.2,874.7 L863.7,874.9 L865.2,875.1 L866.7,875.4 L868.1,875.6 L869.5,866.5 L868.1,866.3 L866.6,866.0 L865.1,865.8 L863.6,865.6 L862.1,865.3 L860.6,865.1 L859.1,864.9 L857.6,864.6 L856.1,864.4 L854.6,864.2 L853.1,863.9 L851.6,863.7 L850.1,863.5 L848.6,863.2 L847.1,863.0 L845.6,862.8 L844.1,862.6 L842.6,862.3 L841.1,862.1 L839.6,861.9 L838.1,861.6 L836.6,861.4 L835.1,861.2 L833.6,861.0 L832.1,860.7 L830.6,860.5 L829.1,860.3 L827.6,860.1 L826.1,859.8 L824.6,859.6 L823.5,859.5Z M876.5,876.9 L877.2,877.0 L878.7,877.3 L880.2,877.5 L881.7,877.7 L883.2,878.0 L884.7,878.2 L886.2,878.5 L887.7,878.7 L889.2,879.0 L890.7,879.2 L892.2,879.5 L893.7,879.7 L895.2,879.9 L896.6,880.2 L898.1,880.4 L899.6,880.7 L901.1,880.9 L902.6,881.2 L904.1,881.4 L905.6,881.7 L907.1,881.9 L908.6,882.2 L910.1,882.5 L911.6,882.7 L913.1,883.0 L914.6,883.2 L916.1,883.5 L917.6,883.7 L919.1,884.0 L920.6,884.3 L922.1,884.5 L922.3,884.5 L923.8,875.5 L923.7,875.4 L922.2,875.2 L920.7,874.9 L919.2,874.7 L917.7,874.4 L916.2,874.2 L914.7,873.9 L913.2,873.6 L911.7,873.4 L910.2,873.1 L908.7,872.9 L907.2,872.6 L905.7,872.4 L904.2,872.1 L902.7,871.9 L901.2,871.6 L899.7,871.4 L898.2,871.1 L896.6,870.9 L895.1,870.6 L893.6,870.4 L892.1,870.1 L890.6,869.9 L889.1,869.6 L887.6,869.4 L886.1,869.2 L884.6,868.9 L883.1,868.7 L881.6,868.4 L880.1,868.2 L878.6,867.9 L877.9,867.8Z M930.6,886.0 L931.1,886.1 L932.6,886.4 L934.1,886.6 L935.6,886.9 L937.1,887.2 L938.6,887.4 L940.1,887.7 L941.6,888.0 L943.1,888.2 L944.6,888.5 L946.1,888.8 L947.6,889.1 L949.1,889.3 L950.6,889.6 L952.1,889.9 L953.6,890.2 L955.1,890.4 L956.6,890.7 L958.0,891.0 L959.5,891.3 L961.0,891.6 L962.5,891.9 L964.0,892.1 L965.5,892.4 L967.0,892.7 L968.5,893.0 L970.0,893.3 L971.5,893.6 L973.0,893.9 L974.5,894.2 L976.0,894.5 L976.2,894.5 L978.0,885.5 L977.8,885.4 L976.3,885.1 L974.8,884.8 L973.3,884.6 L971.8,884.3 L970.3,884.0 L968.8,883.7 L967.3,883.4 L965.8,883.1 L964.3,882.8 L962.8,882.5 L961.3,882.3 L959.8,882.0 L958.2,881.7 L956.7,881.4 L955.2,881.1 L953.7,880.8 L952.2,880.6 L950.7,880.3 L949.2,880.0 L947.7,879.7 L946.2,879.5 L944.7,879.2 L943.2,878.9 L941.7,878.6 L940.2,878.4 L938.7,878.1 L937.2,877.8 L935.7,877.6 L934.2,877.3 L932.7,877.0 L932.2,876.9Z M984.6,896.2 L985.0,896.2 L986.5,896.5 L988.0,896.9 L989.5,897.2 L991.0,897.5 L992.5,897.8 L994.0,898.1 L995.5,898.4 L997.0,898.7 L998.5,899.0 L1000.0,899.3 L1001.5,899.6 L1003.0,899.9 L1004.5,900.3 L1005.9,900.6 L1007.4,900.9 L1008.9,901.2 L1010.4,901.5 L1011.9,901.8 L1013.4,902.2 L1014.9,902.5 L1016.4,902.8 L1017.9,903.1 L1019.4,903.5 L1020.9,903.8 L1022.4,904.1 L1023.9,904.5 L1025.4,904.8 L1026.9,905.1 L1028.4,905.5 L1029.9,905.8 L1029.9,905.8 L1032.0,896.8 L1031.9,896.8 L1030.4,896.5 L1028.9,896.1 L1027.4,895.8 L1025.9,895.5 L1024.4,895.1 L1022.9,894.8 L1021.4,894.5 L1019.9,894.2 L1018.4,893.8 L1016.9,893.5 L1015.4,893.2 L1013.9,892.8 L1012.4,892.5 L1010.9,892.2 L1009.4,891.9 L1007.9,891.6 L1006.3,891.2 L1004.8,890.9 L1003.3,890.6 L1001.8,890.3 L1000.3,890.0 L998.8,889.7 L997.3,889.4 L995.8,889.1 L994.3,888.8 L992.8,888.4 L991.3,888.1 L989.8,887.8 L988.3,887.5 L986.8,887.2 L986.4,887.1Z M1038.2,907.7 L1038.9,907.8 L1038.7,907.7 L1040.0,908.4 L1041.4,909.1 L1042.9,909.8 L1044.4,910.6 L1045.9,911.4 L1047.3,912.1 L1048.8,912.9 L1050.3,913.7 L1051.8,914.6 L1053.2,915.4 L1054.7,916.2 L1056.2,917.1 L1057.7,917.9 L1059.1,918.8 L1060.6,919.7 L1062.1,920.6 L1063.6,921.5 L1065.1,922.4 L1066.5,923.3 L1068.0,924.3 L1069.5,925.2 L1071.0,926.2 L1072.5,927.2 L1073.9,928.2 L1075.4,929.1 L1076.9,930.1 L1082.1,922.5 L1080.6,921.5 L1079.1,920.5 L1077.5,919.5 L1076.0,918.5 L1074.5,917.5 L1073.0,916.5 L1071.5,915.6 L1069.9,914.6 L1068.4,913.7 L1066.9,912.7 L1065.4,911.8 L1063.9,910.9 L1062.3,910.0 L1060.8,909.1 L1059.3,908.2 L1057.8,907.4 L1056.2,906.5 L1054.7,905.7 L1053.2,904.8 L1051.7,904.0 L1050.1,903.2 L1048.6,902.4 L1047.1,901.6 L1045.6,900.9 L1044.0,900.1 L1042.3,899.3 L1040.9,898.9 L1040.3,898.7Z M1083.8,934.9 L1084.3,935.3 L1085.8,936.4 L1087.3,937.5 L1088.8,938.6 L1090.3,939.7 L1091.7,940.8 L1093.2,941.9 L1094.7,943.0 L1096.2,944.2 L1097.7,945.3 L1099.2,946.5 L1100.7,947.6 L1102.1,948.8 L1103.6,950.0 L1105.1,951.2 L1106.6,952.4 L1108.1,953.6 L1109.6,954.8 L1111.1,956.1 L1112.5,957.3 L1114.0,958.5 L1115.5,959.8 L1117.0,961.1 L1118.5,962.4 L1119.9,963.5 L1125.9,956.6 L1124.5,955.4 L1123.0,954.1 L1121.5,952.8 L1120.0,951.5 L1118.5,950.2 L1116.9,949.0 L1115.4,947.7 L1113.9,946.5 L1112.4,945.2 L1110.9,944.0 L1109.4,942.8 L1107.9,941.6 L1106.3,940.4 L1104.8,939.2 L1103.3,938.0 L1101.8,936.9 L1100.3,935.7 L1098.8,934.5 L1097.3,933.4 L1095.7,932.3 L1094.2,931.2 L1092.7,930.0 L1091.2,928.9 L1089.7,927.9 L1089.1,927.5Z M1126.2,969.1 L1127.4,970.2 L1128.9,971.5 L1130.4,972.9 L1131.9,974.3 L1133.4,975.6 L1134.9,977.0 L1136.4,978.4 L1137.9,979.8 L1139.3,981.2 L1140.8,982.6 L1142.3,984.0 L1143.8,985.4 L1145.3,986.8 L1146.8,988.3 L1148.3,989.7 L1149.8,991.2 L1151.3,992.6 L1152.8,994.1 L1154.3,995.6 L1155.8,997.0 L1157.2,998.5 L1158.7,1000.0 L1159.7,1001.0 L1166.2,994.5 L1165.3,993.5 L1163.8,992.0 L1162.2,990.5 L1160.7,989.0 L1159.2,987.5 L1157.7,986.0 L1156.2,984.6 L1154.7,983.1 L1153.2,981.6 L1151.7,980.2 L1150.2,978.7 L1148.7,977.3 L1147.2,975.9 L1145.7,974.5 L1144.1,973.0 L1142.6,971.6 L1141.1,970.2 L1139.6,968.8 L1138.1,967.5 L1136.6,966.1 L1135.1,964.7 L1133.6,963.4 L1132.3,962.2Z M1165.6,1007.0 L1166.2,1007.6 L1167.7,1009.1 L1169.2,1010.7 L1170.7,1012.2 L1172.2,1013.8 L1173.7,1015.4 L1175.2,1016.9 L1176.7,1018.5 L1178.2,1020.1 L1179.7,1021.6 L1181.2,1023.2 L1182.7,1024.8 L1184.2,1026.4 L1185.7,1027.9 L1187.2,1029.5 L1188.7,1031.1 L1190.2,1032.7 L1191.7,1034.2 L1193.2,1035.8 L1194.7,1037.4 L1196.2,1038.9 L1197.7,1040.5 L1197.8,1040.6 L1204.4,1034.2 L1204.3,1034.1 L1202.8,1032.5 L1201.3,1031.0 L1199.8,1029.4 L1198.3,1027.9 L1196.8,1026.3 L1195.3,1024.7 L1193.8,1023.2 L1192.3,1021.6 L1190.8,1020.0 L1189.3,1018.4 L1187.8,1016.9 L1186.3,1015.3 L1184.8,1013.7 L1183.3,1012.1 L1181.8,1010.6 L1180.3,1009.0 L1178.8,1007.4 L1177.3,1005.9 L1175.8,1004.3 L1174.3,1002.7 L1172.8,1001.2 L1172.2,1000.6Z M1203.7,1046.7 L1203.7,1046.7 L1205.2,1048.2 L1206.7,1049.7 L1208.2,1051.3 L1209.8,1052.8 L1211.3,1054.3 L1212.8,1055.8 L1214.3,1057.3 L1215.8,1058.7 L1217.3,1060.2 L1218.8,1061.6 L1220.3,1063.1 L1221.9,1064.5 L1223.4,1065.9 L1224.9,1067.3 L1226.4,1068.7 L1227.9,1070.1 L1229.4,1071.5 L1231.0,1072.8 L1232.5,1074.1 L1234.0,1075.4 L1235.5,1076.7 L1237.1,1078.0 L1238.0,1078.8 L1243.8,1071.7 L1242.9,1071.0 L1241.5,1069.7 L1240.0,1068.5 L1238.5,1067.2 L1237.0,1065.9 L1235.6,1064.6 L1234.1,1063.3 L1232.6,1061.9 L1231.1,1060.6 L1229.6,1059.2 L1228.1,1057.8 L1226.7,1056.4 L1225.2,1055.0 L1223.7,1053.6 L1222.2,1052.1 L1220.7,1050.7 L1219.2,1049.2 L1217.7,1047.7 L1216.2,1046.3 L1214.8,1044.8 L1213.3,1043.3 L1211.8,1041.8 L1210.3,1040.2 L1210.3,1040.2Z M1244.8,1084.2 L1246.2,1085.3 L1247.8,1086.4 L1249.3,1087.6 L1250.8,1088.7 L1252.4,1089.8 L1253.9,1090.8 L1255.5,1091.8 L1257.0,1092.8 L1258.6,1093.8 L1260.1,1094.8 L1261.7,1095.7 L1263.2,1096.6 L1264.8,1097.5 L1266.3,1098.4 L1267.9,1099.2 L1269.4,1100.0 L1271.0,1100.7 L1272.6,1101.5 L1274.2,1102.2 L1275.7,1102.9 L1277.3,1103.5 L1278.9,1104.1 L1280.5,1104.7 L1282.1,1105.2 L1283.6,1105.7 L1285.2,1106.2 L1286.8,1106.6 L1287.2,1106.7 L1289.4,1097.8 L1289.2,1097.8 L1287.8,1097.4 L1286.4,1097.0 L1284.9,1096.5 L1283.5,1096.0 L1282.1,1095.5 L1280.7,1095.0 L1279.3,1094.4 L1277.8,1093.8 L1276.4,1093.1 L1275.0,1092.4 L1273.6,1091.7 L1272.1,1091.0 L1270.7,1090.3 L1269.2,1089.5 L1267.8,1088.7 L1266.3,1087.8 L1264.9,1086.9 L1263.4,1086.0 L1262.0,1085.1 L1260.5,1084.2 L1259.1,1083.2 L1257.6,1082.2 L1256.2,1081.2 L1254.7,1080.1 L1253.2,1079.0 L1251.8,1078.0 L1250.3,1076.9Z M1296.0,1108.5 L1296.5,1108.5 L1298.0,1108.7 L1299.6,1108.8 L1301.3,1108.9 L1302.9,1109.0 L1304.5,1109.0 L1306.1,1109.0 L1307.7,1109.0 L1309.3,1108.9 L1310.9,1108.8 L1312.5,1108.6 L1314.1,1108.4 L1315.8,1108.1 L1317.4,1107.9 L1319.0,1107.5 L1320.6,1107.2 L1322.2,1106.8 L1323.8,1106.3 L1325.3,1105.9 L1326.9,1105.4 L1328.5,1104.8 L1330.1,1104.3 L1331.7,1103.7 L1333.2,1103.0 L1334.8,1102.4 L1336.4,1101.7 L1337.9,1101.0 L1339.5,1100.3 L1341.0,1099.5 L1342.6,1098.8 L1343.5,1098.3 L1339.2,1090.1 L1338.4,1090.6 L1337.0,1091.3 L1335.5,1092.0 L1334.1,1092.7 L1332.6,1093.3 L1331.2,1093.9 L1329.8,1094.5 L1328.3,1095.1 L1326.9,1095.6 L1325.5,1096.1 L1324.1,1096.6 L1322.7,1097.1 L1321.2,1097.5 L1319.8,1097.9 L1318.4,1098.2 L1317.0,1098.5 L1315.6,1098.8 L1314.2,1099.1 L1312.9,1099.3 L1311.5,1099.5 L1310.1,1099.6 L1308.7,1099.7 L1307.3,1099.8 L1305.9,1099.8 L1304.5,1099.8 L1303.1,1099.8 L1301.7,1099.8 L1300.4,1099.7 L1299.0,1099.5 L1297.5,1099.4 L1297.3,1099.3Z M1351.1,1094.1 L1351.8,1093.7 L1353.4,1092.8 L1354.9,1091.8 L1356.4,1090.9 L1357.9,1090.0 L1359.5,1089.0 L1361.0,1088.0 L1362.5,1087.0 L1364.0,1086.0 L1365.6,1085.0 L1367.1,1084.0 L1368.6,1082.9 L1370.1,1081.9 L1371.6,1080.9 L1373.1,1079.8 L1374.7,1078.7 L1376.2,1077.6 L1377.7,1076.6 L1379.2,1075.5 L1380.7,1074.4 L1382.2,1073.3 L1383.7,1072.2 L1385.2,1071.1 L1386.7,1069.9 L1388.2,1068.8 L1389.7,1067.7 L1389.9,1067.6 L1384.4,1060.2 L1384.3,1060.3 L1382.8,1061.4 L1381.3,1062.6 L1379.8,1063.7 L1378.3,1064.8 L1376.8,1065.9 L1375.3,1066.9 L1373.8,1068.0 L1372.3,1069.1 L1370.8,1070.2 L1369.3,1071.2 L1367.9,1072.3 L1366.4,1073.3 L1364.9,1074.3 L1363.4,1075.4 L1361.9,1076.4 L1360.4,1077.4 L1359.0,1078.3 L1357.5,1079.3 L1356.0,1080.3 L1354.5,1081.2 L1353.1,1082.2 L1351.6,1083.1 L1350.1,1084.0 L1348.6,1084.9 L1347.2,1085.8 L1346.5,1086.1Z M1396.7,1062.5 L1397.3,1062.1 L1398.8,1060.9 L1400.3,1059.8 L1401.8,1058.7 L1403.3,1057.5 L1404.8,1056.4 L1406.3,1055.3 L1407.8,1054.2 L1409.3,1053.0 L1410.7,1051.9 L1412.2,1050.8 L1413.7,1049.7 L1415.2,1048.6 L1416.7,1047.5 L1418.2,1046.4 L1419.7,1045.3 L1421.2,1044.2 L1422.7,1043.2 L1424.2,1042.1 L1425.7,1041.1 L1427.1,1040.0 L1428.6,1039.0 L1430.1,1038.0 L1431.6,1036.9 L1433.1,1035.9 L1434.1,1035.2 L1429.0,1027.6 L1427.9,1028.3 L1426.4,1029.3 L1424.9,1030.4 L1423.4,1031.4 L1421.9,1032.5 L1420.3,1033.5 L1418.8,1034.6 L1417.3,1035.7 L1415.8,1036.8 L1414.3,1037.9 L1412.8,1039.0 L1411.3,1040.1 L1409.8,1041.2 L1408.3,1042.3 L1406.8,1043.4 L1405.3,1044.5 L1403.7,1045.7 L1402.2,1046.8 L1400.7,1047.9 L1399.2,1049.1 L1397.7,1050.2 L1396.2,1051.3 L1394.7,1052.5 L1393.2,1053.6 L1391.7,1054.7 L1391.2,1055.1Z M1441.1,1030.6 L1442.0,1030.1 L1443.5,1029.2 L1444.9,1028.2 L1446.4,1027.3 L1447.9,1026.4 L1449.4,1025.5 L1450.9,1024.6 L1452.3,1023.7 L1453.8,1022.8 L1455.3,1022.0 L1456.8,1021.1 L1458.3,1020.3 L1459.8,1019.4 L1461.2,1018.6 L1462.7,1017.8 L1464.2,1017.0 L1465.7,1016.1 L1467.2,1015.3 L1468.7,1014.5 L1470.1,1013.8 L1471.6,1013.0 L1473.1,1012.2 L1474.6,1011.4 L1476.1,1010.7 L1477.6,1009.9 L1479.0,1009.2 L1480.5,1008.5 L1481.2,1008.1 L1477.2,999.9 L1476.5,1000.2 L1475.0,1001.0 L1473.4,1001.7 L1471.9,1002.5 L1470.4,1003.3 L1468.9,1004.0 L1467.4,1004.8 L1465.9,1005.6 L1464.3,1006.4 L1462.8,1007.2 L1461.3,1008.1 L1459.8,1008.9 L1458.3,1009.7 L1456.8,1010.6 L1455.2,1011.4 L1453.7,1012.3 L1452.2,1013.1 L1450.7,1014.0 L1449.2,1014.9 L1447.7,1015.8 L1446.1,1016.7 L1444.6,1017.6 L1443.1,1018.6 L1441.6,1019.5 L1440.1,1020.4 L1438.5,1021.4 L1437.0,1022.3 L1436.2,1022.9Z M1488.8,1004.5 L1489.4,1004.2 L1490.9,1003.5 L1492.4,1002.8 L1493.9,1002.2 L1495.4,1001.5 L1496.9,1000.8 L1498.4,1000.2 L1499.8,999.5 L1501.3,998.9 L1502.8,998.2 L1504.3,997.6 L1505.8,997.0 L1507.3,996.4 L1508.8,995.7 L1510.2,995.1 L1511.7,994.5 L1513.2,993.9 L1514.7,993.3 L1516.2,992.7 L1517.7,992.1 L1519.2,991.6 L1520.7,991.0 L1522.1,990.4 L1523.6,989.8 L1525.1,989.3 L1526.6,988.7 L1528.1,988.2 L1529.6,987.6 L1531.1,987.1 L1531.4,987.0 L1528.2,978.3 L1527.9,978.4 L1526.4,979.0 L1524.9,979.5 L1523.4,980.1 L1521.9,980.7 L1520.4,981.2 L1518.9,981.8 L1517.3,982.4 L1515.8,983.0 L1514.3,983.6 L1512.8,984.2 L1511.3,984.8 L1509.8,985.4 L1508.3,986.0 L1506.8,986.6 L1505.2,987.2 L1503.7,987.9 L1502.2,988.5 L1500.7,989.1 L1499.2,989.8 L1497.7,990.4 L1496.2,991.1 L1494.6,991.8 L1493.1,992.4 L1491.6,993.1 L1490.1,993.8 L1488.6,994.5 L1487.1,995.2 L1485.6,995.9 L1484.9,996.2Z M1539.4,984.1 L1540.0,983.9 L1541.5,983.3 L1543.0,982.8 L1544.5,982.3 L1546.0,981.8 L1547.5,981.3 L1549.0,980.8 L1550.5,980.3 L1552.0,979.8 L1553.4,979.3 L1554.9,978.8 L1556.4,978.3 L1557.9,977.8 L1559.4,977.3 L1560.9,976.8 L1562.4,976.4 L1563.9,975.9 L1565.4,975.4 L1566.9,974.9 L1568.4,974.5 L1569.9,974.0 L1571.4,973.5 L1572.9,973.0 L1574.4,972.6 L1575.9,972.1 L1577.4,971.6 L1578.9,971.2 L1580.4,970.7 L1581.9,970.2 L1583.4,969.8 L1583.4,969.8 L1580.7,961.0 L1580.6,961.0 L1579.1,961.5 L1577.6,961.9 L1576.1,962.4 L1574.6,962.9 L1573.1,963.3 L1571.6,963.8 L1570.1,964.3 L1568.6,964.7 L1567.1,965.2 L1565.6,965.7 L1564.1,966.2 L1562.6,966.6 L1561.1,967.1 L1559.6,967.6 L1558.1,968.1 L1556.6,968.6 L1555.1,969.1 L1553.6,969.6 L1552.1,970.1 L1550.6,970.6 L1549.0,971.1 L1547.5,971.6 L1546.0,972.1 L1544.5,972.6 L1543.0,973.1 L1541.5,973.6 L1540.0,974.1 L1538.5,974.7 L1537.0,975.2 L1536.3,975.4Z M1591.5,967.3 L1592.3,967.0 L1593.8,966.6 L1595.3,966.1 L1596.8,965.7 L1598.3,965.2 L1599.8,964.8 L1601.3,964.3 L1602.8,963.9 L1604.3,963.4 L1605.8,963.0 L1607.3,962.5 L1608.8,962.0 L1610.3,961.6 L1611.8,961.1 L1613.3,960.7 L1614.8,960.3 L1616.3,959.8 L1617.8,959.4 L1619.3,958.9 L1620.8,958.5 L1622.3,958.0 L1623.8,957.6 L1625.3,957.1 L1626.8,956.7 L1628.3,956.2 L1629.8,955.8 L1631.3,955.3 L1632.8,954.9 L1634.3,954.4 L1635.8,954.0 L1636.0,953.9 L1633.4,945.1 L1633.2,945.2 L1631.7,945.6 L1630.2,946.1 L1628.7,946.5 L1627.2,947.0 L1625.7,947.4 L1624.2,947.9 L1622.7,948.3 L1621.2,948.7 L1619.7,949.2 L1618.2,949.6 L1616.7,950.1 L1615.2,950.5 L1613.7,951.0 L1612.2,951.4 L1610.7,951.9 L1609.2,952.3 L1607.7,952.8 L1606.2,953.2 L1604.7,953.7 L1603.2,954.1 L1601.7,954.6 L1600.2,955.0 L1598.7,955.5 L1597.2,956.0 L1595.7,956.4 L1594.2,956.9 L1592.7,957.3 L1591.2,957.8 L1589.7,958.2 L1588.8,958.5Z M1644.2,951.5 L1644.8,951.3 L1646.3,950.9 L1647.8,950.4 L1649.3,950.0 L1650.8,949.5 L1652.3,949.1 L1653.8,948.7 L1655.3,948.2 L1656.8,947.8 L1658.3,947.3 L1659.8,946.9 L1661.3,946.4 L1662.8,946.0 L1664.3,945.5 L1665.8,945.1 L1667.3,944.6 L1668.8,944.2 L1670.3,943.7 L1671.8,943.3 L1673.3,942.8 L1674.8,942.4 L1676.3,941.9 L1677.8,941.5 L1679.3,941.0 L1680.8,940.6 L1682.3,940.1 L1683.8,939.7 L1685.3,939.2 L1686.8,938.8 L1688.3,938.3 L1688.7,938.2 L1686.1,929.4 L1685.7,929.5 L1684.2,930.0 L1682.7,930.4 L1681.2,930.9 L1679.7,931.3 L1678.2,931.8 L1676.7,932.2 L1675.2,932.7 L1673.7,933.1 L1672.2,933.6 L1670.7,934.0 L1669.2,934.5 L1667.7,934.9 L1666.2,935.4 L1664.7,935.8 L1663.2,936.3 L1661.7,936.7 L1660.2,937.2 L1658.7,937.6 L1657.2,938.1 L1655.7,938.5 L1654.2,938.9 L1652.7,939.4 L1651.2,939.8 L1649.7,940.3 L1648.2,940.7 L1646.7,941.2 L1645.2,941.6 L1643.7,942.1 L1642.2,942.5 L1641.5,942.7Z M1696.9,935.7 L1697.3,935.6 L1698.8,935.1 L1700.3,934.7 L1701.8,934.2 L1703.4,933.7 L1704.9,933.3 L1706.4,932.8 L1707.9,932.4 L1709.4,931.9 L1710.9,931.4 L1712.4,931.0 L1713.9,930.5 L1715.4,930.0 L1716.9,929.6 L1718.4,929.1 L1719.9,928.6 L1721.4,928.1 L1722.9,927.7 L1724.4,927.2 L1725.9,926.7 L1727.4,926.2 L1728.9,925.8 L1730.4,925.3 L1731.9,924.8 L1733.4,924.3 L1734.9,923.8 L1736.4,923.4 L1737.9,922.9 L1739.4,922.4 L1740.9,921.9 L1741.3,921.8 L1738.5,913.0 L1738.1,913.2 L1736.6,913.6 L1735.1,914.1 L1733.6,914.6 L1732.1,915.1 L1730.6,915.6 L1729.1,916.0 L1727.6,916.5 L1726.1,917.0 L1724.6,917.5 L1723.1,918.0 L1721.6,918.4 L1720.1,918.9 L1718.6,919.4 L1717.1,919.8 L1715.6,920.3 L1714.1,920.8 L1712.6,921.2 L1711.1,921.7 L1709.6,922.2 L1708.1,922.6 L1706.6,923.1 L1705.1,923.6 L1703.6,924.0 L1702.1,924.5 L1700.6,925.0 L1699.2,925.4 L1697.7,925.9 L1696.2,926.3 L1694.7,926.8 L1694.2,926.9Z M1749.4,919.1 L1749.9,918.9 L1751.4,918.4 L1753.0,917.9 L1754.5,917.4 L1756.0,916.9 L1757.5,916.4 L1759.0,915.9 L1760.5,915.4 L1762.0,914.9 L1763.5,914.4 L1765.0,913.9 L1766.5,913.4 L1768.0,912.9 L1769.5,912.4 L1771.0,911.8 L1772.5,911.3 L1774.0,910.8 L1775.5,910.3 L1777.0,909.8 L1778.5,909.2 L1780.0,908.7 L1781.5,908.2 L1783.0,907.7 L1784.5,907.1 L1786.0,906.6 L1787.5,906.1 L1789.0,905.5 L1790.5,905.0 L1792.0,904.5 L1793.5,904.0 L1790.4,895.3 L1789.0,895.8 L1787.5,896.3 L1786.0,896.9 L1784.5,897.4 L1783.0,897.9 L1781.5,898.5 L1780.0,899.0 L1778.5,899.5 L1777.0,900.0 L1775.5,900.6 L1774.0,901.1 L1772.5,901.6 L1771.0,902.1 L1769.5,902.6 L1768.0,903.1 L1766.5,903.7 L1765.0,904.2 L1763.5,904.7 L1762.0,905.2 L1760.5,905.7 L1759.0,906.2 L1757.5,906.7 L1756.0,907.2 L1754.5,907.7 L1753.0,908.2 L1751.5,908.7 L1750.0,909.2 L1748.6,909.7 L1747.1,910.2 L1746.5,910.4Z M1801.5,901.1 L1802.6,900.7 L1804.1,900.2 L1805.6,899.7 L1807.1,899.1 L1808.6,898.6 L1810.1,898.0 L1811.6,897.5 L1813.1,897.0 L1814.6,896.4 L1816.1,895.9 L1817.6,895.3 L1819.1,894.8 L1820.6,894.3 L1822.1,893.7 L1823.6,893.2 L1825.1,892.6 L1826.6,892.1 L1828.1,891.5 L1829.6,891.0 L1831.1,890.5 L1832.6,889.9 L1834.1,889.4 L1835.6,888.8 L1837.1,888.3 L1838.6,887.8 L1840.1,887.2 L1841.6,886.7 L1843.1,886.1 L1844.6,885.6 L1845.3,885.3 L1842.2,876.7 L1841.4,876.9 L1839.9,877.5 L1838.4,878.0 L1836.9,878.6 L1835.4,879.1 L1833.9,879.6 L1832.4,880.2 L1830.9,880.7 L1829.4,881.3 L1827.9,881.8 L1826.4,882.4 L1824.9,882.9 L1823.4,883.4 L1821.9,884.0 L1820.4,884.5 L1818.9,885.1 L1817.4,885.6 L1815.9,886.1 L1814.4,886.7 L1812.9,887.2 L1811.4,887.8 L1809.9,888.3 L1808.4,888.8 L1806.9,889.4 L1805.4,889.9 L1803.9,890.5 L1802.4,891.0 L1800.9,891.5 L1799.4,892.1 L1798.4,892.4Z M1853.3,882.5 L1853.5,882.4 L1855.0,881.8 L1856.5,881.3 L1858.0,880.8 L1859.5,880.2 L1861.0,879.7 L1862.5,879.2 L1864.0,878.7 L1865.5,878.1 L1867.0,877.6 L1868.5,877.1 L1870.0,876.5 L1871.5,876.0 L1873.0,875.5 L1874.5,875.0 L1876.0,874.5 L1877.5,873.9 L1879.0,873.4 L1880.5,872.9 L1882.0,872.4 L1883.5,871.9 L1885.0,871.4 L1886.5,870.8 L1888.0,870.3 L1889.5,869.8 L1891.0,869.3 L1892.5,868.8 L1894.0,868.3 L1895.5,867.8 L1897.0,867.3 L1897.1,867.3 L1894.2,858.5 L1894.0,858.6 L1892.5,859.1 L1891.0,859.6 L1889.5,860.1 L1888.0,860.6 L1886.5,861.1 L1885.0,861.6 L1883.5,862.1 L1882.0,862.7 L1880.5,863.2 L1879.0,863.7 L1877.5,864.2 L1876.0,864.7 L1874.5,865.2 L1873.0,865.8 L1871.5,866.3 L1870.0,866.8 L1868.5,867.3 L1867.0,867.9 L1865.5,868.4 L1864.0,868.9 L1862.5,869.5 L1861.0,870.0 L1859.5,870.5 L1858.0,871.0 L1856.5,871.6 L1855.0,872.1 L1853.5,872.6 L1852.0,873.2 L1850.5,873.7 L1850.2,873.8Z M1905.1,864.6 L1905.9,864.3 L1907.4,863.8 L1908.9,863.4 L1910.4,862.9 L1911.9,862.4 L1913.4,861.9 L1914.9,861.4 L1916.4,861.0 L1917.9,860.5 L1919.4,860.0 L1920.9,859.6 L1922.4,859.1 L1923.9,858.6 L1925.4,858.2 L1926.8,857.7 L1928.3,857.2 L1929.8,856.8 L1931.3,856.3 L1932.8,855.9 L1934.3,855.4 L1935.8,855.0 L1937.3,854.6 L1938.8,854.1 L1940.3,853.7 L1941.8,853.3 L1943.3,852.8 L1944.8,852.4 L1946.3,852.0 L1947.7,851.6 L1949.2,851.1 L1949.4,851.1 L1946.9,842.2 L1946.8,842.3 L1945.3,842.7 L1943.7,843.1 L1942.2,843.5 L1940.7,844.0 L1939.2,844.4 L1937.7,844.9 L1936.2,845.3 L1934.7,845.7 L1933.2,846.2 L1931.7,846.6 L1930.2,847.1 L1928.7,847.5 L1927.2,848.0 L1925.7,848.4 L1924.2,848.9 L1922.6,849.4 L1921.1,849.8 L1919.6,850.3 L1918.1,850.8 L1916.6,851.2 L1915.1,851.7 L1913.6,852.2 L1912.1,852.7 L1910.6,853.2 L1909.1,853.6 L1907.6,854.1 L1906.1,854.6 L1904.6,855.1 L1903.1,855.6 L1902.3,855.9Z M1957.6,848.8 L1958.2,848.7 L1959.7,848.3 L1961.2,847.9 L1962.7,847.5 L1964.2,847.1 L1965.7,846.7 L1967.1,846.3 L1968.6,845.9 L1970.1,845.6 L1971.6,845.2 L1973.1,844.8 L1974.6,844.4 L1976.1,844.1 L1977.6,843.7 L1979.1,843.3 L1980.6,843.0 L1982.1,842.6 L1983.6,842.3 L1985.1,841.9 L1986.6,841.6 L1988.0,841.2 L1989.5,840.9 L1991.0,840.5 L1992.5,840.2 L1994.0,839.8 L1995.5,839.5 L1997.0,839.2 L1998.5,838.8 L2000.0,838.5 L2001.5,838.2 L2002.5,837.9 L2000.6,828.9 L1999.5,829.2 L1998.0,829.5 L1996.5,829.8 L1995.0,830.2 L1993.5,830.5 L1992.0,830.9 L1990.5,831.2 L1989.0,831.5 L1987.5,831.9 L1986.0,832.2 L1984.4,832.6 L1982.9,832.9 L1981.4,833.3 L1979.9,833.7 L1978.4,834.0 L1976.9,834.4 L1975.4,834.8 L1973.9,835.1 L1972.4,835.5 L1970.9,835.9 L1969.4,836.3 L1967.9,836.6 L1966.4,837.0 L1964.9,837.4 L1963.3,837.8 L1961.8,838.2 L1960.3,838.6 L1958.8,839.0 L1957.3,839.4 L1955.8,839.8 L1955.2,840.0Z M2010.8,836.2 L2011.9,835.9 L2013.4,835.6 L2014.9,835.3 L2016.4,835.0 L2017.9,834.7 L2019.4,834.4 L2020.9,834.1 L2022.4,833.8 L2023.9,833.5 L2025.4,833.3 L2026.9,833.0 L2028.4,832.7 L2029.9,832.4 L2031.3,832.1 L2032.8,831.8 L2034.3,831.6 L2035.8,831.3 L2037.3,831.0 L2038.8,830.7 L2040.3,830.5 L2041.8,830.2 L2043.3,829.9 L2044.8,829.7 L2046.3,829.4 L2047.8,829.2 L2049.3,828.9 L2050.8,828.6 L2052.3,828.4 L2053.8,828.1 L2055.3,827.9 L2056.3,827.7 L2054.8,818.6 L2053.7,818.8 L2052.2,819.1 L2050.7,819.3 L2049.2,819.6 L2047.7,819.8 L2046.2,820.1 L2044.7,820.4 L2043.2,820.6 L2041.7,820.9 L2040.2,821.1 L2038.7,821.4 L2037.2,821.7 L2035.7,822.0 L2034.2,822.2 L2032.7,822.5 L2031.2,822.8 L2029.7,823.1 L2028.1,823.4 L2026.6,823.6 L2025.1,823.9 L2023.6,824.2 L2022.1,824.5 L2020.6,824.8 L2019.1,825.1 L2017.6,825.4 L2016.1,825.7 L2014.6,826.0 L2013.1,826.3 L2011.6,826.6 L2010.1,826.9 L2008.9,827.2Z M2064.7,826.4 L2065.7,826.2 L2067.2,826.0 L2068.7,825.8 L2070.2,825.5 L2071.7,825.3 L2073.2,825.1 L2074.7,824.8 L2076.2,824.6 L2077.7,824.4 L2079.2,824.2 L2080.7,824.0 L2082.2,823.8 L2083.6,823.5 L2085.1,823.3 L2086.6,823.1 L2088.1,822.9 L2089.6,822.7 L2091.1,822.5 L2092.6,822.3 L2094.1,822.1 L2095.6,821.9 L2097.1,821.7 L2098.6,821.5 L2100.1,821.3 L2101.6,821.1 L2103.1,820.9 L2104.6,820.8 L2106.1,820.6 L2107.6,820.4 L2109.1,820.2 L2110.6,820.0 L2110.6,820.0 L2109.5,810.9 L2109.4,810.9 L2107.9,811.1 L2106.4,811.2 L2104.9,811.4 L2103.4,811.6 L2101.9,811.8 L2100.4,812.0 L2098.9,812.2 L2097.4,812.4 L2095.9,812.6 L2094.4,812.8 L2092.9,813.0 L2091.4,813.2 L2089.9,813.4 L2088.4,813.6 L2086.9,813.8 L2085.4,814.0 L2083.9,814.2 L2082.4,814.4 L2080.8,814.7 L2079.3,814.9 L2077.8,815.1 L2076.3,815.3 L2074.8,815.5 L2073.3,815.7 L2071.8,816.0 L2070.3,816.2 L2068.8,816.4 L2067.3,816.7 L2065.8,816.9 L2064.3,817.1 L2063.3,817.3Z M2119.0,819.0 L2119.5,818.9 L2121.0,818.8 L2122.5,818.6 L2124.0,818.4 L2125.5,818.3 L2127.0,818.1 L2128.5,817.9 L2130.0,817.8 L2131.5,817.6 L2133.0,817.5 L2134.5,817.3 L2136.0,817.1 L2137.5,817.0 L2139.0,816.8 L2140.5,816.7 L2142.0,816.5 L2143.5,816.4 L2145.0,816.2 L2146.5,816.1 L2147.9,815.9 L2149.4,815.8 L2150.9,815.6 L2152.4,815.5 L2153.9,815.3 L2155.4,815.2 L2156.9,815.1 L2158.4,814.9 L2159.9,814.8 L2161.4,814.7 L2162.9,814.5 L2164.4,814.4 L2165.1,814.3 L2164.3,805.2 L2163.6,805.2 L2162.1,805.4 L2160.6,805.5 L2159.1,805.6 L2157.6,805.8 L2156.1,805.9 L2154.6,806.0 L2153.1,806.2 L2151.6,806.3 L2150.1,806.5 L2148.6,806.6 L2147.1,806.8 L2145.5,806.9 L2144.0,807.1 L2142.5,807.2 L2141.0,807.4 L2139.5,807.5 L2138.0,807.7 L2136.5,807.8 L2135.0,808.0 L2133.5,808.1 L2132.0,808.3 L2130.5,808.5 L2129.0,808.6 L2127.5,808.8 L2126.0,809.0 L2124.5,809.1 L2123.0,809.3 L2121.5,809.5 L2120.0,809.6 L2118.5,809.8 L2117.9,809.9Z M2173.6,813.6 L2174.9,813.5 L2176.4,813.4 L2177.9,813.3 L2179.4,813.2 L2180.9,813.0 L2182.4,812.9 L2183.8,812.8 L2185.3,812.7 L2186.8,812.6 L2188.3,812.5 L2189.8,812.4 L2191.3,812.3 L2192.8,812.2 L2194.3,812.0 L2195.8,811.9 L2197.3,811.8 L2198.8,811.7 L2200.3,811.6 L2201.8,811.5 L2203.3,811.4 L2204.8,811.3 L2206.3,811.3 L2207.8,811.2 L2209.3,811.1 L2210.8,811.0 L2212.3,810.9 L2213.8,810.8 L2215.3,810.7 L2216.8,810.6 L2218.3,810.5 L2219.8,810.5 L2219.9,810.4 L2219.3,801.3 L2219.2,801.3 L2217.7,801.4 L2216.2,801.4 L2214.7,801.5 L2213.2,801.6 L2211.7,801.7 L2210.2,801.8 L2208.7,801.9 L2207.2,802.0 L2205.7,802.1 L2204.2,802.2 L2202.7,802.3 L2201.2,802.4 L2199.7,802.5 L2198.2,802.6 L2196.7,802.7 L2195.2,802.8 L2193.7,802.9 L2192.2,803.0 L2190.7,803.1 L2189.2,803.2 L2187.7,803.3 L2186.2,803.4 L2184.7,803.5 L2183.2,803.6 L2181.6,803.8 L2180.1,803.9 L2178.6,804.0 L2177.1,804.1 L2175.6,804.2 L2174.1,804.3 L2172.8,804.5Z M2228.3,810.0 L2228.7,810.0 L2230.2,809.9 L2231.7,809.8 L2233.2,809.8 L2234.7,809.7 L2236.2,809.6 L2237.7,809.5 L2239.2,809.5 L2240.7,809.4 L2242.2,809.3 L2243.7,809.3 L2245.2,809.2 L2246.7,809.2 L2248.2,809.1 L2249.7,809.0 L2251.2,809.0 L2252.7,808.9 L2254.2,808.9 L2255.7,808.8 L2257.2,808.8 L2258.7,808.7 L2260.2,808.6 L2261.7,808.6 L2263.1,808.5 L2264.6,808.5 L2266.1,808.5 L2267.6,808.4 L2269.1,808.4 L2270.6,808.3 L2272.1,808.3 L2273.6,808.2 L2274.7,808.2 L2274.4,799.0 L2273.4,799.0 L2271.9,799.1 L2270.4,799.1 L2268.9,799.2 L2267.4,799.2 L2265.9,799.3 L2264.4,799.3 L2262.9,799.4 L2261.3,799.4 L2259.8,799.5 L2258.3,799.5 L2256.8,799.6 L2255.3,799.6 L2253.8,799.7 L2252.3,799.7 L2250.8,799.8 L2249.3,799.8 L2247.8,799.9 L2246.3,800.0 L2244.8,800.0 L2243.3,800.1 L2241.8,800.2 L2240.3,800.2 L2238.8,800.3 L2237.3,800.4 L2235.8,800.4 L2234.3,800.5 L2232.8,800.6 L2231.3,800.6 L2229.8,800.7 L2228.3,800.8 L2227.9,800.8Z M2283.2,808.0 L2284.1,808.0 L2285.6,807.9 L2287.1,807.9 L2288.6,807.9 L2290.1,807.9 L2291.6,807.8 L2293.1,807.8 L2294.6,807.8 L2296.1,807.7 L2297.6,807.7 L2299.1,807.7 L2300.6,807.7 L2302.1,807.7 L2303.6,807.6 L2305.1,807.6 L2306.6,807.6 L2308.0,807.6 L2309.5,807.6 L2311.0,807.6 L2312.5,807.5 L2314.0,807.5 L2315.5,807.5 L2317.0,807.5 L2318.5,807.5 L2320.0,807.5 L2321.5,807.5 L2323.0,807.5 L2324.5,807.5 L2326.0,807.5 L2327.5,807.5 L2329.0,807.5 L2329.5,807.5 L2329.5,798.3 L2329.0,798.3 L2327.5,798.3 L2326.0,798.3 L2324.5,798.3 L2323.0,798.3 L2321.5,798.3 L2320.0,798.3 L2318.5,798.3 L2317.0,798.3 L2315.5,798.3 L2314.0,798.3 L2312.5,798.3 L2311.0,798.4 L2309.5,798.4 L2308.0,798.4 L2306.4,798.4 L2304.9,798.4 L2303.4,798.4 L2301.9,798.5 L2300.4,798.5 L2298.9,798.5 L2297.4,798.5 L2295.9,798.5 L2294.4,798.6 L2292.9,798.6 L2291.4,798.6 L2289.9,798.7 L2288.4,798.7 L2286.9,798.7 L2285.4,798.7 L2283.9,798.8 L2282.9,798.8Z M2338.0,807.5 L2339.5,807.5 L2341.0,807.5 L2342.5,807.5 L2344.0,807.5 L2345.5,807.5 L2347.0,807.5 L2348.5,807.5 L2350.0,807.5 L2351.5,807.5 L2353.0,807.6 L2354.5,807.6 L2356.0,807.6 L2357.2,807.6 L2357.2,798.4 L2356.0,798.4 L2354.5,798.4 L2353.0,798.4 L2351.5,798.3 L2350.0,798.3 L2348.5,798.3 L2347.0,798.3 L2345.5,798.3 L2344.0,798.3 L2342.5,798.3 L2341.0,798.3 L2339.5,798.3 L2338.1,798.3Z M380.9,812.6 L382.4,812.7 L383.9,812.9 L385.4,813.0 L386.9,813.2 L387.8,804.0 L386.4,803.9 L384.9,803.7 L383.4,803.6 L381.9,803.4Z"/>
<path class="s-s22" clip-path="url(#plot)" fill="#228b22" d="M385.8,818.2 L386.8,818.3 L388.3,818.5 L389.8,818.7 L391.3,818.9 L392.8,819.1 L394.3,819.2 L395.8,819.4 L397.3,819.6 L398.8,819.8 L400.3,820.0 L401.8,820.2 L403.3,820.4 L404.8,820.6 L406.3,820.8 L407.8,820.9 L409.3,821.1 L410.8,821.3 L412.3,821.5 L413.8,821.7 L415.3,821.9 L416.8,822.1 L418.3,822.3 L419.8,822.5 L421.3,822.7 L422.8,822.9 L424.3,823.1 L425.8,823.3 L427.3,823.5 L428.8,823.7 L430.3,823.9 L431.8,824.1 L431.9,824.1 L433.1,815.0 L433.0,814.9 L431.5,814.7 L430.0,814.5 L428.5,814.3 L427.0,814.1 L425.5,814.0 L424.0,813.8 L422.5,813.6 L421.0,813.4 L419.5,813.2 L418.0,813.0 L416.5,812.8 L415.0,812.6 L413.5,812.4 L412.0,812.2 L410.5,812.0 L409.0,811.8 L407.5,811.6 L406.0,811.4 L404.5,811.2 L403.0,811.1 L401.5,810.9 L400.0,810.7 L398.5,810.5 L397.0,810.3 L395.5,810.1 L394.0,809.9 L392.5,809.7 L391.0,809.6 L389.5,809.4 L388.0,809.2 L386.9,809.0Z M440.3,825.2 L440.8,825.3 L442.3,825.5 L443.8,825.7 L445.3,825.9 L446.8,826.1 L448.3,826.3 L449.8,826.5 L451.3,826.7 L452.8,826.9 L454.3,827.1 L455.8,827.3 L457.3,827.5 L458.8,827.7 L460.3,827.9 L461.8,828.1 L463.3,828.3 L464.8,828.5 L466.3,828.8 L467.8,829.0 L469.3,829.2 L470.8,829.4 L472.3,829.6 L473.7,829.8 L475.2,830.0 L476.7,830.2 L478.2,830.5 L479.7,830.7 L481.2,830.9 L482.7,831.1 L484.2,831.3 L485.7,831.6 L486.3,831.6 L487.6,822.5 L487.1,822.4 L485.6,822.2 L484.1,822.0 L482.6,821.8 L481.1,821.6 L479.6,821.4 L478.1,821.1 L476.6,820.9 L475.1,820.7 L473.5,820.5 L472.0,820.3 L470.5,820.1 L469.0,819.9 L467.5,819.6 L466.0,819.4 L464.5,819.2 L463.0,819.0 L461.5,818.8 L460.0,818.6 L458.5,818.4 L457.0,818.2 L455.5,818.0 L454.0,817.8 L452.5,817.6 L451.0,817.4 L449.5,817.2 L448.0,817.0 L446.5,816.7 L445.0,816.5 L443.5,816.3 L442.0,816.1 L441.5,816.1Z M494.7,832.9 L494.7,832.9 L496.2,833.1 L497.7,833.3 L499.2,833.6 L500.7,833.8 L502.2,834.0 L503.7,834.2 L505.2,834.5 L506.7,834.7 L508.2,834.9 L509.7,835.2 L511.2,835.4 L512.7,835.6 L514.2,835.9 L515.7,836.1 L517.2,836.3 L518.7,836.6 L520.2,836.8 L521.7,837.0 L523.2,837.3 L524.7,837.5 L526.2,837.7 L527.7,838.0 L529.2,838.2 L530.7,838.5 L532.2,838.7 L533.7,839.0 L535.2,839.2 L536.7,839.5 L538.2,839.7 L539.6,839.9 L540.6,840.1 L542.1,831.0 L541.2,830.9 L539.6,830.6 L538.1,830.4 L536.6,830.1 L535.1,829.9 L533.6,829.6 L532.1,829.4 L530.6,829.1 L529.1,828.9 L527.6,828.7 L526.1,828.4 L524.6,828.2 L523.1,827.9 L521.6,827.7 L520.1,827.5 L518.6,827.2 L517.1,827.0 L515.6,826.8 L514.1,826.5 L512.6,826.3 L511.1,826.1 L509.6,825.8 L508.1,825.6 L506.6,825.4 L505.1,825.1 L503.6,824.9 L502.1,824.7 L500.6,824.5 L499.1,824.2 L497.6,824.0 L496.1,823.8 L496.0,823.8Z M548.9,841.5 L550.1,841.7 L551.6,842.0 L553.1,842.2 L554.6,842.5 L556.1,842.7 L557.6,843.0 L559.1,843.3 L560.6,843.5 L562.1,843.8 L563.6,844.0 L565.1,844.3 L566.6,844.6 L568.1,844.8 L569.6,845.1 L571.1,845.4 L572.6,845.6 L574.1,845.9 L575.6,846.2 L577.1,846.5 L578.6,846.7 L580.1,847.0 L581.6,847.3 L583.1,847.6 L584.6,847.8 L586.1,848.1 L587.6,848.4 L589.0,848.7 L590.5,849.0 L592.0,849.2 L593.5,849.5 L594.6,849.7 L596.3,840.7 L595.3,840.5 L593.8,840.2 L592.3,839.9 L590.8,839.6 L589.2,839.3 L587.7,839.1 L586.2,838.8 L584.7,838.5 L583.2,838.2 L581.7,838.0 L580.2,837.7 L578.7,837.4 L577.2,837.1 L575.7,836.9 L574.2,836.6 L572.7,836.3 L571.2,836.0 L569.7,835.8 L568.2,835.5 L566.7,835.2 L565.2,835.0 L563.7,834.7 L562.2,834.5 L560.7,834.2 L559.2,833.9 L557.7,833.7 L556.2,833.4 L554.7,833.1 L553.2,832.9 L551.7,832.6 L550.5,832.4Z M602.9,851.3 L604.0,851.5 L605.5,851.8 L607.0,852.1 L608.5,852.4 L610.0,852.7 L611.5,853.0 L613.0,853.3 L614.5,853.6 L616.0,853.9 L617.5,854.2 L619.0,854.5 L620.5,854.8 L622.0,855.1 L623.5,855.4 L625.0,855.8 L626.5,856.1 L628.0,856.4 L629.5,856.7 L631.0,857.0 L632.4,857.3 L633.9,857.6 L635.4,858.0 L636.9,858.3 L638.4,858.6 L639.9,858.9 L641.4,859.2 L642.9,859.6 L644.4,859.9 L645.9,860.2 L647.4,860.5 L648.3,860.7 L650.3,851.8 L649.4,851.6 L647.9,851.2 L646.4,850.9 L644.9,850.6 L643.4,850.2 L641.9,849.9 L640.4,849.6 L638.9,849.3 L637.4,849.0 L635.9,848.6 L634.4,848.3 L632.8,848.0 L631.3,847.7 L629.8,847.4 L628.3,847.1 L626.8,846.7 L625.3,846.4 L623.8,846.1 L622.3,845.8 L620.8,845.5 L619.3,845.2 L617.8,844.9 L616.3,844.6 L614.8,844.3 L613.3,844.0 L611.8,843.7 L610.3,843.4 L608.8,843.1 L607.3,842.8 L605.8,842.5 L604.7,842.3Z M656.6,862.6 L657.9,862.9 L659.4,863.2 L660.9,863.6 L662.4,863.9 L663.9,864.2 L665.4,864.6 L666.9,864.9 L668.4,865.3 L669.9,865.6 L671.3,866.0 L672.8,866.3 L674.3,866.7 L675.8,867.0 L677.3,867.4 L678.8,867.8 L680.3,868.1 L681.8,868.5 L683.3,868.8 L684.8,869.2 L686.3,869.6 L687.8,869.9 L689.3,870.3 L690.8,870.7 L692.3,871.0 L693.8,871.4 L695.3,871.8 L696.8,872.2 L698.3,872.5 L699.8,872.9 L701.3,873.3 L701.7,873.4 L704.0,864.5 L703.5,864.4 L702.0,864.0 L700.5,863.6 L699.0,863.2 L697.5,862.9 L696.0,862.5 L694.5,862.1 L693.0,861.7 L691.5,861.4 L690.0,861.0 L688.5,860.6 L687.0,860.3 L685.5,859.9 L684.0,859.5 L682.5,859.2 L681.0,858.8 L679.5,858.5 L678.0,858.1 L676.5,857.7 L675.0,857.4 L673.5,857.0 L671.9,856.7 L670.4,856.3 L668.9,856.0 L667.4,855.6 L665.9,855.3 L664.4,854.9 L662.9,854.6 L661.4,854.2 L659.9,853.9 L658.6,853.6Z M709.9,875.5 L710.2,875.6 L711.7,876.0 L713.2,876.4 L714.7,876.8 L716.2,877.2 L717.7,877.6 L719.2,878.0 L720.7,878.4 L722.2,878.8 L723.7,879.2 L725.2,879.6 L726.7,880.0 L728.2,880.4 L729.7,880.8 L731.2,881.2 L732.7,881.7 L734.2,882.1 L735.7,882.5 L737.2,882.9 L738.7,883.3 L740.1,883.7 L741.6,884.2 L743.1,884.6 L744.6,885.0 L746.1,885.5 L747.6,885.9 L749.1,886.3 L750.6,886.7 L752.1,887.2 L753.6,887.6 L754.6,887.9 L757.2,879.1 L756.2,878.8 L754.7,878.4 L753.2,877.9 L751.7,877.5 L750.2,877.0 L748.7,876.6 L747.2,876.2 L745.7,875.7 L744.2,875.3 L742.7,874.9 L741.1,874.5 L739.6,874.0 L738.1,873.6 L736.6,873.2 L735.1,872.8 L733.6,872.4 L732.1,872.0 L730.6,871.5 L729.1,871.1 L727.6,870.7 L726.1,870.3 L724.6,869.9 L723.1,869.5 L721.6,869.1 L720.1,868.7 L718.6,868.3 L717.1,867.9 L715.6,867.5 L714.1,867.1 L712.6,866.7 L712.2,866.6Z M762.7,890.3 L764.1,890.7 L765.6,891.2 L767.1,891.6 L768.6,892.1 L770.1,892.6 L771.5,893.0 L773.0,893.5 L774.5,893.9 L776.0,894.4 L777.5,894.9 L779.0,895.3 L780.5,895.8 L782.0,896.3 L783.5,896.8 L785.0,897.2 L786.5,897.7 L788.0,898.2 L789.5,898.7 L791.0,899.2 L792.5,899.6 L794.0,900.1 L795.5,900.6 L797.0,901.1 L798.5,901.6 L800.0,902.1 L801.4,902.6 L802.9,903.1 L804.4,903.6 L805.9,904.1 L806.9,904.4 L809.8,895.7 L808.9,895.4 L807.4,894.9 L805.9,894.4 L804.4,893.9 L802.8,893.4 L801.3,892.9 L799.8,892.4 L798.3,891.9 L796.8,891.4 L795.3,890.9 L793.8,890.4 L792.3,889.9 L790.8,889.4 L789.3,888.9 L787.8,888.5 L786.3,888.0 L784.8,887.5 L783.3,887.0 L781.8,886.6 L780.3,886.1 L778.8,885.6 L777.3,885.2 L775.8,884.7 L774.3,884.2 L772.7,883.8 L771.2,883.3 L769.7,882.8 L768.2,882.4 L766.7,881.9 L765.4,881.5Z M814.9,907.1 L814.9,907.2 L816.4,907.7 L817.9,908.2 L819.4,908.7 L820.9,909.2 L822.4,909.8 L823.9,910.3 L825.4,910.8 L826.9,911.3 L828.4,911.9 L829.8,912.4 L831.3,912.9 L832.8,913.5 L834.3,914.0 L835.8,914.6 L837.3,915.1 L838.8,915.7 L840.3,916.2 L841.8,916.8 L843.3,917.3 L844.8,917.9 L846.3,918.4 L847.8,919.0 L849.3,919.6 L850.8,920.1 L852.3,920.7 L853.8,921.2 L855.3,921.8 L856.8,922.4 L858.2,923.0 L858.4,923.0 L861.7,914.4 L861.6,914.4 L860.0,913.8 L858.5,913.2 L857.0,912.7 L855.5,912.1 L854.0,911.5 L852.5,910.9 L851.0,910.4 L849.5,909.8 L848.0,909.2 L846.5,908.7 L845.0,908.1 L843.5,907.6 L842.0,907.0 L840.5,906.5 L839.0,905.9 L837.5,905.4 L836.0,904.8 L834.5,904.3 L833.0,903.7 L831.4,903.2 L829.9,902.7 L828.4,902.1 L826.9,901.6 L825.4,901.1 L823.9,900.5 L822.4,900.0 L820.9,899.5 L819.4,899.0 L817.9,898.5 L817.9,898.4Z M866.3,926.1 L867.2,926.5 L868.7,927.1 L870.2,927.6 L871.7,928.2 L873.2,928.8 L874.7,929.4 L876.2,930.0 L877.7,930.6 L879.2,931.2 L880.7,931.9 L882.2,932.5 L883.7,933.1 L885.1,933.7 L886.6,934.3 L888.1,934.9 L889.6,935.6 L891.1,936.2 L892.6,936.8 L894.1,937.4 L895.6,938.1 L897.1,938.7 L898.6,939.3 L900.1,940.0 L901.6,940.6 L903.1,941.2 L904.6,941.9 L906.1,942.5 L907.6,943.2 L909.1,943.8 L909.1,943.8 L912.8,935.4 L912.7,935.4 L911.2,934.8 L909.7,934.1 L908.2,933.4 L906.7,932.8 L905.2,932.2 L903.7,931.5 L902.2,930.9 L900.7,930.2 L899.2,929.6 L897.7,929.0 L896.2,928.3 L894.7,927.7 L893.2,927.1 L891.7,926.4 L890.2,925.8 L888.7,925.2 L887.1,924.6 L885.6,923.9 L884.1,923.3 L882.6,922.7 L881.1,922.1 L879.6,921.5 L878.1,920.9 L876.6,920.3 L875.1,919.7 L873.6,919.1 L872.1,918.5 L870.6,917.9 L869.7,917.5Z M916.8,947.3 L918.0,947.8 L919.5,948.5 L921.0,949.1 L922.5,949.8 L924.0,950.5 L925.5,951.2 L927.0,951.9 L928.5,952.5 L930.0,953.2 L931.5,953.9 L933.0,954.6 L934.5,955.3 L936.0,956.0 L937.5,956.7 L938.9,957.4 L940.4,958.1 L941.9,958.8 L943.4,959.5 L944.9,960.2 L946.4,960.9 L947.9,961.6 L949.4,962.4 L950.9,963.1 L952.4,963.8 L953.9,964.5 L955.4,965.3 L956.9,966.0 L958.4,966.7 L958.8,966.9 L962.8,958.7 L962.4,958.5 L960.9,957.7 L959.4,957.0 L957.9,956.3 L956.4,955.5 L954.9,954.8 L953.4,954.1 L951.9,953.3 L950.4,952.6 L948.9,951.9 L947.4,951.2 L945.9,950.5 L944.4,949.8 L942.9,949.1 L941.3,948.4 L939.8,947.7 L938.3,946.9 L936.8,946.3 L935.3,945.6 L933.8,944.9 L932.3,944.2 L930.8,943.5 L929.3,942.8 L927.8,942.1 L926.3,941.4 L924.8,940.8 L923.3,940.1 L921.8,939.4 L920.6,938.9Z M966.4,970.7 L967.3,971.2 L968.8,971.9 L970.3,972.7 L971.8,973.4 L973.3,974.2 L974.8,975.0 L976.3,975.7 L977.8,976.5 L979.3,977.3 L980.8,978.0 L982.3,978.8 L983.8,979.6 L985.3,980.4 L986.8,981.1 L988.3,981.9 L989.8,982.7 L991.2,983.5 L992.7,984.3 L994.2,985.1 L995.7,985.9 L997.2,986.7 L998.7,987.5 L1000.2,988.3 L1001.7,989.1 L1003.2,989.9 L1004.7,990.8 L1006.2,991.6 L1007.4,992.2 L1011.8,984.2 L1010.6,983.5 L1009.1,982.7 L1007.6,981.9 L1006.1,981.0 L1004.6,980.2 L1003.1,979.4 L1001.6,978.6 L1000.1,977.8 L998.6,977.0 L997.1,976.2 L995.6,975.4 L994.0,974.6 L992.5,973.8 L991.0,973.0 L989.5,972.2 L988.0,971.4 L986.5,970.6 L985.0,969.9 L983.5,969.1 L982.0,968.3 L980.5,967.5 L979.0,966.8 L977.5,966.0 L976.0,965.2 L974.5,964.5 L973.0,963.7 L971.5,963.0 L970.5,962.5Z M1014.8,996.3 L1015.2,996.5 L1016.6,997.4 L1018.1,998.2 L1019.6,999.1 L1021.1,999.9 L1022.6,1000.8 L1024.1,1001.6 L1025.6,1002.5 L1027.1,1003.3 L1028.6,1004.2 L1030.1,1005.0 L1031.6,1005.9 L1033.1,1006.8 L1034.6,1007.7 L1036.1,1008.5 L1037.6,1009.4 L1039.1,1010.0 L1040.7,1010.3 L1042.2,1010.6 L1043.8,1010.8 L1045.3,1011.1 L1046.8,1011.3 L1048.3,1011.5 L1049.8,1011.8 L1051.3,1012.0 L1052.9,1012.2 L1054.4,1012.4 L1055.9,1012.6 L1057.4,1012.8 L1058.9,1013.0 L1059.2,1013.0 L1060.3,1003.9 L1060.1,1003.9 L1058.6,1003.7 L1057.1,1003.5 L1055.6,1003.3 L1054.1,1003.1 L1052.7,1002.9 L1051.2,1002.7 L1049.7,1002.4 L1048.2,1002.2 L1046.7,1002.0 L1045.2,1001.7 L1043.8,1001.5 L1042.3,1001.2 L1040.9,1001.0 L1042.2,1001.5 L1040.7,1000.6 L1039.2,999.7 L1037.7,998.8 L1036.2,998.0 L1034.7,997.1 L1033.2,996.2 L1031.7,995.3 L1030.2,994.5 L1028.7,993.6 L1027.2,992.8 L1025.7,991.9 L1024.2,991.1 L1022.7,990.2 L1021.2,989.4 L1019.6,988.5 L1019.3,988.3Z M1067.7,1014.0 L1068.0,1014.1 L1069.5,1014.2 L1071.0,1014.4 L1072.5,1014.5 L1074.1,1014.7 L1075.6,1014.8 L1077.1,1015.0 L1078.6,1015.1 L1080.1,1015.2 L1081.6,1015.4 L1083.1,1015.5 L1084.6,1015.6 L1086.1,1015.7 L1087.7,1015.8 L1089.2,1016.0 L1090.7,1016.1 L1092.2,1016.2 L1093.7,1016.3 L1095.2,1016.4 L1096.7,1016.5 L1098.2,1016.5 L1099.7,1016.6 L1101.2,1016.7 L1102.7,1016.8 L1104.3,1016.9 L1105.8,1017.0 L1107.3,1017.1 L1108.8,1017.1 L1110.3,1017.2 L1111.8,1017.3 L1113.3,1017.3 L1114.4,1017.4 L1114.8,1008.2 L1113.7,1008.2 L1112.2,1008.1 L1110.7,1008.0 L1109.2,1007.9 L1107.7,1007.9 L1106.2,1007.8 L1104.7,1007.7 L1103.3,1007.6 L1101.8,1007.5 L1100.3,1007.5 L1098.8,1007.4 L1097.3,1007.3 L1095.8,1007.2 L1094.3,1007.1 L1092.8,1007.0 L1091.3,1006.9 L1089.8,1006.8 L1088.3,1006.7 L1086.9,1006.6 L1085.4,1006.4 L1083.9,1006.3 L1082.4,1006.2 L1080.9,1006.1 L1079.4,1005.9 L1077.9,1005.8 L1076.4,1005.7 L1074.9,1005.5 L1073.5,1005.4 L1072.0,1005.2 L1070.5,1005.1 L1069.0,1004.9 L1068.7,1004.9Z M1122.9,1017.8 L1123.8,1017.8 L1125.3,1017.9 L1126.8,1017.9 L1128.3,1018.0 L1129.8,1018.0 L1131.3,1018.1 L1132.8,1018.2 L1134.3,1018.2 L1135.8,1018.3 L1137.3,1018.3 L1138.8,1018.4 L1140.3,1018.4 L1141.8,1018.5 L1143.3,1018.6 L1144.8,1018.6 L1146.3,1018.7 L1147.8,1018.7 L1149.3,1018.8 L1150.8,1018.9 L1152.3,1018.9 L1153.8,1019.0 L1155.3,1019.0 L1156.8,1019.1 L1158.3,1019.2 L1159.8,1019.2 L1161.3,1019.3 L1162.8,1019.4 L1164.3,1019.4 L1165.8,1019.5 L1167.3,1019.6 L1168.8,1019.7 L1169.3,1019.7 L1169.8,1010.5 L1169.2,1010.5 L1167.7,1010.4 L1166.2,1010.3 L1164.7,1010.2 L1163.2,1010.2 L1161.7,1010.1 L1160.2,1010.0 L1158.7,1010.0 L1157.2,1009.9 L1155.7,1009.8 L1154.2,1009.8 L1152.7,1009.7 L1151.2,1009.7 L1149.7,1009.6 L1148.2,1009.5 L1146.7,1009.5 L1145.2,1009.4 L1143.7,1009.4 L1142.2,1009.3 L1140.7,1009.3 L1139.2,1009.2 L1137.7,1009.1 L1136.2,1009.1 L1134.7,1009.0 L1133.2,1009.0 L1131.7,1008.9 L1130.2,1008.9 L1128.7,1008.8 L1127.2,1008.7 L1125.7,1008.7 L1124.2,1008.6 L1123.3,1008.6Z M1177.7,1020.2 L1179.2,1020.2 L1180.7,1020.3 L1182.2,1020.4 L1183.7,1020.5 L1185.2,1020.6 L1186.7,1020.7 L1188.2,1020.8 L1189.7,1021.0 L1191.1,1021.1 L1192.6,1021.2 L1194.1,1021.3 L1195.6,1021.4 L1197.1,1021.6 L1198.6,1021.7 L1200.1,1021.8 L1201.6,1022.0 L1203.1,1022.1 L1204.5,1022.3 L1206.0,1022.4 L1207.5,1022.6 L1209.0,1022.7 L1210.5,1022.9 L1212.0,1023.1 L1213.5,1023.2 L1214.9,1023.4 L1216.4,1023.6 L1217.9,1023.8 L1219.4,1024.0 L1220.9,1024.2 L1222.4,1024.4 L1223.7,1024.6 L1224.9,1015.5 L1223.6,1015.3 L1222.1,1015.1 L1220.6,1014.9 L1219.1,1014.7 L1217.6,1014.5 L1216.1,1014.3 L1214.5,1014.1 L1213.0,1013.9 L1211.5,1013.8 L1210.0,1013.6 L1208.5,1013.4 L1207.0,1013.3 L1205.5,1013.1 L1203.9,1013.0 L1202.4,1012.8 L1200.9,1012.7 L1199.4,1012.5 L1197.9,1012.4 L1196.4,1012.3 L1194.9,1012.1 L1193.4,1012.0 L1191.9,1011.9 L1190.3,1011.8 L1188.8,1011.7 L1187.3,1011.6 L1185.8,1011.5 L1184.3,1011.3 L1182.8,1011.2 L1181.3,1011.2 L1179.8,1011.1 L1178.3,1011.0Z M1232.0,1025.8 L1232.7,1026.0 L1234.2,1026.2 L1235.7,1026.5 L1237.2,1026.7 L1238.7,1027.0 L1240.2,1027.3 L1241.7,1027.6 L1243.1,1027.8 L1244.6,1028.1 L1246.1,1028.4 L1247.6,1028.7 L1249.1,1029.0 L1250.6,1029.3 L1252.0,1029.6 L1253.5,1030.0 L1255.0,1030.3 L1256.5,1030.6 L1258.0,1030.9 L1259.5,1031.3 L1260.9,1031.6 L1262.4,1032.0 L1263.9,1032.3 L1265.4,1032.7 L1266.9,1033.1 L1268.4,1033.4 L1269.9,1033.8 L1271.3,1034.2 L1272.8,1034.6 L1274.3,1035.0 L1275.8,1035.4 L1276.9,1035.7 L1279.3,1026.8 L1278.2,1026.5 L1276.7,1026.1 L1275.2,1025.7 L1273.7,1025.3 L1272.1,1024.9 L1270.6,1024.5 L1269.1,1024.1 L1267.6,1023.8 L1266.1,1023.4 L1264.6,1023.0 L1263.1,1022.7 L1261.5,1022.3 L1260.0,1022.0 L1258.5,1021.6 L1257.0,1021.3 L1255.5,1021.0 L1254.0,1020.6 L1252.4,1020.3 L1250.9,1020.0 L1249.4,1019.7 L1247.9,1019.4 L1246.4,1019.1 L1244.9,1018.8 L1243.3,1018.5 L1241.8,1018.2 L1240.3,1018.0 L1238.8,1017.7 L1237.3,1017.4 L1235.8,1017.2 L1234.3,1016.9 L1233.4,1016.8Z M1285.0,1038.0 L1286.2,1038.3 L1287.7,1038.8 L1289.2,1039.2 L1290.7,1039.6 L1292.1,1040.1 L1293.6,1040.6 L1295.1,1041.0 L1296.6,1041.5 L1298.1,1042.0 L1299.6,1042.5 L1301.1,1042.9 L1302.6,1043.4 L1304.0,1043.9 L1305.5,1044.4 L1307.0,1044.9 L1308.5,1045.4 L1310.0,1046.0 L1311.5,1046.5 L1313.0,1047.0 L1314.4,1047.5 L1315.9,1048.1 L1317.4,1048.6 L1318.9,1049.2 L1320.4,1049.7 L1321.9,1050.3 L1323.4,1050.8 L1324.9,1051.4 L1326.3,1052.0 L1327.8,1052.5 L1328.6,1052.8 L1332.0,1044.3 L1331.2,1044.0 L1329.7,1043.4 L1328.1,1042.8 L1326.6,1042.2 L1325.1,1041.7 L1323.6,1041.1 L1322.1,1040.5 L1320.6,1040.0 L1319.1,1039.4 L1317.6,1038.9 L1316.0,1038.3 L1314.5,1037.8 L1313.0,1037.3 L1311.5,1036.8 L1310.0,1036.2 L1308.5,1035.7 L1307.0,1035.2 L1305.4,1034.7 L1303.9,1034.2 L1302.4,1033.7 L1300.9,1033.2 L1299.4,1032.7 L1297.9,1032.3 L1296.4,1031.8 L1294.9,1031.3 L1293.3,1030.8 L1291.8,1030.4 L1290.3,1029.9 L1288.8,1029.5 L1287.6,1029.1Z M1336.4,1056.0 L1336.8,1056.1 L1338.3,1056.7 L1339.7,1057.3 L1341.2,1057.9 L1342.7,1058.6 L1344.2,1059.2 L1345.7,1059.8 L1347.2,1060.5 L1348.7,1061.1 L1350.2,1061.7 L1351.6,1062.4 L1353.1,1063.1 L1354.6,1063.7 L1356.1,1064.4 L1357.6,1065.1 L1359.1,1065.7 L1360.6,1066.4 L1362.1,1067.1 L1363.6,1067.8 L1365.1,1068.5 L1366.5,1069.2 L1368.0,1069.9 L1369.5,1070.6 L1371.0,1071.3 L1372.5,1072.0 L1374.0,1072.7 L1375.5,1073.5 L1377.0,1074.2 L1378.5,1074.9 L1378.5,1075.0 L1382.6,1066.7 L1382.5,1066.7 L1381.0,1065.9 L1379.5,1065.2 L1378.0,1064.5 L1376.5,1063.7 L1375.0,1063.0 L1373.5,1062.3 L1372.0,1061.6 L1370.5,1060.9 L1368.9,1060.1 L1367.4,1059.4 L1365.9,1058.7 L1364.4,1058.0 L1362.9,1057.4 L1361.4,1056.7 L1359.9,1056.0 L1358.4,1055.3 L1356.9,1054.6 L1355.4,1054.0 L1353.8,1053.3 L1352.3,1052.7 L1350.8,1052.0 L1349.3,1051.4 L1347.8,1050.7 L1346.3,1050.1 L1344.8,1049.4 L1343.3,1048.8 L1341.7,1048.2 L1340.2,1047.6 L1339.9,1047.4Z M1386.0,1078.7 L1387.4,1079.4 L1388.9,1080.2 L1390.4,1081.0 L1391.9,1081.8 L1393.4,1082.5 L1394.8,1083.3 L1396.3,1084.1 L1397.8,1084.9 L1399.3,1085.7 L1400.8,1086.5 L1402.3,1087.3 L1403.8,1088.2 L1405.3,1089.0 L1406.8,1089.8 L1408.2,1090.7 L1409.7,1091.5 L1411.2,1092.3 L1412.7,1093.2 L1414.2,1094.1 L1415.7,1094.9 L1417.2,1095.8 L1418.7,1096.7 L1420.1,1097.6 L1421.6,1098.5 L1423.1,1099.4 L1424.6,1100.3 L1426.1,1101.2 L1426.3,1101.3 L1431.1,1093.5 L1430.9,1093.3 L1429.4,1092.4 L1427.9,1091.5 L1426.4,1090.6 L1424.9,1089.7 L1423.3,1088.8 L1421.8,1087.9 L1420.3,1087.0 L1418.8,1086.1 L1417.3,1085.2 L1415.8,1084.4 L1414.3,1083.5 L1412.8,1082.6 L1411.2,1081.8 L1409.7,1080.9 L1408.2,1080.1 L1406.7,1079.3 L1405.2,1078.4 L1403.7,1077.6 L1402.2,1076.8 L1400.7,1076.0 L1399.2,1075.2 L1397.6,1074.4 L1396.1,1073.6 L1394.6,1072.8 L1393.1,1072.0 L1391.6,1071.3 L1390.2,1070.6Z M1433.4,1105.8 L1433.5,1105.8 L1435.0,1106.8 L1436.5,1107.7 L1438.0,1108.7 L1439.5,1109.7 L1441.0,1110.7 L1442.4,1111.6 L1443.9,1112.6 L1445.4,1113.7 L1446.9,1114.7 L1448.4,1115.7 L1449.8,1116.8 L1451.3,1117.8 L1452.8,1118.9 L1454.3,1120.0 L1455.7,1121.1 L1457.2,1122.2 L1458.7,1123.3 L1460.2,1124.4 L1461.7,1125.6 L1463.1,1126.8 L1464.6,1127.9 L1466.1,1129.2 L1467.5,1130.4 L1469.0,1131.6 L1470.4,1132.8 L1476.4,1125.8 L1475.0,1124.6 L1473.5,1123.3 L1471.9,1122.1 L1470.4,1120.8 L1468.9,1119.6 L1467.3,1118.4 L1465.8,1117.2 L1464.3,1116.0 L1462.8,1114.8 L1461.3,1113.7 L1459.7,1112.6 L1458.2,1111.4 L1456.7,1110.3 L1455.2,1109.3 L1453.6,1108.2 L1452.1,1107.1 L1450.6,1106.1 L1449.1,1105.0 L1447.6,1104.0 L1446.0,1103.0 L1444.5,1102.0 L1443.0,1101.0 L1441.5,1100.0 L1440.0,1099.0 L1438.5,1098.1 L1438.4,1098.0Z M1476.6,1138.3 L1477.9,1139.5 L1479.3,1140.9 L1480.8,1142.3 L1482.3,1143.7 L1483.8,1145.2 L1485.2,1146.7 L1486.7,1148.2 L1488.2,1149.7 L1489.6,1151.2 L1491.1,1152.8 L1492.6,1154.4 L1494.1,1156.1 L1495.5,1157.7 L1497.0,1159.4 L1498.5,1161.2 L1500.0,1162.9 L1501.5,1164.7 L1503.0,1166.5 L1504.4,1168.3 L1506.0,1170.2 L1507.5,1172.0 L1507.6,1172.2 L1514.7,1166.3 L1514.5,1166.1 L1513.0,1164.3 L1511.6,1162.5 L1510.0,1160.7 L1508.5,1158.8 L1507.0,1157.0 L1505.5,1155.2 L1504.0,1153.4 L1502.5,1151.7 L1500.9,1150.0 L1499.4,1148.3 L1497.9,1146.6 L1496.4,1145.0 L1494.8,1143.3 L1493.3,1141.8 L1491.8,1140.2 L1490.2,1138.7 L1488.7,1137.2 L1487.2,1135.7 L1485.7,1134.2 L1484.1,1132.8 L1482.9,1131.6Z M1513.2,1178.7 L1513.6,1179.1 L1515.1,1180.8 L1516.6,1182.5 L1518.1,1184.1 L1519.6,1185.7 L1521.1,1187.4 L1522.6,1189.0 L1524.1,1190.6 L1525.6,1192.3 L1527.0,1193.9 L1528.5,1195.6 L1530.0,1197.4 L1531.4,1199.2 L1532.9,1201.0 L1534.3,1202.9 L1535.9,1204.8 L1537.4,1206.8 L1538.9,1208.9 L1540.5,1211.1 L1542.0,1213.5 L1542.3,1213.9 L1549.3,1209.7 L1549.0,1209.2 L1547.5,1206.7 L1546.1,1204.2 L1544.6,1201.9 L1543.1,1199.6 L1541.7,1197.4 L1540.1,1195.4 L1538.6,1193.4 L1537.0,1191.5 L1535.5,1189.7 L1534.0,1187.9 L1532.4,1186.2 L1530.9,1184.5 L1529.4,1182.8 L1527.9,1181.1 L1526.4,1179.5 L1524.9,1177.9 L1523.4,1176.3 L1521.9,1174.6 L1520.4,1173.0 L1520.1,1172.6Z M1546.6,1221.1 L1546.6,1221.0 L1548.1,1223.8 L1549.6,1226.7 L1551.2,1229.6 L1552.7,1232.6 L1554.2,1235.7 L1555.7,1238.9 L1557.2,1242.0 L1558.7,1245.3 L1560.2,1248.5 L1561.7,1251.8 L1563.2,1255.0 L1564.7,1258.3 L1566.2,1261.5 L1566.7,1262.7 L1573.3,1259.6 L1572.8,1258.5 L1571.3,1255.3 L1569.8,1252.0 L1568.3,1248.7 L1566.8,1245.5 L1565.3,1242.2 L1563.8,1239.0 L1562.3,1235.8 L1560.8,1232.6 L1559.3,1229.4 L1557.8,1226.3 L1556.4,1223.3 L1554.9,1220.3 L1553.4,1217.4 L1553.4,1217.3Z M1570.3,1270.4 L1570.7,1271.3 L1572.2,1274.5 L1573.7,1277.8 L1575.3,1281.2 L1576.8,1284.6 L1578.3,1288.1 L1579.8,1291.7 L1581.2,1295.4 L1582.7,1299.3 L1584.2,1303.3 L1585.7,1307.4 L1587.2,1311.8 L1587.6,1313.1 L1594.3,1310.9 L1593.8,1309.5 L1592.3,1305.1 L1590.8,1300.9 L1589.3,1296.8 L1587.8,1292.9 L1586.2,1289.1 L1584.7,1285.4 L1583.2,1281.8 L1581.7,1278.3 L1580.3,1274.9 L1578.8,1271.5 L1577.3,1268.3 L1576.9,1267.3Z M1590.2,1321.1 L1591.6,1325.9 L1593.1,1330.9 L1594.6,1336.1 L1596.1,1341.3 L1597.6,1346.8 L1599.1,1352.3 L1600.6,1357.9 L1602.1,1363.5 L1602.7,1365.7 L1609.5,1363.9 L1608.9,1361.8 L1607.4,1356.1 L1605.9,1350.4 L1604.4,1344.9 L1602.9,1339.5 L1601.4,1334.1 L1599.9,1328.9 L1598.4,1323.8 L1596.9,1319.0Z M1604.8,1373.9 L1605.1,1375.0 L1606.6,1380.9 L1608.1,1386.7 L1609.6,1392.5 L1611.1,1398.4 L1612.6,1404.2 L1614.1,1410.0 L1615.6,1415.7 L1616.5,1419.0 L1623.2,1417.2 L1622.4,1414.0 L1620.9,1408.2 L1619.4,1402.5 L1617.9,1396.6 L1616.4,1390.8 L1614.9,1385.0 L1613.4,1379.1 L1611.9,1373.3 L1611.6,1372.2Z M1618.7,1427.2 L1620.1,1432.4 L1621.7,1437.5 L1623.2,1442.3 L1624.7,1446.6 L1626.2,1450.5 L1627.6,1454.0 L1628.9,1457.2 L1631.0,1459.2 L1634.9,1460.6 L1637.9,1459.8 L1640.5,1458.1 L1642.6,1455.5 L1643.8,1452.0 L1645.3,1447.9 L1645.7,1446.5 L1639.0,1444.4 L1638.7,1445.4 L1637.2,1448.8 L1635.4,1450.4 L1634.5,1451.2 L1634.1,1451.4 L1634.1,1451.4 L1637.0,1452.2 L1636.1,1451.4 L1634.4,1450.1 L1632.8,1447.6 L1631.3,1444.1 L1629.8,1440.0 L1628.3,1435.4 L1626.9,1430.4 L1625.4,1425.3Z M1648.0,1438.1 L1648.4,1436.4 L1649.9,1429.9 L1651.4,1423.5 L1652.9,1417.0 L1654.4,1410.4 L1655.9,1403.7 L1657.4,1396.7 L1658.3,1392.6 L1651.4,1391.2 L1650.6,1395.2 L1649.1,1402.2 L1647.6,1408.9 L1646.1,1415.4 L1644.6,1421.9 L1643.1,1428.3 L1641.6,1434.8 L1641.2,1436.4Z M1660.0,1384.3 L1660.4,1382.0 L1661.9,1374.3 L1663.4,1366.5 L1664.9,1358.7 L1666.4,1351.1 L1667.9,1343.6 L1669.0,1338.7 L1662.1,1337.2 L1661.1,1342.2 L1659.6,1349.7 L1658.1,1357.4 L1656.6,1365.2 L1655.1,1372.9 L1653.6,1380.6 L1653.1,1382.9Z M1670.8,1330.4 L1670.9,1329.7 L1672.4,1323.2 L1673.9,1317.0 L1675.4,1310.9 L1676.9,1305.0 L1678.4,1299.2 L1679.9,1293.4 L1681.4,1287.5 L1681.9,1285.4 L1675.2,1283.6 L1674.6,1285.8 L1673.1,1291.6 L1671.6,1297.4 L1670.1,1303.3 L1668.6,1309.2 L1667.1,1315.3 L1665.6,1321.6 L1664.1,1328.1 L1663.9,1328.9Z M1684.0,1277.1 L1684.4,1275.6 L1685.9,1269.6 L1687.4,1263.6 L1688.9,1257.6 L1690.4,1251.6 L1691.9,1245.8 L1693.4,1240.2 L1694.9,1234.7 L1695.6,1232.2 L1688.8,1230.3 L1688.1,1232.8 L1686.6,1238.4 L1685.1,1244.1 L1683.6,1249.9 L1682.1,1255.9 L1680.6,1261.9 L1679.1,1267.9 L1677.6,1273.9 L1677.2,1275.4Z M1697.9,1224.1 L1699.3,1219.6 L1700.8,1214.9 L1702.3,1210.4 L1703.8,1206.0 L1705.3,1201.8 L1706.8,1197.7 L1708.3,1193.7 L1709.8,1189.7 L1711.3,1185.9 L1712.8,1182.0 L1713.3,1180.5 L1706.8,1178.0 L1706.2,1179.5 L1704.7,1183.3 L1703.2,1187.2 L1701.7,1191.2 L1700.2,1195.3 L1698.7,1199.5 L1697.2,1203.8 L1695.7,1208.2 L1694.2,1212.7 L1692.7,1217.5 L1691.3,1222.0Z M1716.4,1172.6 L1717.3,1170.5 L1718.8,1166.7 L1720.3,1162.8 L1721.8,1158.9 L1723.3,1154.9 L1724.8,1151.0 L1726.3,1147.0 L1727.8,1143.1 L1729.3,1139.2 L1730.8,1135.3 L1732.3,1131.5 L1733.1,1129.2 L1726.6,1126.6 L1725.7,1128.9 L1724.2,1132.8 L1722.7,1136.7 L1721.2,1140.6 L1719.7,1144.5 L1718.2,1148.5 L1716.7,1152.5 L1715.2,1156.4 L1713.7,1160.3 L1712.2,1164.2 L1710.7,1168.0 L1709.9,1170.1Z M1736.3,1121.4 L1736.7,1120.3 L1738.2,1116.8 L1739.7,1113.2 L1741.2,1109.8 L1742.7,1106.4 L1744.3,1103.1 L1745.8,1099.8 L1746.3,1098.7 L1739.8,1095.6 L1739.2,1096.8 L1737.7,1100.2 L1736.3,1103.5 L1734.8,1107.0 L1733.3,1110.5 L1731.8,1114.1 L1730.3,1117.7 L1729.8,1118.7Z M1746.3,1098.7 L1747.3,1096.6 L1748.8,1093.5 L1750.3,1090.4 L1751.8,1087.4 L1753.3,1084.4 L1754.9,1081.5 L1756.4,1078.7 L1757.9,1075.9 L1759.0,1073.9 L1752.2,1070.3 L1751.1,1072.2 L1749.6,1075.1 L1748.1,1078.1 L1746.7,1081.0 L1745.2,1084.1 L1743.7,1087.2 L1742.2,1090.3 L1740.7,1093.5 L1739.8,1095.6Z M1763.1,1066.6 L1764.0,1065.3 L1765.5,1062.7 L1767.0,1060.2 L1768.5,1057.8 L1770.0,1055.4 L1771.5,1053.0 L1773.0,1050.7 L1774.5,1048.4 L1776.1,1046.1 L1777.6,1043.8 L1779.1,1041.5 L1780.6,1039.2 L1782.1,1036.9 L1783.6,1034.6 L1785.1,1032.3 L1786.6,1030.0 L1788.1,1027.7 L1788.1,1027.7 L1781.0,1023.0 L1780.9,1023.1 L1779.4,1025.4 L1777.9,1027.7 L1776.4,1029.9 L1774.9,1032.2 L1773.4,1034.5 L1771.9,1036.8 L1770.4,1039.1 L1768.9,1041.5 L1767.5,1043.8 L1766.0,1046.2 L1764.5,1048.6 L1763.0,1051.1 L1761.5,1053.5 L1760.0,1056.1 L1758.5,1058.6 L1757.0,1061.2 L1756.2,1062.7Z M1792.7,1020.6 L1794.1,1018.6 L1795.6,1016.3 L1797.1,1014.0 L1798.6,1011.8 L1800.1,1009.5 L1801.6,1007.3 L1803.1,1005.1 L1804.6,1002.9 L1806.1,1000.7 L1807.6,998.6 L1809.1,996.4 L1810.6,994.3 L1812.1,992.2 L1813.6,990.2 L1815.2,988.1 L1816.7,986.1 L1818.2,984.1 L1819.2,982.7 L1811.9,977.2 L1810.8,978.6 L1809.3,980.7 L1807.8,982.8 L1806.4,984.9 L1804.9,987.1 L1803.4,989.2 L1801.9,991.4 L1800.4,993.6 L1798.9,995.8 L1797.4,998.0 L1795.9,1000.3 L1794.4,1002.5 L1792.9,1004.8 L1791.4,1007.0 L1789.9,1009.3 L1788.4,1011.6 L1786.9,1013.9 L1785.6,1015.9Z M1824.4,976.1 L1825.6,974.6 L1827.0,972.8 L1828.5,971.0 L1830.0,969.3 L1831.5,967.6 L1832.9,965.9 L1834.4,964.3 L1835.9,962.6 L1837.4,961.0 L1838.8,959.4 L1840.3,957.9 L1841.8,956.3 L1843.3,954.8 L1844.8,953.3 L1846.2,951.8 L1847.7,950.4 L1849.2,948.9 L1850.7,947.5 L1852.2,946.1 L1853.7,944.7 L1855.1,943.3 L1855.7,942.7 L1849.4,936.0 L1848.9,936.6 L1847.3,938.0 L1845.8,939.4 L1844.3,940.9 L1842.8,942.3 L1841.3,943.8 L1839.8,945.3 L1838.2,946.8 L1836.7,948.4 L1835.2,949.9 L1833.7,951.5 L1832.2,953.1 L1830.6,954.8 L1829.1,956.4 L1827.6,958.1 L1826.1,959.8 L1824.5,961.6 L1823.0,963.3 L1821.5,965.1 L1820.0,967.0 L1818.4,968.8 L1817.2,970.4Z M1861.9,937.0 L1862.6,936.4 L1864.1,935.1 L1865.6,933.8 L1867.0,932.5 L1868.5,931.2 L1870.0,929.9 L1871.5,928.6 L1873.0,927.3 L1874.5,926.1 L1876.0,924.8 L1877.4,923.6 L1878.9,922.4 L1880.4,921.1 L1881.9,919.9 L1883.4,918.7 L1884.9,917.6 L1886.4,916.4 L1887.8,915.2 L1889.3,914.0 L1890.8,912.9 L1892.3,911.8 L1893.8,910.6 L1895.3,909.5 L1896.7,908.4 L1897.5,907.8 L1892.0,900.5 L1891.3,901.0 L1889.7,902.2 L1888.2,903.3 L1886.7,904.4 L1885.2,905.6 L1883.7,906.8 L1882.2,908.0 L1880.6,909.2 L1879.1,910.4 L1877.6,911.6 L1876.1,912.8 L1874.6,914.0 L1873.1,915.3 L1871.6,916.5 L1870.0,917.8 L1868.5,919.0 L1867.0,920.3 L1865.5,921.6 L1864.0,922.9 L1862.5,924.2 L1861.0,925.6 L1859.4,926.9 L1857.9,928.3 L1856.4,929.6 L1855.7,930.2Z M1904.3,902.9 L1905.7,901.9 L1907.1,900.9 L1908.6,899.9 L1910.1,898.8 L1911.6,897.8 L1913.1,896.8 L1914.6,895.8 L1916.0,894.8 L1917.5,893.9 L1919.0,892.9 L1920.5,891.9 L1922.0,891.0 L1923.5,890.0 L1924.9,889.1 L1926.4,888.1 L1927.9,887.2 L1929.4,886.3 L1930.9,885.4 L1932.4,884.5 L1933.9,883.6 L1935.3,882.7 L1936.8,881.9 L1938.3,881.0 L1939.8,880.2 L1941.3,879.3 L1942.8,878.5 L1943.1,878.3 L1938.6,870.2 L1938.2,870.5 L1936.7,871.3 L1935.2,872.2 L1933.7,873.1 L1932.2,873.9 L1930.7,874.8 L1929.1,875.7 L1927.6,876.6 L1926.1,877.5 L1924.6,878.5 L1923.1,879.4 L1921.6,880.3 L1920.1,881.3 L1918.5,882.2 L1917.0,883.2 L1915.5,884.2 L1914.0,885.2 L1912.5,886.2 L1911.0,887.2 L1909.4,888.2 L1907.9,889.2 L1906.4,890.2 L1904.9,891.3 L1903.4,892.3 L1901.9,893.4 L1900.3,894.4 L1899.0,895.4Z M1950.5,874.2 L1951.7,873.6 L1953.1,872.8 L1954.6,872.0 L1956.1,871.3 L1957.6,870.5 L1959.1,869.7 L1960.6,869.0 L1962.0,868.2 L1963.5,867.5 L1965.0,866.8 L1966.5,866.1 L1968.0,865.4 L1969.5,864.6 L1971.0,863.9 L1972.4,863.2 L1973.9,862.6 L1975.4,861.9 L1976.9,861.2 L1978.4,860.5 L1979.9,859.9 L1981.3,859.2 L1982.8,858.6 L1984.3,857.9 L1985.8,857.3 L1987.3,856.7 L1988.8,856.0 L1990.3,855.4 L1991.7,854.8 L1992.1,854.7 L1988.7,846.1 L1988.3,846.3 L1986.7,846.9 L1985.2,847.6 L1983.7,848.2 L1982.2,848.8 L1980.7,849.5 L1979.2,850.1 L1977.7,850.8 L1976.1,851.5 L1974.6,852.1 L1973.1,852.8 L1971.6,853.5 L1970.1,854.2 L1968.6,854.9 L1967.0,855.6 L1965.5,856.3 L1964.0,857.1 L1962.5,857.8 L1961.0,858.5 L1959.5,859.3 L1958.0,860.0 L1956.4,860.8 L1954.9,861.5 L1953.4,862.3 L1951.9,863.1 L1950.4,863.9 L1948.9,864.7 L1947.3,865.5 L1946.2,866.1Z M2000.0,851.6 L2000.7,851.3 L2002.1,850.7 L2003.6,850.2 L2005.1,849.6 L2006.6,849.0 L2008.1,848.5 L2009.6,848.0 L2011.1,847.4 L2012.5,846.9 L2014.0,846.4 L2015.5,845.9 L2017.0,845.3 L2018.5,844.8 L2020.0,844.3 L2021.4,843.8 L2022.9,843.3 L2024.4,842.9 L2025.9,842.4 L2027.4,841.9 L2028.9,841.4 L2030.4,841.0 L2031.8,840.5 L2033.3,840.1 L2034.8,839.6 L2036.3,839.2 L2037.8,838.7 L2039.3,838.3 L2040.8,837.9 L2042.3,837.5 L2043.7,837.1 L2041.2,828.2 L2039.7,828.6 L2038.2,829.0 L2036.7,829.5 L2035.2,829.9 L2033.7,830.4 L2032.2,830.8 L2030.7,831.3 L2029.2,831.7 L2027.6,832.2 L2026.1,832.7 L2024.6,833.1 L2023.1,833.6 L2021.6,834.1 L2020.1,834.6 L2018.6,835.1 L2017.0,835.6 L2015.5,836.1 L2014.0,836.6 L2012.5,837.2 L2011.0,837.7 L2009.5,838.2 L2007.9,838.8 L2006.4,839.3 L2004.9,839.9 L2003.4,840.4 L2001.9,841.0 L2000.4,841.5 L1998.9,842.1 L1997.3,842.7 L1996.6,843.0Z M2051.8,834.9 L2052.7,834.6 L2054.1,834.2 L2055.6,833.9 L2057.1,833.5 L2058.6,833.1 L2060.1,832.8 L2061.6,832.4 L2063.1,832.0 L2064.6,831.7 L2066.0,831.3 L2067.5,831.0 L2069.0,830.7 L2070.5,830.3 L2072.0,830.0 L2073.5,829.7 L2075.0,829.4 L2076.5,829.0 L2077.9,828.7 L2079.4,828.4 L2080.9,828.1 L2082.4,827.8 L2083.9,827.5 L2085.4,827.2 L2086.9,826.9 L2088.4,826.7 L2089.8,826.4 L2091.3,826.1 L2092.8,825.8 L2094.3,825.6 L2095.8,825.3 L2096.9,825.1 L2095.3,816.1 L2094.2,816.2 L2092.7,816.5 L2091.2,816.8 L2089.7,817.1 L2088.2,817.3 L2086.6,817.6 L2085.1,817.9 L2083.6,818.2 L2082.1,818.5 L2080.6,818.8 L2079.1,819.1 L2077.6,819.4 L2076.1,819.7 L2074.5,820.0 L2073.0,820.4 L2071.5,820.7 L2070.0,821.0 L2068.5,821.4 L2067.0,821.7 L2065.5,822.0 L2064.0,822.4 L2062.4,822.7 L2060.9,823.1 L2059.4,823.5 L2057.9,823.8 L2056.4,824.2 L2054.9,824.6 L2053.4,824.9 L2051.9,825.3 L2050.3,825.7 L2049.5,826.0Z M2105.2,823.7 L2106.2,823.6 L2107.7,823.3 L2109.2,823.1 L2110.7,822.9 L2112.2,822.7 L2113.7,822.4 L2115.2,822.2 L2116.6,822.0 L2118.1,821.8 L2119.6,821.6 L2121.1,821.4 L2122.6,821.2 L2124.1,821.0 L2125.6,820.8 L2127.1,820.6 L2128.6,820.4 L2130.1,820.3 L2131.5,820.1 L2133.0,819.9 L2134.5,819.7 L2136.0,819.6 L2137.5,819.4 L2139.0,819.2 L2140.5,819.1 L2142.0,818.9 L2143.5,818.7 L2145.0,818.6 L2146.5,818.4 L2147.9,818.3 L2149.4,818.2 L2150.9,818.0 L2151.0,818.0 L2150.2,808.8 L2150.1,808.9 L2148.6,809.0 L2147.1,809.1 L2145.5,809.3 L2144.0,809.4 L2142.5,809.6 L2141.0,809.8 L2139.5,809.9 L2138.0,810.1 L2136.5,810.2 L2135.0,810.4 L2133.5,810.6 L2132.0,810.8 L2130.5,810.9 L2128.9,811.1 L2127.4,811.3 L2125.9,811.5 L2124.4,811.7 L2122.9,811.9 L2121.4,812.1 L2119.9,812.3 L2118.4,812.5 L2116.9,812.7 L2115.4,812.9 L2113.8,813.1 L2112.3,813.3 L2110.8,813.6 L2109.3,813.8 L2107.8,814.0 L2106.3,814.2 L2104.8,814.5 L2103.7,814.7Z M2159.4,817.3 L2159.9,817.2 L2161.4,817.1 L2162.9,817.0 L2164.4,816.9 L2165.9,816.7 L2167.3,816.6 L2168.8,816.5 L2170.3,816.4 L2171.8,816.3 L2173.3,816.2 L2174.8,816.1 L2176.3,816.0 L2177.8,815.9 L2179.3,815.8 L2180.8,815.7 L2182.3,815.6 L2183.8,815.5 L2185.3,815.4 L2186.8,815.4 L2188.3,815.3 L2189.7,815.2 L2191.2,815.1 L2192.7,815.0 L2194.2,815.0 L2195.7,814.9 L2197.2,814.8 L2198.7,814.7 L2200.2,814.7 L2201.7,814.6 L2203.2,814.5 L2204.7,814.5 L2205.7,814.4 L2205.3,805.2 L2204.3,805.3 L2202.8,805.3 L2201.3,805.4 L2199.8,805.5 L2198.3,805.5 L2196.8,805.6 L2195.3,805.7 L2193.8,805.8 L2192.3,805.8 L2190.8,805.9 L2189.3,806.0 L2187.7,806.1 L2186.2,806.2 L2184.7,806.3 L2183.2,806.3 L2181.7,806.4 L2180.2,806.5 L2178.7,806.6 L2177.2,806.7 L2175.7,806.8 L2174.2,806.9 L2172.7,807.0 L2171.2,807.1 L2169.7,807.2 L2168.2,807.3 L2166.7,807.5 L2165.1,807.6 L2163.6,807.7 L2162.1,807.8 L2160.6,807.9 L2159.1,808.0 L2158.7,808.1Z M2214.1,814.1 L2215.2,814.1 L2216.7,814.0 L2218.2,814.0 L2219.7,813.9 L2221.1,813.9 L2222.6,813.8 L2224.1,813.8 L2225.6,813.7 L2227.1,813.7 L2228.6,813.6 L2230.1,813.6 L2231.6,813.6 L2233.1,813.5 L2234.6,813.5 L2236.1,813.4 L2237.6,813.4 L2239.1,813.4 L2240.6,813.3 L2242.1,813.3 L2243.6,813.3 L2245.1,813.2 L2246.6,813.2 L2248.1,813.2 L2249.6,813.1 L2251.1,813.1 L2252.6,813.1 L2254.1,813.0 L2255.6,813.0 L2257.1,813.0 L2258.6,813.0 L2260.1,812.9 L2260.5,812.9 L2260.4,803.7 L2259.9,803.7 L2258.4,803.8 L2256.9,803.8 L2255.4,803.8 L2253.9,803.8 L2252.4,803.9 L2250.9,803.9 L2249.4,803.9 L2247.9,804.0 L2246.4,804.0 L2244.9,804.0 L2243.4,804.1 L2241.9,804.1 L2240.4,804.1 L2238.9,804.2 L2237.4,804.2 L2235.9,804.2 L2234.4,804.3 L2232.9,804.3 L2231.4,804.4 L2229.9,804.4 L2228.4,804.4 L2226.9,804.5 L2225.4,804.5 L2223.9,804.6 L2222.4,804.6 L2220.9,804.7 L2219.3,804.7 L2217.8,804.8 L2216.3,804.8 L2214.8,804.9 L2213.8,804.9Z M2269.0,812.8 L2269.1,812.8 L2270.6,812.8 L2272.1,812.7 L2273.6,812.7 L2275.1,812.7 L2276.6,812.7 L2278.1,812.6 L2279.6,812.6 L2281.1,812.6 L2282.6,812.6 L2284.1,812.5 L2285.6,812.5 L2287.1,812.5 L2288.6,812.5 L2290.1,812.4 L2291.6,812.4 L2293.1,812.4 L2294.6,812.4 L2296.1,812.3 L2297.6,812.3 L2299.1,812.3 L2300.6,812.3 L2302.1,812.2 L2303.6,812.2 L2305.1,812.2 L2306.6,812.1 L2308.1,812.1 L2309.6,812.1 L2311.1,812.0 L2312.6,812.0 L2314.1,812.0 L2315.5,811.9 L2315.3,802.8 L2313.9,802.8 L2312.4,802.8 L2310.9,802.8 L2309.4,802.9 L2307.9,802.9 L2306.4,802.9 L2304.9,803.0 L2303.4,803.0 L2301.9,803.0 L2300.4,803.1 L2298.9,803.1 L2297.4,803.1 L2295.9,803.1 L2294.4,803.2 L2292.9,803.2 L2291.4,803.2 L2289.9,803.2 L2288.4,803.3 L2286.9,803.3 L2285.4,803.3 L2283.9,803.3 L2282.4,803.4 L2280.9,803.4 L2279.4,803.4 L2277.9,803.4 L2276.4,803.5 L2274.9,803.5 L2273.4,803.5 L2271.9,803.5 L2270.4,803.6 L2268.9,803.6 L2268.9,803.6Z M2324.0,811.7 L2324.6,811.7 L2326.1,811.7 L2327.6,811.6 L2329.1,811.6 L2330.6,811.6 L2332.1,811.5 L2333.6,811.5 L2335.1,811.4 L2336.6,811.4 L2338.1,811.3 L2339.7,811.3 L2341.2,811.2 L2342.7,811.2 L2344.2,811.1 L2345.7,811.1 L2347.2,811.0 L2348.7,811.0 L2350.2,810.9 L2351.7,810.8 L2353.2,810.8 L2354.7,810.7 L2356.2,810.6 L2357.4,810.6 L2357.0,801.4 L2355.8,801.5 L2354.3,801.5 L2352.8,801.6 L2351.3,801.6 L2349.8,801.7 L2348.3,801.8 L2346.8,801.8 L2345.3,801.9 L2343.8,801.9 L2342.3,802.0 L2340.8,802.0 L2339.3,802.1 L2337.9,802.1 L2336.4,802.2 L2334.9,802.2 L2333.4,802.3 L2331.9,802.3 L2330.4,802.4 L2328.9,802.4 L2327.4,802.5 L2325.9,802.5 L2324.4,802.5 L2323.8,802.5Z M380.8,817.6 L382.3,817.8 L383.8,817.9 L385.3,818.1 L386.8,818.3 L387.9,809.2 L386.5,809.0 L385.0,808.8 L383.5,808.6 L382.0,808.4Z"/>
<path class="s-s21" clip-path="url(#plot)" fill="#0000ff" d="M387.9,527.1 L389.4,526.5 L390.9,525.7 L392.4,525.0 L393.9,524.3 L395.4,523.6 L396.9,522.9 L398.4,522.2 L399.9,521.5 L401.4,520.7 L402.9,520.0 L404.4,519.3 L405.9,518.6 L407.4,517.9 L408.9,517.1 L410.4,516.4 L411.9,515.7 L413.4,514.9 L414.9,514.2 L416.4,513.5 L417.9,512.7 L419.4,512.0 L420.9,511.3 L422.4,510.5 L423.9,509.8 L425.4,509.0 L426.9,508.3 L428.4,507.5 L429.8,506.8 L425.7,498.6 L424.4,499.3 L422.9,500.0 L421.4,500.8 L419.9,501.5 L418.4,502.3 L416.9,503.0 L415.4,503.7 L413.9,504.5 L412.4,505.2 L410.9,505.9 L409.4,506.7 L407.9,507.4 L406.4,508.1 L404.9,508.8 L403.4,509.6 L401.9,510.3 L400.4,511.0 L398.9,511.7 L397.4,512.5 L395.9,513.2 L394.4,513.9 L392.9,514.6 L391.4,515.3 L389.9,516.0 L388.4,516.7 L386.9,517.4 L385.4,518.1 L384.0,518.8Z M437.5,503.0 L437.5,503.0 L439.0,502.3 L440.5,501.5 L442.0,500.8 L443.5,500.0 L445.0,499.2 L446.5,498.5 L448.0,497.7 L449.5,497.0 L451.0,496.2 L452.5,495.4 L454.0,494.7 L455.5,493.9 L457.0,493.1 L458.5,492.3 L460.0,491.6 L461.5,490.8 L463.0,490.0 L464.5,489.2 L466.0,488.5 L467.5,487.7 L469.0,486.9 L470.5,486.1 L472.0,485.3 L473.5,484.6 L475.0,483.8 L476.5,483.0 L478.0,482.2 L478.9,481.8 L474.6,473.6 L473.8,474.1 L472.3,474.8 L470.8,475.6 L469.3,476.4 L467.8,477.2 L466.3,478.0 L464.8,478.7 L463.3,479.5 L461.8,480.3 L460.3,481.1 L458.8,481.8 L457.3,482.6 L455.8,483.4 L454.3,484.2 L452.8,484.9 L451.3,485.7 L449.8,486.5 L448.3,487.2 L446.8,488.0 L445.3,488.8 L443.8,489.5 L442.3,490.3 L440.8,491.0 L439.3,491.8 L437.8,492.6 L436.3,493.3 L434.8,494.1 L433.3,494.8 L433.3,494.8Z M486.4,477.8 L487.0,477.5 L488.5,476.7 L490.0,475.9 L491.6,475.1 L493.1,474.3 L494.6,473.5 L496.1,472.7 L497.6,471.9 L499.1,471.1 L500.6,470.3 L502.1,469.5 L503.6,468.7 L505.1,467.9 L506.6,467.1 L508.1,466.3 L509.6,465.5 L511.1,464.7 L512.6,463.9 L514.1,463.1 L515.6,462.3 L517.1,461.5 L518.6,460.7 L520.1,459.8 L521.6,459.0 L523.1,458.2 L524.6,457.4 L526.1,456.6 L527.5,455.9 L523.1,447.8 L521.7,448.5 L520.2,449.3 L518.7,450.1 L517.2,450.9 L515.7,451.7 L514.2,452.6 L512.7,453.4 L511.2,454.2 L509.7,455.0 L508.2,455.8 L506.7,456.6 L505.2,457.4 L503.7,458.2 L502.2,459.0 L500.7,459.8 L499.2,460.6 L497.7,461.4 L496.2,462.2 L494.7,463.0 L493.2,463.8 L491.7,464.6 L490.2,465.4 L488.7,466.2 L487.2,467.0 L485.8,467.8 L484.3,468.5 L482.8,469.3 L482.1,469.7Z M534.9,451.8 L535.1,451.7 L536.6,450.9 L538.1,450.1 L539.6,449.3 L541.1,448.4 L542.6,447.6 L544.1,446.8 L545.6,446.0 L547.1,445.2 L548.6,444.4 L550.1,443.5 L551.6,442.7 L553.1,441.9 L554.6,441.1 L556.1,440.3 L557.6,439.4 L559.1,438.6 L560.6,437.8 L562.1,437.0 L563.6,436.1 L565.1,435.3 L566.6,434.5 L568.1,433.7 L569.6,432.8 L571.1,432.0 L572.6,431.2 L574.1,430.4 L575.6,429.5 L575.8,429.5 L571.3,421.4 L571.2,421.5 L569.7,422.3 L568.2,423.1 L566.7,424.0 L565.2,424.8 L563.7,425.6 L562.2,426.4 L560.7,427.2 L559.2,428.1 L557.7,428.9 L556.2,429.7 L554.7,430.5 L553.2,431.4 L551.7,432.2 L550.2,433.0 L548.7,433.8 L547.2,434.6 L545.7,435.5 L544.2,436.3 L542.7,437.1 L541.2,437.9 L539.7,438.7 L538.2,439.6 L536.7,440.4 L535.2,441.2 L533.7,442.0 L532.2,442.8 L530.7,443.6 L530.6,443.7Z M583.2,425.4 L584.6,424.6 L586.1,423.7 L587.6,422.9 L589.1,422.1 L590.6,421.3 L592.1,420.4 L593.6,419.6 L595.1,418.8 L596.6,418.0 L598.1,417.1 L599.6,416.3 L601.1,415.5 L602.6,414.6 L604.1,413.8 L605.6,413.0 L607.1,412.2 L608.6,411.3 L610.1,410.5 L611.6,409.7 L613.1,408.8 L614.6,408.0 L616.1,407.2 L617.6,406.4 L619.1,405.5 L620.6,404.7 L622.1,403.9 L623.6,403.1 L623.9,402.9 L619.5,394.8 L619.2,395.0 L617.7,395.8 L616.2,396.7 L614.7,397.5 L613.2,398.3 L611.7,399.1 L610.2,400.0 L608.7,400.8 L607.2,401.6 L605.7,402.4 L604.2,403.3 L602.7,404.1 L601.2,404.9 L599.7,405.8 L598.2,406.6 L596.7,407.4 L595.2,408.2 L593.7,409.1 L592.2,409.9 L590.7,410.7 L589.2,411.6 L587.7,412.4 L586.2,413.2 L584.7,414.0 L583.2,414.9 L581.7,415.7 L580.2,416.5 L578.8,417.3Z M631.4,398.8 L632.6,398.1 L634.1,397.3 L635.6,396.4 L637.1,395.6 L638.6,394.8 L640.1,394.0 L641.6,393.1 L643.1,392.3 L644.6,391.5 L646.1,390.7 L647.6,389.8 L649.1,389.0 L650.6,388.2 L652.1,387.4 L653.6,386.6 L655.1,385.7 L656.6,384.9 L658.1,384.1 L659.6,383.3 L661.1,382.5 L662.6,381.6 L664.1,380.8 L665.6,380.0 L667.1,379.2 L668.6,378.4 L670.1,377.5 L671.6,376.7 L672.1,376.4 L667.7,368.4 L667.2,368.7 L665.7,369.5 L664.2,370.3 L662.7,371.1 L661.2,371.9 L659.7,372.7 L658.2,373.6 L656.7,374.4 L655.2,375.2 L653.7,376.0 L652.2,376.8 L650.7,377.7 L649.2,378.5 L647.7,379.3 L646.2,380.1 L644.7,381.0 L643.2,381.8 L641.7,382.6 L640.2,383.4 L638.7,384.3 L637.2,385.1 L635.7,385.9 L634.2,386.7 L632.7,387.6 L631.2,388.4 L629.7,389.2 L628.2,390.0 L626.9,390.7Z M679.6,372.4 L680.6,371.8 L682.1,371.0 L683.6,370.2 L685.1,369.4 L686.6,368.6 L688.1,367.8 L689.6,367.0 L691.1,366.2 L692.6,365.4 L694.1,364.6 L695.6,363.8 L697.1,362.9 L698.6,362.1 L700.1,361.3 L701.6,360.5 L703.1,359.7 L704.6,358.9 L706.1,358.1 L707.6,357.3 L709.1,356.5 L710.6,355.7 L712.1,354.9 L713.6,354.1 L715.1,353.4 L716.6,352.6 L718.1,351.8 L719.5,351.0 L720.5,350.5 L716.2,342.3 L715.3,342.8 L713.7,343.6 L712.2,344.4 L710.7,345.2 L709.2,346.0 L707.7,346.8 L706.2,347.6 L704.7,348.4 L703.2,349.2 L701.7,350.0 L700.2,350.8 L698.7,351.6 L697.2,352.4 L695.7,353.2 L694.2,354.0 L692.7,354.8 L691.2,355.6 L689.7,356.5 L688.2,357.3 L686.7,358.1 L685.2,358.9 L683.7,359.7 L682.2,360.5 L680.7,361.3 L679.2,362.1 L677.7,362.9 L676.2,363.8 L675.2,364.3Z M728.0,346.5 L728.5,346.2 L730.0,345.5 L731.5,344.7 L733.0,343.9 L734.5,343.1 L736.0,342.3 L737.5,341.6 L739.0,340.8 L740.5,340.0 L742.0,339.2 L743.5,338.5 L745.0,337.7 L746.5,336.9 L748.0,336.1 L749.5,335.4 L751.0,334.6 L752.5,333.8 L754.0,333.1 L755.5,332.3 L757.0,331.6 L758.5,330.8 L760.0,330.0 L761.5,329.3 L763.0,328.5 L764.5,327.8 L766.0,327.0 L767.5,326.3 L769.0,325.5 L769.3,325.3 L765.2,317.1 L764.8,317.3 L763.3,318.0 L761.8,318.8 L760.3,319.6 L758.8,320.3 L757.3,321.1 L755.8,321.8 L754.3,322.6 L752.8,323.4 L751.3,324.1 L749.8,324.9 L748.3,325.7 L746.8,326.4 L745.3,327.2 L743.8,328.0 L742.3,328.7 L740.8,329.5 L739.3,330.3 L737.8,331.1 L736.3,331.8 L734.8,332.6 L733.3,333.4 L731.8,334.2 L730.3,335.0 L728.8,335.7 L727.3,336.5 L725.8,337.3 L724.3,338.1 L723.8,338.4Z M776.9,321.6 L777.9,321.1 L779.4,320.3 L780.9,319.6 L782.4,318.8 L783.9,318.1 L785.4,317.4 L786.9,316.6 L788.4,315.9 L789.9,315.2 L791.4,314.5 L792.9,313.7 L794.4,313.0 L795.9,312.3 L797.4,311.6 L798.9,310.9 L800.4,310.2 L801.9,309.4 L803.4,308.7 L804.9,308.0 L806.4,307.3 L807.9,306.6 L809.4,305.9 L810.8,305.2 L812.3,304.5 L813.8,303.8 L815.3,303.1 L816.8,302.4 L818.3,301.7 L818.8,301.5 L814.9,293.2 L814.5,293.4 L813.0,294.1 L811.5,294.8 L810.0,295.5 L808.5,296.2 L807.0,296.9 L805.4,297.6 L803.9,298.3 L802.4,299.0 L800.9,299.7 L799.4,300.4 L797.9,301.1 L796.4,301.9 L794.9,302.6 L793.4,303.3 L791.9,304.0 L790.4,304.7 L788.9,305.5 L787.4,306.2 L785.9,306.9 L784.4,307.6 L782.9,308.4 L781.4,309.1 L779.9,309.8 L778.4,310.6 L776.9,311.3 L775.4,312.1 L773.9,312.8 L772.8,313.3Z M826.5,298.0 L827.3,297.6 L828.8,296.9 L830.3,296.3 L831.8,295.6 L833.3,294.9 L834.8,294.2 L836.3,293.6 L837.8,292.9 L839.3,292.2 L840.8,291.5 L842.3,290.9 L843.8,290.2 L845.3,289.5 L846.8,288.8 L848.3,288.2 L849.8,287.5 L851.3,286.8 L852.8,286.1 L854.3,285.5 L855.8,284.8 L857.3,284.1 L858.8,283.4 L860.3,282.8 L861.8,282.1 L863.3,281.4 L864.8,280.7 L866.3,280.0 L867.8,279.3 L868.9,278.9 L865.0,270.5 L864.0,271.0 L862.5,271.7 L861.0,272.3 L859.5,273.0 L858.0,273.7 L856.5,274.4 L855.0,275.1 L853.5,275.7 L852.0,276.4 L850.5,277.1 L849.0,277.8 L847.5,278.4 L846.0,279.1 L844.5,279.8 L843.0,280.5 L841.5,281.1 L840.0,281.8 L838.5,282.5 L837.0,283.1 L835.5,283.8 L834.0,284.5 L832.5,285.2 L831.0,285.8 L829.5,286.5 L828.0,287.2 L826.5,287.9 L825.0,288.6 L823.5,289.2 L822.7,289.6Z M876.6,275.3 L876.8,275.2 L878.3,274.5 L879.8,273.8 L881.3,273.1 L882.8,272.4 L884.3,271.8 L885.8,271.1 L887.3,270.4 L888.8,269.7 L890.3,269.0 L891.8,268.3 L893.3,267.6 L894.8,266.9 L896.3,266.3 L897.8,265.6 L899.3,264.9 L900.8,264.2 L902.3,263.5 L903.8,262.8 L905.3,262.2 L906.8,261.5 L908.3,260.8 L909.8,260.1 L911.3,259.5 L912.8,258.8 L914.3,258.1 L915.8,257.5 L917.3,256.8 L918.8,256.1 L918.9,256.1 L915.1,247.7 L915.0,247.7 L913.5,248.4 L912.0,249.1 L910.5,249.7 L909.0,250.4 L907.5,251.1 L906.0,251.8 L904.5,252.4 L903.0,253.1 L901.5,253.8 L900.0,254.5 L898.5,255.2 L897.0,255.8 L895.5,256.5 L894.0,257.2 L892.5,257.9 L891.0,258.6 L889.5,259.3 L888.0,260.0 L886.5,260.6 L885.0,261.3 L883.5,262.0 L882.0,262.7 L880.5,263.4 L879.0,264.1 L877.5,264.8 L876.0,265.5 L874.5,266.2 L873.0,266.8 L872.7,267.0Z M926.6,252.7 L927.7,252.2 L929.2,251.6 L930.7,250.9 L932.2,250.3 L933.7,249.7 L935.2,249.0 L936.7,248.4 L938.2,247.8 L939.7,247.1 L941.2,246.5 L942.7,245.9 L944.2,245.2 L945.7,244.6 L947.2,244.0 L948.7,243.4 L950.2,242.8 L951.6,242.1 L953.1,241.5 L954.6,240.9 L956.1,240.3 L957.6,239.7 L959.1,239.1 L960.6,238.5 L962.1,237.9 L963.6,237.3 L965.1,236.7 L966.6,236.1 L968.1,235.5 L969.4,235.0 L966.0,226.4 L964.7,226.9 L963.2,227.5 L961.7,228.1 L960.2,228.7 L958.7,229.4 L957.2,230.0 L955.7,230.6 L954.2,231.2 L952.7,231.8 L951.2,232.4 L949.7,233.0 L948.2,233.6 L946.6,234.3 L945.1,234.9 L943.6,235.5 L942.1,236.1 L940.6,236.8 L939.1,237.4 L937.6,238.0 L936.1,238.6 L934.6,239.3 L933.1,239.9 L931.6,240.6 L930.1,241.2 L928.6,241.8 L927.1,242.5 L925.6,243.1 L924.1,243.8 L923.0,244.3Z M977.3,231.9 L978.6,231.4 L980.1,230.8 L981.6,230.2 L983.1,229.6 L984.6,229.1 L986.1,228.5 L987.5,227.9 L989.0,227.3 L990.5,226.8 L992.0,226.2 L993.5,225.6 L995.0,225.1 L996.5,224.5 L998.0,223.9 L999.5,223.4 L1001.0,222.8 L1002.5,222.2 L1004.0,221.7 L1005.5,221.1 L1007.0,220.6 L1008.5,220.0 L1010.0,219.5 L1011.5,218.9 L1013.0,218.4 L1014.5,217.8 L1016.0,217.3 L1017.5,216.7 L1019.0,216.2 L1020.5,215.6 L1020.7,215.5 L1017.6,206.9 L1017.3,207.0 L1015.8,207.5 L1014.3,208.1 L1012.8,208.6 L1011.3,209.2 L1009.8,209.7 L1008.3,210.3 L1006.8,210.8 L1005.3,211.4 L1003.8,211.9 L1002.3,212.5 L1000.8,213.1 L999.3,213.6 L997.8,214.2 L996.3,214.8 L994.8,215.3 L993.3,215.9 L991.8,216.5 L990.3,217.0 L988.8,217.6 L987.3,218.2 L985.8,218.7 L984.3,219.3 L982.7,219.9 L981.2,220.5 L979.7,221.1 L978.2,221.6 L976.7,222.2 L975.2,222.8 L974.0,223.3Z M1028.7,212.7 L1029.4,212.4 L1030.9,211.9 L1032.4,211.3 L1033.9,210.8 L1035.4,210.3 L1036.9,209.7 L1038.4,209.2 L1039.9,208.7 L1041.4,208.2 L1042.9,207.6 L1044.4,207.1 L1045.9,206.6 L1047.4,206.1 L1048.9,205.5 L1050.4,205.0 L1051.9,204.5 L1053.4,204.0 L1054.9,203.4 L1056.4,202.9 L1057.9,202.4 L1059.4,201.9 L1060.9,201.4 L1062.4,200.9 L1063.9,200.4 L1065.4,199.8 L1066.9,199.3 L1068.4,198.8 L1069.9,198.3 L1071.4,197.8 L1072.6,197.4 L1069.6,188.7 L1068.4,189.1 L1066.9,189.6 L1065.4,190.1 L1063.9,190.6 L1062.4,191.1 L1060.9,191.6 L1059.4,192.2 L1057.9,192.7 L1056.4,193.2 L1054.9,193.7 L1053.4,194.2 L1051.9,194.8 L1050.4,195.3 L1048.9,195.8 L1047.4,196.3 L1045.9,196.8 L1044.4,197.4 L1042.9,197.9 L1041.4,198.4 L1039.9,198.9 L1038.4,199.5 L1036.9,200.0 L1035.4,200.5 L1033.9,201.1 L1032.4,201.6 L1030.9,202.1 L1029.4,202.7 L1027.9,203.2 L1026.4,203.7 L1025.6,204.0Z M1080.6,194.7 L1081.9,194.2 L1083.4,193.7 L1084.9,193.2 L1086.4,192.7 L1087.9,192.2 L1089.4,191.7 L1090.9,191.2 L1092.3,190.7 L1093.8,190.2 L1095.3,189.8 L1096.8,189.3 L1098.3,188.8 L1099.8,188.3 L1101.3,187.8 L1102.8,187.3 L1104.3,186.8 L1105.8,186.3 L1107.3,185.8 L1108.8,185.3 L1110.3,184.9 L1111.8,184.4 L1113.3,183.9 L1114.8,183.4 L1116.3,183.0 L1117.8,182.5 L1119.3,182.0 L1120.8,181.5 L1122.3,181.1 L1123.8,180.6 L1124.7,180.3 L1122.0,171.5 L1121.0,171.8 L1119.5,172.3 L1118.0,172.8 L1116.5,173.2 L1115.0,173.7 L1113.5,174.2 L1112.0,174.7 L1110.5,175.1 L1109.0,175.6 L1107.5,176.1 L1106.0,176.6 L1104.5,177.1 L1103.0,177.6 L1101.5,178.1 L1100.0,178.5 L1098.5,179.0 L1097.0,179.5 L1095.5,180.0 L1094.0,180.5 L1092.5,181.0 L1091.0,181.5 L1089.5,182.0 L1087.9,182.5 L1086.4,183.0 L1084.9,183.5 L1083.4,184.0 L1081.9,184.5 L1080.4,185.0 L1078.9,185.5 L1077.7,186.0Z M1132.8,177.8 L1134.2,177.4 L1135.7,176.9 L1137.2,176.4 L1138.7,176.0 L1140.2,175.5 L1141.7,175.1 L1143.2,174.7 L1144.7,174.2 L1146.2,173.8 L1147.7,173.3 L1149.2,172.9 L1150.7,172.5 L1152.2,172.0 L1153.7,171.6 L1155.2,171.2 L1156.7,170.7 L1158.2,170.3 L1159.6,169.9 L1161.1,169.5 L1162.6,169.1 L1164.1,168.6 L1165.6,168.2 L1167.1,167.8 L1168.6,167.4 L1170.1,167.0 L1171.6,166.6 L1173.1,166.2 L1174.6,165.8 L1176.1,165.4 L1177.3,165.1 L1175.0,156.2 L1173.7,156.5 L1172.2,156.9 L1170.7,157.3 L1169.2,157.7 L1167.7,158.1 L1166.2,158.5 L1164.7,158.9 L1163.2,159.4 L1161.7,159.8 L1160.2,160.2 L1158.7,160.6 L1157.2,161.0 L1155.6,161.5 L1154.1,161.9 L1152.6,162.3 L1151.1,162.8 L1149.6,163.2 L1148.1,163.6 L1146.6,164.1 L1145.1,164.5 L1143.6,164.9 L1142.1,165.4 L1140.6,165.8 L1139.1,166.3 L1137.6,166.7 L1136.1,167.2 L1134.6,167.6 L1133.1,168.1 L1131.6,168.6 L1130.1,169.0Z M1185.5,163.0 L1186.5,162.7 L1188.0,162.3 L1189.5,162.0 L1191.0,161.6 L1192.5,161.2 L1194.0,160.8 L1195.5,160.5 L1197.0,160.1 L1198.5,159.8 L1200.0,159.4 L1201.5,159.1 L1202.9,158.7 L1204.4,158.4 L1205.9,158.0 L1207.4,157.7 L1208.9,157.3 L1210.4,157.0 L1211.9,156.6 L1213.4,156.3 L1214.9,156.0 L1216.4,155.7 L1217.9,155.3 L1219.4,155.0 L1220.9,154.7 L1222.4,154.4 L1223.9,154.0 L1225.3,153.7 L1226.8,153.4 L1228.3,153.1 L1229.8,152.8 L1230.7,152.6 L1228.8,143.6 L1228.0,143.8 L1226.5,144.1 L1225.0,144.4 L1223.5,144.7 L1221.9,145.0 L1220.4,145.4 L1218.9,145.7 L1217.4,146.0 L1215.9,146.3 L1214.4,146.7 L1212.9,147.0 L1211.4,147.3 L1209.9,147.7 L1208.4,148.0 L1206.9,148.4 L1205.4,148.7 L1203.9,149.0 L1202.4,149.4 L1200.9,149.7 L1199.3,150.1 L1197.8,150.5 L1196.3,150.8 L1194.8,151.2 L1193.3,151.5 L1191.8,151.9 L1190.3,152.3 L1188.8,152.7 L1187.3,153.0 L1185.8,153.4 L1184.3,153.8 L1183.3,154.0Z M1238.9,151.0 L1240.3,150.7 L1241.8,150.4 L1243.3,150.1 L1244.8,149.8 L1246.3,149.5 L1247.7,149.3 L1249.2,149.0 L1250.7,148.7 L1252.2,148.4 L1253.7,148.2 L1255.2,147.9 L1256.7,147.6 L1258.2,147.4 L1259.7,147.1 L1261.2,146.8 L1262.7,146.6 L1264.2,146.3 L1265.7,146.1 L1267.2,145.8 L1268.7,145.6 L1270.2,145.3 L1271.6,145.1 L1273.1,144.8 L1274.6,144.6 L1276.1,144.3 L1277.6,144.1 L1279.1,143.8 L1280.6,143.6 L1282.1,143.4 L1283.6,143.2 L1284.6,143.0 L1283.2,133.9 L1282.2,134.1 L1280.7,134.3 L1279.2,134.5 L1277.7,134.8 L1276.2,135.0 L1274.7,135.2 L1273.2,135.5 L1271.7,135.7 L1270.2,136.0 L1268.6,136.2 L1267.1,136.5 L1265.6,136.7 L1264.1,137.0 L1262.6,137.2 L1261.1,137.5 L1259.6,137.8 L1258.1,138.0 L1256.6,138.3 L1255.1,138.6 L1253.6,138.8 L1252.1,139.1 L1250.6,139.4 L1249.1,139.7 L1247.6,139.9 L1246.1,140.2 L1244.5,140.5 L1243.0,140.8 L1241.5,141.1 L1240.0,141.4 L1238.5,141.7 L1237.2,141.9Z M1292.9,141.8 L1294.1,141.6 L1295.6,141.4 L1297.0,141.2 L1298.5,141.0 L1300.0,140.7 L1301.5,140.5 L1303.0,140.3 L1304.5,140.1 L1306.0,139.9 L1307.5,139.7 L1309.0,139.5 L1310.5,139.3 L1312.0,139.1 L1313.5,139.0 L1315.0,138.8 L1316.5,138.6 L1318.0,138.4 L1319.5,138.2 L1321.0,138.0 L1322.4,137.8 L1323.9,137.7 L1325.4,137.5 L1326.9,137.3 L1328.4,137.1 L1329.9,137.0 L1331.4,136.8 L1332.9,136.6 L1334.4,136.5 L1335.9,136.3 L1337.4,136.1 L1338.9,136.0 L1338.9,136.0 L1337.9,126.8 L1337.9,126.8 L1336.4,127.0 L1334.9,127.2 L1333.4,127.3 L1331.9,127.5 L1330.4,127.7 L1328.9,127.8 L1327.4,128.0 L1325.9,128.2 L1324.4,128.4 L1322.9,128.5 L1321.4,128.7 L1319.8,128.9 L1318.3,129.1 L1316.8,129.3 L1315.3,129.4 L1313.8,129.6 L1312.3,129.8 L1310.8,130.0 L1309.3,130.2 L1307.8,130.4 L1306.3,130.6 L1304.8,130.8 L1303.3,131.0 L1301.8,131.2 L1300.3,131.4 L1298.8,131.6 L1297.3,131.8 L1295.8,132.1 L1294.2,132.3 L1292.7,132.5 L1291.6,132.7Z M1347.3,135.1 L1347.9,135.1 L1349.4,134.9 L1350.8,134.8 L1352.3,134.6 L1353.8,134.5 L1355.3,134.3 L1356.8,134.2 L1358.3,134.1 L1359.8,133.9 L1361.3,133.8 L1362.8,133.7 L1364.3,133.5 L1365.8,133.4 L1367.3,133.3 L1368.8,133.1 L1370.3,133.0 L1371.8,132.9 L1373.3,132.8 L1374.8,132.7 L1376.3,132.5 L1377.8,132.4 L1379.2,132.3 L1380.7,132.2 L1382.2,132.1 L1383.7,132.0 L1385.2,131.9 L1386.7,131.8 L1388.2,131.7 L1389.7,131.6 L1391.2,131.4 L1392.7,131.3 L1393.5,131.3 L1392.9,122.1 L1392.1,122.2 L1390.6,122.3 L1389.1,122.4 L1387.6,122.5 L1386.1,122.6 L1384.6,122.7 L1383.1,122.8 L1381.6,122.9 L1380.1,123.0 L1378.6,123.1 L1377.0,123.3 L1375.5,123.4 L1374.0,123.5 L1372.5,123.6 L1371.0,123.7 L1369.5,123.9 L1368.0,124.0 L1366.5,124.1 L1365.0,124.2 L1363.5,124.4 L1362.0,124.5 L1360.5,124.6 L1359.0,124.8 L1357.5,124.9 L1356.0,125.0 L1354.5,125.2 L1353.0,125.3 L1351.5,125.5 L1350.0,125.6 L1348.4,125.8 L1346.9,125.9 L1346.4,126.0Z M1402.0,130.8 L1403.2,130.7 L1404.7,130.6 L1406.2,130.5 L1407.7,130.4 L1409.2,130.3 L1410.7,130.3 L1412.1,130.2 L1413.6,130.1 L1415.1,130.0 L1416.6,129.9 L1418.1,129.9 L1419.6,129.8 L1421.1,129.7 L1422.6,129.7 L1424.1,129.6 L1425.6,129.5 L1427.1,129.5 L1428.6,129.4 L1430.1,129.3 L1431.6,129.3 L1433.1,129.2 L1434.6,129.1 L1436.1,129.1 L1437.6,129.0 L1439.1,129.0 L1440.6,128.9 L1442.1,128.9 L1443.5,128.8 L1445.0,128.8 L1446.5,128.7 L1448.0,128.7 L1448.3,128.7 L1448.0,119.5 L1447.8,119.5 L1446.3,119.5 L1444.8,119.6 L1443.3,119.6 L1441.7,119.7 L1440.2,119.7 L1438.7,119.8 L1437.2,119.8 L1435.7,119.9 L1434.2,120.0 L1432.7,120.0 L1431.2,120.1 L1429.7,120.1 L1428.2,120.2 L1426.7,120.3 L1425.2,120.3 L1423.7,120.4 L1422.2,120.5 L1420.7,120.5 L1419.2,120.6 L1417.7,120.7 L1416.2,120.8 L1414.7,120.8 L1413.2,120.9 L1411.7,121.0 L1410.1,121.1 L1408.6,121.2 L1407.1,121.2 L1405.6,121.3 L1404.1,121.4 L1402.6,121.5 L1401.4,121.6Z M1456.7,128.5 L1457.0,128.5 L1458.5,128.4 L1460.0,128.4 L1461.5,128.4 L1463.0,128.3 L1464.5,128.3 L1466.0,128.3 L1467.5,128.2 L1469.0,128.2 L1470.5,128.2 L1472.0,128.2 L1473.5,128.2 L1475.0,128.1 L1476.4,128.1 L1477.9,128.1 L1479.4,128.1 L1480.9,128.1 L1482.4,128.1 L1483.9,128.1 L1485.4,128.1 L1486.9,128.1 L1488.4,128.1 L1489.9,128.1 L1491.4,128.1 L1492.9,128.1 L1494.4,128.1 L1495.9,128.1 L1497.4,128.1 L1498.9,128.1 L1500.4,128.1 L1501.9,128.1 L1503.1,128.1 L1503.2,118.9 L1501.9,118.9 L1500.4,118.9 L1498.9,118.9 L1497.4,118.9 L1495.9,118.9 L1494.4,118.9 L1492.9,118.9 L1491.4,118.9 L1489.9,118.9 L1488.4,118.9 L1486.9,118.9 L1485.4,118.9 L1483.9,118.9 L1482.4,118.9 L1480.9,118.9 L1479.4,118.9 L1477.9,118.9 L1476.4,118.9 L1474.8,118.9 L1473.3,119.0 L1471.8,119.0 L1470.3,119.0 L1468.8,119.0 L1467.3,119.0 L1465.8,119.1 L1464.3,119.1 L1462.8,119.1 L1461.3,119.2 L1459.8,119.2 L1458.3,119.2 L1456.8,119.3 L1456.5,119.3Z M1511.6,128.2 L1512.3,128.2 L1513.8,128.2 L1515.3,128.2 L1516.8,128.3 L1518.3,128.3 L1519.8,128.3 L1521.3,128.3 L1522.8,128.4 L1524.3,128.4 L1525.8,128.4 L1527.3,128.5 L1528.8,128.5 L1530.3,128.6 L1531.8,128.6 L1533.3,128.6 L1534.8,128.7 L1536.3,128.7 L1537.8,128.8 L1539.3,128.8 L1540.7,128.9 L1542.2,128.9 L1543.7,129.0 L1545.2,129.0 L1546.7,129.1 L1548.2,129.1 L1549.7,129.2 L1551.2,129.2 L1552.7,129.3 L1554.2,129.4 L1555.7,129.4 L1557.2,129.5 L1557.9,129.5 L1558.3,120.3 L1557.6,120.3 L1556.1,120.2 L1554.6,120.2 L1553.1,120.1 L1551.6,120.1 L1550.1,120.0 L1548.6,119.9 L1547.1,119.9 L1545.6,119.8 L1544.1,119.8 L1542.6,119.7 L1541.1,119.7 L1539.5,119.6 L1538.0,119.6 L1536.5,119.5 L1535.0,119.5 L1533.5,119.4 L1532.0,119.4 L1530.5,119.4 L1529.0,119.3 L1527.5,119.3 L1526.0,119.2 L1524.5,119.2 L1523.0,119.2 L1521.5,119.2 L1520.0,119.1 L1518.5,119.1 L1517.0,119.1 L1515.5,119.0 L1514.0,119.0 L1512.5,119.0 L1511.7,119.0Z M1566.4,129.9 L1567.7,130.0 L1569.2,130.1 L1570.7,130.2 L1572.1,130.2 L1573.6,130.3 L1575.1,130.4 L1576.6,130.5 L1578.1,130.6 L1579.6,130.7 L1581.1,130.8 L1582.6,130.9 L1584.1,131.0 L1585.6,131.1 L1587.1,131.2 L1588.6,131.3 L1590.1,131.4 L1591.6,131.5 L1593.0,131.6 L1594.5,131.7 L1596.0,131.9 L1597.5,132.0 L1599.0,132.1 L1600.5,132.2 L1602.0,132.4 L1603.5,132.5 L1605.0,132.6 L1606.5,132.8 L1608.0,132.9 L1609.4,133.1 L1610.9,133.2 L1612.4,133.4 L1612.5,133.4 L1613.4,124.2 L1613.4,124.2 L1611.9,124.1 L1610.4,123.9 L1608.8,123.8 L1607.3,123.6 L1605.8,123.5 L1604.3,123.3 L1602.8,123.2 L1601.3,123.1 L1599.8,122.9 L1598.3,122.8 L1596.8,122.7 L1595.3,122.6 L1593.8,122.4 L1592.2,122.3 L1590.7,122.2 L1589.2,122.1 L1587.7,122.0 L1586.2,121.9 L1584.7,121.8 L1583.2,121.7 L1581.7,121.6 L1580.2,121.5 L1578.7,121.4 L1577.2,121.3 L1575.7,121.2 L1574.2,121.1 L1572.7,121.1 L1571.1,121.0 L1569.6,120.9 L1568.1,120.8 L1566.8,120.7Z M1620.9,134.3 L1621.4,134.3 L1622.9,134.5 L1624.3,134.7 L1625.8,134.9 L1627.3,135.1 L1628.8,135.3 L1630.3,135.5 L1631.8,135.6 L1633.3,135.9 L1634.8,136.1 L1636.3,136.3 L1637.7,136.5 L1639.2,136.7 L1640.7,136.9 L1642.2,137.1 L1643.7,137.4 L1645.2,137.6 L1646.7,137.9 L1648.2,138.1 L1649.6,138.3 L1651.1,138.6 L1652.6,138.9 L1654.1,139.1 L1655.6,139.4 L1657.1,139.6 L1658.6,139.9 L1660.0,140.2 L1661.5,140.5 L1663.0,140.8 L1664.5,141.1 L1666.0,141.4 L1666.4,141.5 L1668.3,132.4 L1667.8,132.4 L1666.3,132.1 L1664.8,131.8 L1663.3,131.5 L1661.8,131.2 L1660.2,130.9 L1658.7,130.6 L1657.2,130.3 L1655.7,130.1 L1654.2,129.8 L1652.7,129.5 L1651.2,129.3 L1649.6,129.0 L1648.1,128.8 L1646.6,128.5 L1645.1,128.3 L1643.6,128.1 L1642.1,127.8 L1640.6,127.6 L1639.1,127.4 L1637.5,127.2 L1636.0,126.9 L1634.5,126.7 L1633.0,126.5 L1631.5,126.3 L1630.0,126.1 L1628.5,125.9 L1627.0,125.7 L1625.5,125.6 L1623.9,125.4 L1622.4,125.2 L1621.9,125.1Z M1674.7,143.2 L1674.9,143.3 L1676.4,143.6 L1677.9,143.9 L1679.4,144.3 L1680.8,144.6 L1682.3,145.0 L1683.8,145.4 L1685.3,145.7 L1686.8,146.1 L1688.3,146.5 L1689.8,146.8 L1691.2,147.2 L1692.7,147.6 L1694.2,148.0 L1695.7,148.4 L1697.2,148.8 L1698.7,149.2 L1700.2,149.6 L1701.6,150.1 L1703.1,150.5 L1704.6,150.9 L1706.1,151.3 L1707.6,151.8 L1709.1,152.2 L1710.6,152.7 L1712.0,153.1 L1713.5,153.6 L1715.0,154.1 L1716.5,154.5 L1718.0,155.0 L1719.1,155.4 L1721.9,146.6 L1720.8,146.3 L1719.3,145.8 L1717.8,145.3 L1716.3,144.8 L1714.8,144.4 L1713.2,143.9 L1711.7,143.4 L1710.2,143.0 L1708.7,142.5 L1707.2,142.1 L1705.7,141.6 L1704.2,141.2 L1702.6,140.8 L1701.1,140.4 L1699.6,139.9 L1698.1,139.5 L1696.6,139.1 L1695.1,138.7 L1693.6,138.3 L1692.0,137.9 L1690.5,137.5 L1689.0,137.2 L1687.5,136.8 L1686.0,136.4 L1684.5,136.0 L1683.0,135.7 L1681.4,135.3 L1679.9,135.0 L1678.4,134.6 L1676.9,134.3 L1676.6,134.2Z M1727.0,158.0 L1728.4,158.5 L1729.9,159.0 L1731.4,159.5 L1732.8,160.1 L1734.3,160.6 L1735.8,161.2 L1737.3,161.7 L1738.8,162.2 L1740.3,162.8 L1741.8,163.4 L1743.3,163.9 L1744.7,164.5 L1746.2,165.1 L1747.7,165.7 L1749.2,166.3 L1750.7,166.8 L1752.2,167.4 L1753.7,168.1 L1755.1,168.7 L1756.6,169.3 L1758.1,169.9 L1759.6,170.5 L1761.1,171.2 L1762.6,171.8 L1764.1,172.4 L1765.6,173.1 L1767.0,173.7 L1768.5,174.4 L1769.9,175.0 L1773.6,166.6 L1772.3,166.0 L1770.8,165.3 L1769.2,164.7 L1767.7,164.0 L1766.2,163.3 L1764.7,162.7 L1763.2,162.0 L1761.7,161.4 L1760.2,160.8 L1758.7,160.2 L1757.1,159.5 L1755.6,158.9 L1754.1,158.3 L1752.6,157.7 L1751.1,157.1 L1749.6,156.5 L1748.1,155.9 L1746.5,155.3 L1745.0,154.8 L1743.5,154.2 L1742.0,153.6 L1740.5,153.1 L1739.0,152.5 L1737.5,152.0 L1736.0,151.4 L1734.4,150.9 L1732.9,150.3 L1731.4,149.8 L1730.0,149.3Z M1777.5,178.5 L1778.9,179.2 L1780.4,179.9 L1781.9,180.6 L1783.4,181.3 L1784.9,182.0 L1786.4,182.7 L1787.9,183.5 L1789.4,184.2 L1790.8,184.9 L1792.3,185.7 L1793.8,186.4 L1795.3,187.2 L1796.8,188.0 L1798.3,188.7 L1799.8,189.5 L1801.3,190.3 L1802.7,191.1 L1804.2,191.9 L1805.7,192.7 L1807.2,193.5 L1808.7,194.3 L1810.2,195.1 L1811.7,195.9 L1813.2,196.7 L1814.6,197.6 L1816.1,198.4 L1817.6,199.3 L1818.5,199.7 L1823.0,191.7 L1822.2,191.3 L1820.7,190.4 L1819.2,189.5 L1817.6,188.7 L1816.1,187.9 L1814.6,187.0 L1813.1,186.2 L1811.6,185.4 L1810.1,184.6 L1808.6,183.7 L1807.1,182.9 L1805.5,182.1 L1804.0,181.4 L1802.5,180.6 L1801.0,179.8 L1799.5,179.0 L1798.0,178.2 L1796.5,177.5 L1795.0,176.7 L1793.4,176.0 L1791.9,175.2 L1790.4,174.5 L1788.9,173.7 L1787.4,173.0 L1785.9,172.3 L1784.4,171.5 L1782.9,170.8 L1781.4,170.2Z M1825.8,204.0 L1826.6,204.4 L1828.0,205.3 L1829.5,206.2 L1831.0,207.1 L1832.5,208.0 L1834.0,208.9 L1835.5,209.8 L1837.0,210.7 L1838.5,211.7 L1840.0,212.6 L1841.4,213.5 L1842.9,214.5 L1844.4,215.4 L1845.9,216.4 L1847.4,217.3 L1848.9,218.3 L1850.4,219.3 L1851.9,220.2 L1853.4,221.2 L1854.8,222.2 L1856.3,223.2 L1857.8,224.2 L1859.3,225.2 L1860.8,226.2 L1862.3,227.3 L1863.8,228.3 L1864.6,228.9 L1869.9,221.3 L1869.0,220.7 L1867.5,219.7 L1866.0,218.6 L1864.5,217.6 L1863.0,216.6 L1861.5,215.6 L1860.0,214.6 L1858.4,213.6 L1856.9,212.6 L1855.4,211.6 L1853.9,210.6 L1852.4,209.6 L1850.9,208.6 L1849.4,207.7 L1847.9,206.7 L1846.4,205.8 L1844.8,204.8 L1843.3,203.9 L1841.8,202.9 L1840.3,202.0 L1838.8,201.1 L1837.3,200.1 L1835.8,199.2 L1834.3,198.3 L1832.8,197.4 L1831.2,196.5 L1830.4,196.0Z M1871.5,233.7 L1872.7,234.6 L1874.2,235.6 L1875.7,236.7 L1877.2,237.8 L1878.7,238.9 L1880.2,240.0 L1881.7,241.0 L1883.2,242.2 L1884.6,243.3 L1886.1,244.4 L1887.6,245.5 L1889.1,246.6 L1890.6,247.8 L1892.1,248.9 L1893.6,250.0 L1895.1,251.2 L1896.6,252.4 L1898.1,253.5 L1899.6,254.7 L1901.0,255.9 L1902.5,257.0 L1904.0,258.2 L1905.5,259.4 L1907.0,260.6 L1908.3,261.7 L1914.1,254.5 L1912.8,253.5 L1911.3,252.3 L1909.8,251.0 L1908.3,249.8 L1906.8,248.6 L1905.2,247.5 L1903.7,246.3 L1902.2,245.1 L1900.7,243.9 L1899.2,242.8 L1897.7,241.6 L1896.2,240.4 L1894.7,239.3 L1893.2,238.2 L1891.7,237.0 L1890.2,235.9 L1888.6,234.8 L1887.1,233.6 L1885.6,232.5 L1884.1,231.4 L1882.6,230.3 L1881.1,229.2 L1879.6,228.2 L1878.1,227.1 L1876.9,226.2Z M1914.9,267.0 L1916.0,268.0 L1917.5,269.2 L1918.9,270.5 L1920.4,271.7 L1921.9,273.0 L1923.4,274.2 L1924.9,275.5 L1926.4,276.8 L1927.9,278.0 L1929.4,279.3 L1930.9,280.6 L1932.4,281.9 L1933.9,283.2 L1935.4,284.5 L1936.9,285.8 L1938.4,287.1 L1939.9,288.4 L1941.4,289.8 L1942.8,291.1 L1944.3,292.4 L1945.8,293.8 L1947.3,295.1 L1948.8,296.4 L1949.9,297.4 L1956.0,290.5 L1955.0,289.6 L1953.5,288.2 L1952.0,286.9 L1950.5,285.5 L1949.0,284.2 L1947.4,282.9 L1945.9,281.5 L1944.4,280.2 L1942.9,278.9 L1941.4,277.6 L1939.9,276.3 L1938.4,275.0 L1936.9,273.7 L1935.4,272.4 L1933.9,271.1 L1932.4,269.8 L1930.9,268.5 L1929.4,267.2 L1927.9,265.9 L1926.4,264.7 L1924.9,263.4 L1923.3,262.1 L1921.8,260.9 L1920.7,260.0Z M1956.2,303.0 L1956.3,303.2 L1957.8,304.5 L1959.3,305.9 L1960.8,307.3 L1962.3,308.7 L1963.8,310.0 L1965.3,311.4 L1966.8,312.8 L1968.3,314.2 L1969.8,315.6 L1971.3,316.9 L1972.8,318.3 L1974.3,319.7 L1975.8,321.1 L1977.3,322.5 L1978.8,323.9 L1980.3,325.3 L1981.8,326.7 L1983.2,328.1 L1984.7,329.5 L1986.2,331.0 L1987.7,332.4 L1989.2,333.8 L1990.1,334.6 L1996.5,328.0 L1995.6,327.1 L1994.1,325.7 L1992.6,324.3 L1991.1,322.8 L1989.6,321.4 L1988.0,320.0 L1986.5,318.6 L1985.0,317.2 L1983.5,315.8 L1982.0,314.4 L1980.5,313.0 L1979.0,311.6 L1977.5,310.2 L1976.0,308.8 L1974.5,307.4 L1973.0,306.0 L1971.5,304.6 L1970.0,303.3 L1968.5,301.9 L1967.0,300.5 L1965.5,299.1 L1964.0,297.7 L1962.5,296.4 L1962.3,296.2Z M1996.3,340.5 L1996.7,340.9 L1998.2,342.3 L1999.7,343.7 L2001.2,345.2 L2002.7,346.6 L2004.2,348.0 L2005.7,349.4 L2007.2,350.9 L2008.7,352.3 L2010.2,353.7 L2011.7,355.2 L2013.2,356.6 L2014.7,358.0 L2016.2,359.5 L2017.7,360.9 L2019.2,362.3 L2020.7,363.7 L2022.2,365.2 L2023.7,366.6 L2025.2,368.0 L2026.7,369.5 L2028.2,370.9 L2029.7,372.3 L2030.0,372.6 L2036.3,365.9 L2036.1,365.7 L2034.6,364.2 L2033.1,362.8 L2031.6,361.4 L2030.1,360.0 L2028.6,358.5 L2027.1,357.1 L2025.6,355.7 L2024.1,354.2 L2022.6,352.8 L2021.1,351.4 L2019.6,349.9 L2018.1,348.5 L2016.6,347.1 L2015.1,345.6 L2013.6,344.2 L2012.1,342.8 L2010.6,341.3 L2009.1,339.9 L2007.6,338.5 L2006.1,337.1 L2004.6,335.6 L2003.1,334.2 L2002.6,333.8Z M2036.2,378.4 L2037.2,379.4 L2038.7,380.9 L2040.2,382.3 L2041.8,383.7 L2043.3,385.1 L2044.8,386.5 L2046.3,387.9 L2047.8,389.3 L2049.3,390.7 L2050.8,392.1 L2052.3,393.5 L2053.8,394.9 L2055.3,396.3 L2056.8,397.7 L2058.3,399.0 L2059.8,400.4 L2061.3,401.8 L2062.8,403.2 L2064.3,404.5 L2065.8,405.9 L2067.3,407.3 L2068.8,408.6 L2070.3,410.0 L2070.4,410.0 L2076.5,403.2 L2076.5,403.2 L2075.0,401.8 L2073.5,400.5 L2072.0,399.1 L2070.5,397.7 L2069.0,396.4 L2067.5,395.0 L2066.0,393.6 L2064.5,392.3 L2063.0,390.9 L2061.5,389.5 L2060.0,388.1 L2058.5,386.7 L2057.0,385.4 L2055.5,384.0 L2054.0,382.6 L2052.5,381.2 L2051.0,379.8 L2049.5,378.4 L2048.0,377.0 L2046.6,375.6 L2045.1,374.2 L2043.6,372.8 L2042.5,371.7Z M2076.7,415.8 L2077.8,416.8 L2079.3,418.1 L2080.8,419.5 L2082.3,420.8 L2083.8,422.2 L2085.3,423.5 L2086.8,424.9 L2088.3,426.2 L2089.8,427.6 L2091.3,428.9 L2092.8,430.3 L2094.3,431.6 L2095.8,432.9 L2097.3,434.3 L2098.8,435.6 L2100.3,437.0 L2101.8,438.3 L2103.3,439.6 L2104.8,441.0 L2106.3,442.3 L2107.8,443.6 L2109.3,445.0 L2110.8,446.3 L2111.4,446.8 L2117.5,439.9 L2117.0,439.4 L2115.5,438.1 L2114.0,436.8 L2112.5,435.4 L2111.0,434.1 L2109.5,432.8 L2108.0,431.4 L2106.5,430.1 L2105.0,428.7 L2103.5,427.4 L2102.0,426.1 L2100.5,424.7 L2099.0,423.4 L2097.5,422.1 L2096.0,420.7 L2094.5,419.4 L2093.0,418.0 L2091.5,416.7 L2090.0,415.4 L2088.5,414.0 L2087.0,412.7 L2085.5,411.3 L2084.0,410.0 L2082.8,408.9Z M2117.7,452.4 L2118.3,453.0 L2119.8,454.3 L2121.3,455.6 L2122.8,457.0 L2124.3,458.3 L2125.8,459.6 L2127.3,460.9 L2128.9,462.3 L2130.4,463.6 L2131.9,464.9 L2133.4,466.3 L2134.9,467.6 L2136.4,468.9 L2137.9,470.2 L2139.4,471.6 L2140.9,472.9 L2142.4,474.2 L2143.9,475.5 L2145.4,476.9 L2146.9,478.2 L2148.4,479.5 L2149.9,480.8 L2151.4,482.1 L2152.6,483.2 L2158.7,476.3 L2157.4,475.2 L2155.9,473.9 L2154.4,472.6 L2152.9,471.3 L2151.4,469.9 L2149.9,468.6 L2148.4,467.3 L2146.9,466.0 L2145.4,464.7 L2143.9,463.3 L2142.4,462.0 L2140.9,460.7 L2139.4,459.4 L2137.9,458.0 L2136.4,456.7 L2134.9,455.4 L2133.5,454.1 L2132.0,452.7 L2130.5,451.4 L2129.0,450.1 L2127.5,448.7 L2126.0,447.4 L2124.5,446.1 L2123.8,445.5Z M2159.0,488.8 L2160.4,490.0 L2161.9,491.3 L2163.4,492.6 L2164.9,493.9 L2166.4,495.2 L2167.9,496.5 L2169.4,497.8 L2170.9,499.1 L2172.4,500.4 L2173.9,501.7 L2175.4,503.0 L2176.9,504.3 L2178.4,505.6 L2179.9,506.9 L2181.4,508.2 L2182.9,509.5 L2184.4,510.8 L2185.9,512.1 L2187.4,513.3 L2188.9,514.6 L2190.4,515.9 L2191.9,517.2 L2193.4,518.5 L2194.3,519.2 L2200.2,512.2 L2199.4,511.4 L2197.9,510.2 L2196.4,508.9 L2194.9,507.6 L2193.4,506.3 L2191.9,505.1 L2190.4,503.8 L2188.9,502.5 L2187.4,501.2 L2185.9,499.9 L2184.4,498.6 L2182.9,497.3 L2181.4,496.1 L2179.9,494.8 L2178.4,493.5 L2176.9,492.2 L2175.4,490.9 L2173.9,489.6 L2172.4,488.3 L2170.9,487.0 L2169.4,485.7 L2167.9,484.4 L2166.4,483.1 L2165.1,481.9Z M2200.8,524.7 L2200.9,524.8 L2202.4,526.1 L2203.9,527.4 L2205.4,528.6 L2206.9,529.9 L2208.4,531.1 L2209.9,532.4 L2211.4,533.7 L2213.0,534.9 L2214.5,536.2 L2216.0,537.4 L2217.5,538.7 L2219.0,539.9 L2220.5,541.2 L2222.0,542.4 L2223.5,543.7 L2225.0,544.9 L2226.5,546.1 L2228.0,547.4 L2229.5,548.6 L2231.0,549.9 L2232.5,551.1 L2234.0,552.3 L2235.5,553.5 L2236.6,554.5 L2242.4,547.3 L2241.3,546.4 L2239.8,545.2 L2238.3,544.0 L2236.8,542.7 L2235.3,541.5 L2233.8,540.3 L2232.3,539.0 L2230.8,537.8 L2229.3,536.6 L2227.8,535.3 L2226.3,534.1 L2224.8,532.8 L2223.3,531.6 L2221.8,530.4 L2220.3,529.1 L2218.8,527.9 L2217.4,526.6 L2215.9,525.4 L2214.4,524.1 L2212.9,522.8 L2211.4,521.6 L2209.9,520.3 L2208.4,519.1 L2206.9,517.8 L2206.7,517.7Z M2243.2,559.8 L2244.5,560.9 L2246.0,562.1 L2247.5,563.3 L2249.0,564.5 L2250.5,565.7 L2252.0,566.9 L2253.5,568.1 L2255.0,569.3 L2256.5,570.5 L2258.0,571.7 L2259.5,572.9 L2261.0,574.1 L2262.5,575.3 L2264.0,576.5 L2265.5,577.7 L2267.1,578.9 L2268.6,580.1 L2270.1,581.3 L2271.6,582.4 L2273.1,583.6 L2274.6,584.8 L2276.1,586.0 L2277.6,587.1 L2279.1,588.3 L2279.7,588.8 L2285.4,581.5 L2284.7,581.0 L2283.2,579.9 L2281.7,578.7 L2280.2,577.5 L2278.7,576.4 L2277.2,575.2 L2275.7,574.0 L2274.2,572.8 L2272.7,571.7 L2271.3,570.5 L2269.8,569.3 L2268.3,568.1 L2266.8,566.9 L2265.3,565.7 L2263.8,564.5 L2262.3,563.3 L2260.8,562.2 L2259.3,561.0 L2257.8,559.8 L2256.3,558.6 L2254.8,557.3 L2253.3,556.1 L2251.8,554.9 L2250.3,553.7 L2249.0,552.7Z M2286.5,594.0 L2286.6,594.1 L2288.1,595.3 L2289.6,596.4 L2291.1,597.6 L2292.6,598.7 L2294.1,599.9 L2295.6,601.0 L2297.1,602.1 L2298.6,603.3 L2300.1,604.4 L2301.6,605.5 L2303.1,606.7 L2304.6,607.8 L2306.1,608.9 L2307.6,610.0 L2309.2,611.2 L2310.7,612.3 L2312.2,613.4 L2313.7,614.5 L2315.2,615.6 L2316.7,616.7 L2318.2,617.8 L2319.7,618.9 L2321.2,620.0 L2322.7,621.1 L2323.8,621.9 L2329.2,614.5 L2328.1,613.7 L2326.6,612.6 L2325.1,611.5 L2323.6,610.4 L2322.1,609.3 L2320.6,608.2 L2319.1,607.1 L2317.6,606.0 L2316.1,604.9 L2314.6,603.8 L2313.2,602.7 L2311.7,601.6 L2310.2,600.4 L2308.7,599.3 L2307.2,598.2 L2305.7,597.1 L2304.2,595.9 L2302.7,594.8 L2301.2,593.7 L2299.7,592.5 L2298.2,591.4 L2296.7,590.2 L2295.2,589.1 L2293.7,588.0 L2292.2,586.8 L2292.1,586.7Z M2330.7,626.9 L2331.7,627.7 L2333.2,628.8 L2334.7,629.8 L2336.2,630.9 L2337.7,632.0 L2339.2,633.0 L2340.7,634.1 L2342.2,635.2 L2343.8,636.2 L2345.3,637.3 L2346.8,638.3 L2348.3,639.4 L2349.8,640.4 L2351.3,641.5 L2352.8,642.5 L2354.3,643.6 L2354.6,643.8 L2359.8,636.2 L2359.5,636.0 L2358.0,635.0 L2356.5,633.9 L2355.0,632.9 L2353.5,631.9 L2352.0,630.8 L2350.5,629.8 L2349.0,628.7 L2347.6,627.7 L2346.1,626.6 L2344.6,625.5 L2343.1,624.5 L2341.6,623.4 L2340.1,622.3 L2338.6,621.3 L2337.1,620.2 L2336.1,619.5Z M383.3,529.3 L384.8,528.6 L386.3,527.9 L387.9,527.2 L388.8,526.7 L384.9,518.4 L383.9,518.8 L382.5,519.5 L381.0,520.2 L379.5,520.9Z"/>
<g font-family="'Liberation Sans',sans-serif" fill="#000">
<text x="316" y="1685.0" font-size="91" text-anchor="end">-40</text>
<text x="316" y="1457.6" font-size="91" text-anchor="end">-30</text>
<text x="316" y="1232.1" font-size="91" text-anchor="end">-20</text>
<text x="316" y="1005.2" font-size="91" text-anchor="end">-10</text>
<text x="316" y="777.8" font-size="91" text-anchor="end">0</text>
<text x="316" y="550.4" font-size="91" text-anchor="end">10</text>
<text x="316" y="322.9" font-size="91" text-anchor="end">20</text>
<text x="316" y="95.5" font-size="91" text-anchor="end">30</text>
<text x="382.0" y="1798.8" font-size="80.5" text-anchor="middle">14</text>
<text x="710.7" y="1798.8" font-size="80.5" text-anchor="middle">15</text>
<text x="1040.0" y="1798.8" font-size="80.5" text-anchor="middle">16</text>
<text x="1369.3" y="1798.8" font-size="80.5" text-anchor="middle">17</text>
<text x="1698.6" y="1798.8" font-size="80.5" text-anchor="middle">18</text>
<text x="2027.9" y="1798.8" font-size="80.5" text-anchor="middle">19</text>
<text x="2355.2" y="1798.8" font-size="80.5" text-anchor="middle">20</text>
<text x="1370" y="1952.5" font-size="81" text-anchor="middle">Frequency (GHz)</text>
<text transform="translate(96.6,864) rotate(-90)" font-size="90" text-anchor="middle">S-parameters (dB)</text>
</g>
</g>
<ellipse cx="2019.5" cy="322.0" rx="31.5" ry="76.5" fill="none" stroke="#0000ff" stroke-width="10.5"/>
<ellipse cx="1561.5" cy="1008.5" rx="31.5" ry="76.5" fill="none" stroke="#ff2426" stroke-width="10.5"/>
<ellipse cx="1477.0" cy="1127.0" rx="31.5" ry="76.5" fill="none" stroke="#228b22" stroke-width="10.5"/>
<text transform="translate(1821.0,440.5) scale(0.945,1)" font-family="'DejaVu Sans Condensed','Liberation Sans',sans-serif" font-size="106" fill="#000">S</text>
<text transform="translate(1877.0,466.0) scale(0.965,1)" font-family="'DejaVu Sans','Liberation Sans',sans-serif" font-size="68.5" fill="#000">21</text>
<text transform="translate(1521.6,886.2) scale(0.945,1)" font-family="'DejaVu Sans Condensed','Liberation Sans',sans-serif" font-size="106" fill="#000">S</text>
<text transform="translate(1577.6,911.7) scale(0.965,1)" font-family="'DejaVu Sans','Liberation Sans',sans-serif" font-size="68.5" fill="#000">11</text>
<text transform="translate(1375.4,1251.0) scale(0.945,1)" font-family="'DejaVu Sans Condensed','Liberation Sans',sans-serif" font-size="106" fill="#000">S</text>
<text transform="translate(1431.4,1276.5) scale(0.965,1)" font-family="'DejaVu Sans','Liberation Sans',sans-serif" font-size="68.5" fill="#000">22</text>
<rect x="443.7" y="1297.7" width="754" height="279.6" fill="#ffffff" stroke="#000" stroke-width="5.5"/>
<path d="M458,1383 H718" stroke="#000" stroke-width="11" stroke-dasharray="68.5 24.5" fill="none"/>
<path d="M458,1510.8 H718" stroke="#000" stroke-width="8.4" fill="none"/>
<circle cx="481.0" cy="1510.8" r="15.8" fill="none" stroke="#000" stroke-width="4.5"/>
<circle cx="516.8" cy="1510.8" r="15.8" fill="none" stroke="#000" stroke-width="4.5"/>
<circle cx="552.5" cy="1510.8" r="15.8" fill="none" stroke="#000" stroke-width="4.5"/>
<circle cx="588.2" cy="1510.8" r="15.8" fill="none" stroke="#000" stroke-width="4.5"/>
<circle cx="624.0" cy="1510.8" r="15.8" fill="none" stroke="#000" stroke-width="4.5"/>
<circle cx="659.8" cy="1510.8" r="15.8" fill="none" stroke="#000" stroke-width="4.5"/>
<circle cx="695.5" cy="1510.8" r="15.8" fill="none" stroke="#000" stroke-width="4.5"/>
<text transform="translate(737.5,1406) scale(0.997,1)" font-family="'Liberation Sans',sans-serif" font-size="96" fill="#000">Simulated</text>
<text transform="translate(737.5,1533) scale(1.01,1)" font-family="'Liberation Sans',sans-serif" font-size="96" fill="#000">Measured</text>
</svg>
</body>
</html>
